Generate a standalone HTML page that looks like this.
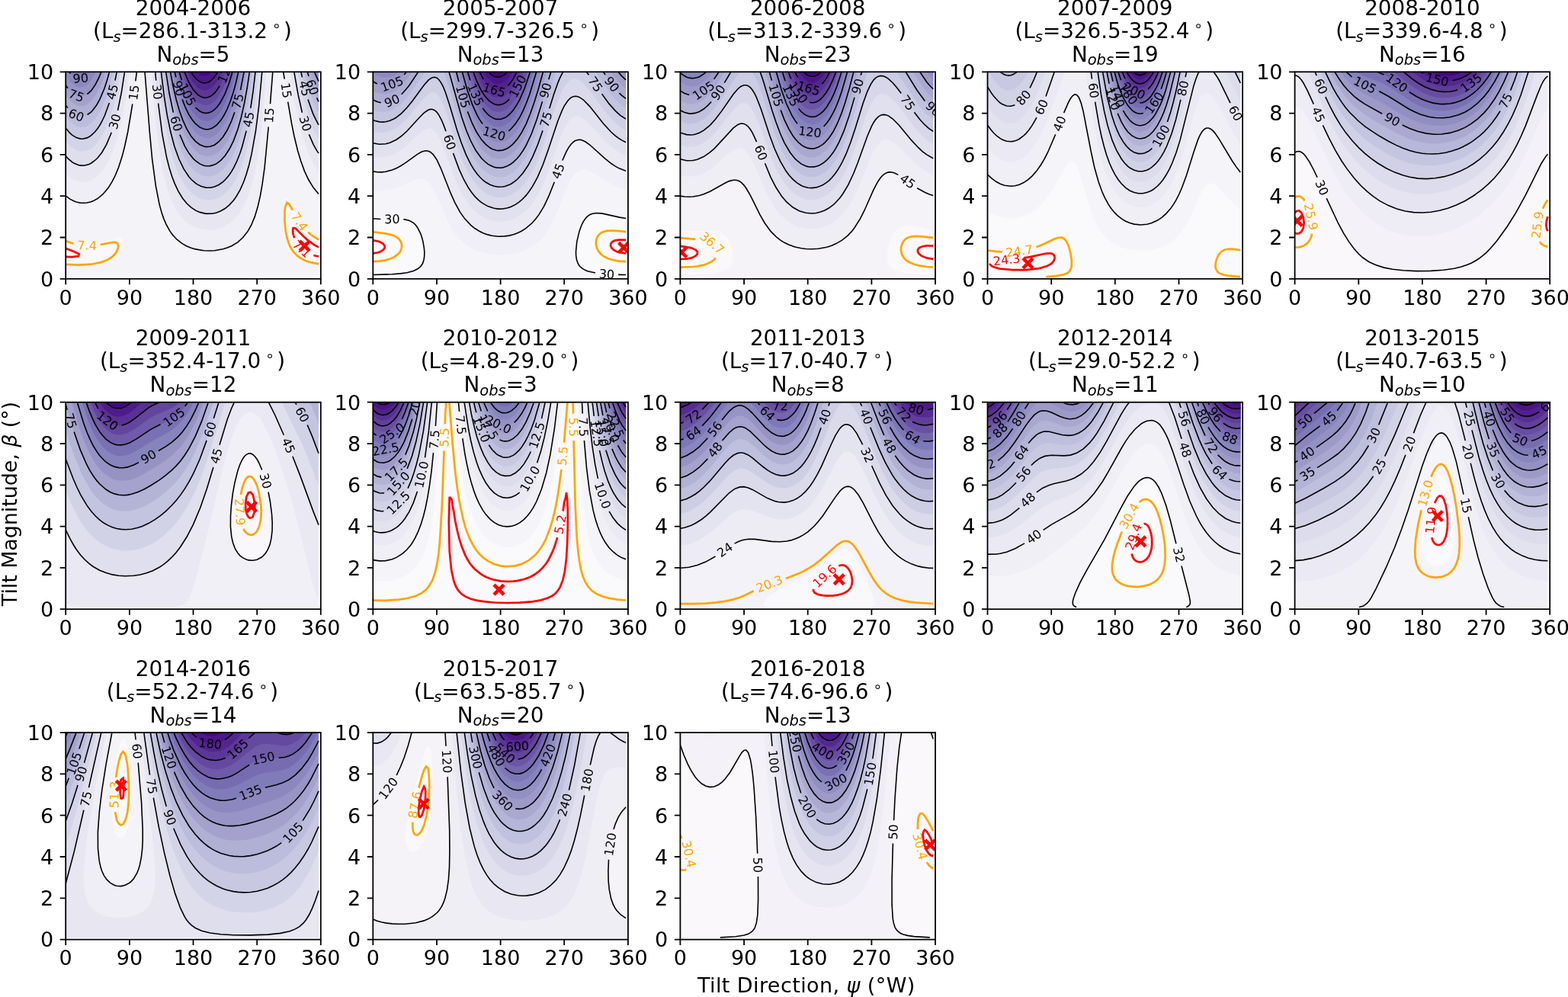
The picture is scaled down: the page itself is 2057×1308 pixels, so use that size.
<!DOCTYPE html>
<html><head><meta charset="utf-8"><title>Tilt fits</title><style>
*{margin:0;padding:0}
html,body{width:2057px;height:1308px;background:#fff;overflow:hidden}
svg{display:block}
text{font-family:"DejaVu Sans","Liberation Sans",sans-serif}
.tl{font-size:27px;fill:#000}
.tt{font-size:27.8px;fill:#000}
.cl{text-anchor:middle;dominant-baseline:central}
.sub{font-style:italic;font-size:0.7em}
.sup{font-size:0.66em}
</style></head>
<body><svg width="2057" height="1308" viewBox="0 0 2057 1308">
<rect width="2057" height="1308" fill="#fff"/>
<clipPath id="c1"><rect x="86.2" y="94.3" width="334.6" height="271.5"/></clipPath>
<g clip-path="url(#c1)">
<rect x="86.2" y="94.3" width="331.8" height="268.8" fill="#faf8fb"/>
<path fill="#f4f3f8" d="M86.2 363.1l331.8 0 0-14.6-13.9-2.9-10.3-4.2-7.4-5.5-2.5-2.7-3.7-5.4-4-9.5-2.8-12.1-1.2-11-0.5-13.6 0.4-10.8 1-8.2 0.3-1.7 2.8-2.3 2.8 3.3 11.7 22.5 7.3 10.8 8.9 9.5 5.5 4.3 5.6 3.4 0-218.1-331.8 0 0 219.5 5.6 2.3 8.3 2.3 8.4 1.2 8.4 0.3 8.3-0.6 8.4-1.5 19.5-6.1 2.8-0.4 2.8 0.5 1.9 2.4 0.7 5.4-2.1 8.2-3.1 5.4-5.2 5.5-4 2.7-5.7 2.7-7.6 2.4-13.9 2.4-16.8 0.9-16.7-0.9 0 11.5z"/>
<path fill="#efedf5" d="M260.6 327.8l12.4 1.2 11.2-0.7 11.1-2.4 11.2-4.7 8.3-5.8 6.4-6.6 5.6-8.2 5.3-10.8 3.9-10.9 4.2-16.3 3.2-16.3 2.7-19 4.1-38 7.6-95-167.8 0 6.5 81.5 4.4 43.4 4.3 29.9 2.7 13.5 3.4 13.6 3.6 10.9 4.9 10.8 5.1 8.2 4.4 5.4 5.9 5.4 7.1 4.7 8.4 3.6 8.4 2.3zM101.6 265.3l6.9 1.1 5.6-0.4 8.3-2.4 5.6-3.1 5.6-4.3 6.5-7.1 5.6-8.2 5.6-10.9 4.4-10.8 3.6-10.9 6.8-27.1 5.4-29.9 7.9-57-93.2 0 0 162.7 5.6 4.1 8.3 3.9zM415.5 251.8l2.5 2.6 0-160.1-46.3 0 10.9 67.9 3.9 19 4.8 19 5.1 16.3 5.5 13.5 5.7 10.9 7.6 10.6z"/>
<path fill="#e7e6f1" d="M264 300.6l9 1.2 11.2-1.1 8.3-2.8 8.4-4.8 7-6 6.6-8.2 4.9-8.1 5-10.9 4.4-12.5 3.9-14.6 6.2-32.6 5.3-43.5 5.1-62.4-150.6 0 3.8 48.9 5.1 46.1 5.4 32.6 6.1 24.4 3.7 11.2 4.6 10.6 4.5 8.1 4.9 6.8 5.5 6 5.6 4.5 5.6 3.4 8.4 3.2zM103.4 238.2l5.1 0.6 5.6-0.6 5.6-1.9 5.5-3.3 5.6-4.9 5.6-6.9 4.6-7.4 3.8-7.3 7.5-19.9 7.1-27.1 6-32.6 4.3-32.6-83.5 0 0 133.3 8.4 6.9 8.3 3.6zM416.1 221.9l1.9 2.5 0-130.1-37.8 0 6.5 40.7 4.4 21.7 4.1 16.3 4 13.6 5.1 13.6 5.3 11.4 5.6 9.1z"/>
<path fill="#dedeed" d="M263.4 278.9l6.8 1.5 8.4-0.1 8.4-2.2 8.3-4.6 5.6-4.6 5.6-6.3 5.6-8.2 5.5-11 4.2-10.6 4.2-13.7 3.9-16.2 3.2-16.3 5.8-40.7 4.9-51.6-140.1 0 4.1 43.4 5 38.1 5.6 29.8 5.8 21.7 7 18.3 4.7 8.9 3.7 5.7 5.5 6.8 5.6 5.1 5.6 3.8 5.6 2.5zM102.8 216.5l5.7 0.7 5.6-0.8 5.6-2.4 2.7-1.8 4.5-3.9 3.9-4.3 4.6-6.5 3.8-6.8 7.4-17.7 6.4-21.7 5.3-24.4 5.2-32.6-77.3 0 0 110.4 5.6 5.7 2.8 2.2 5.5 3zM417.4 200.2l0.6 0.9 0-106.8-32.2 0 5.8 32.6 7.2 29.8 8.1 23.5 4.1 9.1 4.6 8.2z"/>
<path fill="#d4d4e8" d="M261.8 259.9l5.6 1.9 8.4 0.6 8.4-1.9 5.5-2.7 5.6-4.1 5.6-5.6 5.6-7.6 5.7-10.5 4.6-10.8 3.7-10.9 3.7-13.5 3.7-16.3 5.8-35.3 5.5-48.9-131.4 0 3.5 32.6 4.6 32.6 5.2 27.1 5.7 21.7 7.1 19 7.3 13.6 3.9 5.5 5.6 6.1 8.4 6.1zM101.2 197.5l4.5 1.1 5.6-0.2 5.6-1.9 2.8-1.6 3.5-2.9 4.8-5 7.3-11.2 6.7-14.7 5.8-17.9 5.4-21.7 5-27.2-72 0 0 91 5.6 6.2 2.8 2.3 5.5 3.3zM417.9 181.2l0.1-86.9-27.5 0 6.2 29.9 5.9 21.7 7 19.4 6.7 13.2z"/>
<path fill="#c8c8e2" d="M262 243.6l5.4 2 8.4 0.6 5.6-1.2 5.6-2.5 5.5-3.9 5.6-5.7 5.6-7.7 5.6-10.3 3.9-9.3 4.4-12.8 6.5-25.2 5.8-32.6 5.1-40.7-123.6 0 4.4 35.3 4.6 27.1 5.2 23.8 5.6 18.8 5.8 14.5 4.2 8.1 3.9 6.4 8.4 9.6 8.4 5.7zM101.8 181.2l6.7 1 5.6-1.3 2.8-1.4 2.8-1.9 4.8-4.6 6.3-8.5 6.7-13.2 5.9-16.3 5.2-19 4.6-21.7-67 0 0 73.7 5.6 6.7 2.8 2.5 5.5 3.4zM417.1 162.2l0.9 1.6 0-69.5-23.1 0 4.3 19 4.9 17.6 5.5 15.8 6 12.8z"/>
<path fill="#bcbddc" d="M265 230l5.2 1.4 5.6 0 5.6-1.4 5.6-2.9 5.5-4.5 5.6-6.5 5-7.8 3.4-6.4 7.1-18 6.8-24.8 5.8-29.5 4.9-35.3-116.5 0 4.2 29.9 4.5 24.4 5.1 21.8 5.6 17.8 6.2 14.7 7.7 13 8.4 9 8.4 5zM99 164.9l3.9 1.6 2.8 0.5 5.6-0.6 2.8-1 5.6-3.7 6.7-7.7 6.4-10.8 5.7-13.6 5.2-16.3 4.7-19-62.2 0 0 58.1 5.6 6.9 5.6 4.7zM416.9 145.9l1.1 2 0-53.6-18.9 0 7.8 27.8 3.7 10.2 4.9 10.9z"/>
<path fill="#b0afd4" d="M265.4 216.5l4.8 1.2 5.6-0.1 5.6-1.6 5.6-3.3 4.8-4.4 3.5-4.1 4.6-6.7 3.8-7 7.1-17.5 6.3-21.7 5.6-27.1 4.7-29.9-109.7 0 4.2 27.2 4.4 21.7 4.9 19.1 5.6 16.7 5.8 13 8.1 12.9 5.6 5.9 2.8 2.3 5.6 3.1zM99.9 151.3l5.8 1.5 5.6-0.7 5.6-3 6-5.9 5.1-7.4 5.6-11.2 5.6-15.1 4.3-15.2-57.3 0 0 43.6 5.6 7.3 5.6 4.7zM417.5 132.3l0.5 1 0-39-14.7 0 6.3 20.2 6.5 15.1z"/>
<path fill="#a4a1cc" d="M263.8 202.9l3.6 1.4 5.6 0.7 5.6-1.1 2.8-1.1 4.1-2.6 4.2-3.7 5.6-6.9 3.6-5.7 7.6-16.3 6.2-19 5.8-24.4 5.2-29.9-103.1 0 3.8 21.7 4 19 5.1 19 4.7 13.6 4.8 10.9 6.3 10.8 7 8.4 5.6 4.2zM99.3 137.7l3.6 1.4 5.6 0.2 5.6-2.2 5.6-4.6 5.5-7.2 5.1-9.3 3.5-8.1 4.6-13.6-52.2 0 0 30.1 5.6 7.4 5.6 4.9zM417.6 118.7l0.4 0.9 0-25.3-10.3 0 4.7 13.2 3.8 8.5z"/>
<path fill="#9894c5" d="M267.2 192l3 0.6 5.6-0.3 5.6-2.1 2.8-1.9 7.2-7.1 6.7-10.4 5.6-12 6.2-18.3 5.5-21.8 4.7-24.4-96.6 0 3.6 19 4.5 19 5.2 17.2 4.9 12.7 6.2 12.2 5.6 7.9 5.6 5.4 5.6 3.4zM97.4 124.2l5.5 2.3 5.6 0 5.2-2.3 3.2-2.4 5-5.8 3.3-5.1 4.3-8.5 3.4-8.1-46.7 0 0 17.3 5.6 7.6 5.6 4.9zM417.2 105.2l0.8 1.5 0-12.4-5.6 0 3.5 8.1z"/>
<path fill="#8c88bf" d="M262.7 178.5l4.7 2 2.8 0.5 5.6-0.5 2.8-1 5.6-3.5 2.8-2.5 5.5-7 6.9-12.5 6.3-16.3 6.1-21.7 4.6-21.7-90.1 0 3.5 16.3 4.2 16.4 4.3 13.5 4 10.5 4.1 8.5 4.3 7.1 5.6 6.9 5.6 4.5zM99.6 113.3l3.3 1.1 2.8 0.2 4.9-1.3 3.5-2 5.6-5.7 6.9-11.3-40.4 0 0 5.2 5.6 7.7 5.6 4.9zM417.9 94.3l0.1 0z"/>
<path fill="#807cba" d="M263.2 167.6l4.2 1.7 2.8 0.5 5.6-0.7 5.6-2.8 2.8-2.2 6.3-7.4 6.3-10.8 5.6-13.6 5.1-16.3 5.2-21.7-83.5 0 7.6 29.2 7.4 19.7 3.7 7.3 5.6 8.5 2.8 3.2 5.6 4.7zM101.9 102.4l3.8 0.4 5.6-1.9 2.8-2 4.3-4.6-27.8 0 4 4.2 5.5 3.5z"/>
<path fill="#776cb1" d="M263 156.7l4.4 1.8 2.8 0.4 5.6-0.9 2.8-1.2 3.8-2.8 4.6-4.6 2.5-3.5 5.8-10.2 4.9-11.5 4.5-13.6 4.2-16.3-76.8 0 6.1 21.7 6.9 17.8 3.5 6.7 4.9 7.6 2.8 3.3 5.6 4.7z"/>
<path fill="#6e5aa8" d="M262.1 145.9l5.3 2.2 5.6 0 5.6-2.3 6.1-5.3 5-6.9 5.6-10.7 5.6-14.7 4.1-13.9-69.8 0 6 19 6.7 15.4 5.6 8.9 2.8 3.4 5.6 4.8z"/>
<path fill="#65489f" d="M266.7 137.7l3.5 0.5 5.6-1.4 5.6-3.9 2.8-3 4-5.7 4.3-7.8 4.7-11.2 3.7-10.9-62.5 0 6.7 18.3 5.6 10.7 5.6 7.6 2.8 2.7 5.6 3.5z"/>
<path fill="#5c3797" d="M263.8 126.9l3.6 1.2 5.6-0.5 5.6-3 2.8-2.5 4.7-6.1 3.6-6.1 6.7-15.6-54.5 0 3.2 8.2 5.6 11 5.6 7.7 5.6 4.7z"/>
<path fill="#53268f" d="M261.3 116l3.4 1.7 2.7 0.7 5.6-0.7 2.8-1.4 3.8-3 4.6-5.4 3.3-5.5 4-8.1-45.7 0 4.9 9.7 2.8 4.2 5.6 6.2z"/>
<path fill="#4c1788" d="M263.6 107.9l3.8 1 2.8-0.2 5.6-2.4 5.6-5.4 4.4-6.6-35.3 0 5.8 8.1 5.6 4.7z"/>
<path fill="#430780" d="M260.4 97l4.3 2.1 2.7 0.5 2.8-0.3 2.8-1.1 5.1-3.9-20.9 0 1.9 1.8z"/>
<path fill="none" stroke="#000" stroke-width="1.6" d="M86.2 257l5.6 4.1 5.6 2.9 2.7 1 5.6 1.2 5.6 0.1 2.8-0.3 5.6-1.3 2.7-1.1 5.6-3.1 7.3-6 6.7-7.9 5.2-8.4 4.1-8.2 4.4-10.8 4.4-13.6 3.5-13.6 4.1-19 6.1-36.5M177.8 106.4l1.6-12.1M190 94.3l6.3 78.7 3.3 35.3 4.7 35.3 4.8 24.5 3 10.8 2.8 8.2 3.5 8.1 4.6 8.2 4 5.4 5.1 5.4 7 5.4 6 3.4 5.6 2.2 5.6 1.7 11.1 1.8 8.4 0.3 5.6-0.3 11.1-2 5.6-1.7 5.6-2.3 8.4-5.1 6.7-6.1 6.3-8.1 4.6-8.2 4.5-10.8 4.1-13.6 3.1-13.6 2.8-16.3 3-21.7 5-52.7M354.5 136.2l3.3-41.9M371.7 94.3l1.5 9.4M377.7 133.7l4.9 28.5 3.3 16.3 4.6 19 4.1 13.5 4.9 13.6 5.1 10.9 6.6 10.8 6.8 8.1M86.2 204.7l3.4 3.6 5 4.3 2.8 1.7 5.5 2.2 2.8 0.6 5.6-0.1 5.6-1.6 2.8-1.4 4.2-3 4.1-3.7 5.6-7.1 6.2-10.9 6.5-15.5M154.5 144.9l4.8-23.4 4.2-27.2M203.7 94.3l1 11.3M207.6 135.6l5.2 40.2 5.6 29.8 3.4 13.6 3.8 12.4 3.6 9.3 4.8 10.3 5.6 9 5.5 6.8 5.6 5.1 5.6 3.8 5.6 2.5 8.3 2 8.4-0.1 5.6-1.3 5.5-2.2 5.6-3.3 5.6-4.6 5.6-6.2 3.8-5.5 4.7-8.1 4.8-10.9 3.4-9.7 3.5-12 3.2-13.6 5.4-29.9 4.2-32.5 4.3-46.2M385.8 94.3l5.3 29.9 5.3 23.5M405.4 176.4l5.6 12.9 4.2 7.6 2.8 4.2M86.2 168l5.6 6.7 2.8 2.5 5.5 3.4 5.6 1.5 2.8 0.1 5.6-1.3 2.8-1.4 2.8-1.9 4.8-4.6 3.5-4.3 2.8-4.2 2.8-5 3.9-8.2 5.9-16.3M151 105.7l2.2-11.4M211.4 94.3l4 32.6 3.9 24.4 4.5 21.7 5 19 5.8 16.3 6.6 13.6 6.7 10.1 3.1 3.5 5.3 4.7 2.8 1.9 5.6 2.7 5.5 1.3 5.6 0.1 5.6-1.2 5.6-2.5 5.5-3.9 2.8-2.6 5.1-6 3.3-4.8 3.4-6 3.9-8.2 3.8-9.7 2.8-8.5 5.6-21.2M328.8 141.8l3.4-23.1 2.8-24.4M394.9 94.3l1.5 7M404 130.6l6.4 18 3.8 8.1 3.8 7.1M86.2 137.9l2.6 3.7M114.6 150.5l5.1-3.7 2.7-3 4.4-6.1 4-7.1 6.2-14.6 3.5-10.8 3-10.9M217.7 94.3l4.2 27.2 5.4 26.1M235.9 176.6l6.4 15 5.6 9.5 5.6 7 3 2.9 5.4 3.9 5.5 2.3 2.8 0.5 5.6-0.1 5.6-1.6 2.8-1.4 5.5-4.2 5.6-6.2 6.1-9.4 5.1-10.4 5.6-15.2 4.3-15.2 4-17.7 3.7-20.3 3.3-21.7M403.3 94.3l1.7 5.8M415.5 128.4l2.5 4.9M86.2 111.6l2.7 4.1M114.4 123.7l5.3-4.8 5.5-8 4.3-8.5 3.4-8.1M223.5 94.3l3.6 19 4.1 17.5 4.4 15.1 4 11.2 5.5 12.4 5.6 9.2 5.6 6.6 5.6 4.4 5.5 2.4 2.8 0.5 5.6-0.3 5.6-2.1 5.6-4.2 5.5-6.3 5.6-8.9 5.6-12 4.1-11.5M315.5 118.1l4.6-23.8M412.4 94.3l5.6 12.4M90.6 94.3l1.9 2.2M118.1 94.7l0.3-0.4M229.2 94.3l1.6 7.1M239.1 130.4l3.9 10.1 4.9 10 4 6.2 4.4 5.5 5.6 4.7 5.5 2.4 2.8 0.5 2.8-0.1 2.8-0.6 2.8-1.1 5.6-3.9 5.5-6.3 4.2-6.5 4.2-8.3 4.3-10.7 3.6-10.8 3.3-12 3.4-15.2M235.2 94.3l3.2 11M256.5 141.2l5.4 4.6 2.8 1.4 2.7 0.9 2.8 0.3 2.8-0.3 2.8-0.8 2.8-1.5 3.4-2.6 2.7-2.7 4.1-5.5 5.9-10.8 5.4-13.6 4.9-16.3M241.9 94.3l6 14.2 5.6 9.2 5.6 6.2 2.8 2 2.8 1.4 2.7 0.8 2.8 0.1 2.8-0.6 2.8-1.1 2.8-1.9 2.8-2.5 2.8-3.3 4-6M250.5 94.3l3 4.7 2.8 3.4 2.8 2.7 2.8 2 2.8 1.2 2.7 0.6 2.8-0.2 2.8-0.8 2.8-1.6 2.8-2.3 2.8-3.1 4.4-6.6"/>
<text x="175.8" y="121.4" transform="rotate(-82.3 175.8 121.4)" fill="#000" font-size="16" class="cl">15</text>
<text x="353.3" y="151.3" transform="rotate(-85.8 353.3 151.3)" fill="#000" font-size="16" class="cl">15</text>
<text x="375.4" y="118.7" transform="rotate(-278.6 375.4 118.7)" fill="#000" font-size="16" class="cl">15</text>
<text x="150.8" y="159.5" transform="rotate(-74.2 150.8 159.5)" fill="#000" font-size="16" class="cl">30</text>
<text x="206.1" y="120.6" transform="rotate(-275.6 206.1 120.6)" fill="#000" font-size="16" class="cl">30</text>
<text x="400.5" y="162.2" transform="rotate(-287.2 400.5 162.2)" fill="#000" font-size="16" class="cl">30</text>
<text x="147.5" y="120.5" transform="rotate(-75.6 147.5 120.5)" fill="#000" font-size="16" class="cl">45</text>
<text x="326.3" y="156.7" transform="rotate(-79.3 326.3 156.7)" fill="#000" font-size="16" class="cl">45</text>
<text x="399.9" y="116.0" transform="rotate(-284.5 399.9 116.0)" fill="#000" font-size="16" class="cl">45</text>
<text x="100.1" y="151.4" transform="rotate(-338.8 100.1 151.4)" fill="#000" font-size="16" class="cl">60</text>
<text x="231.2" y="162.3" transform="rotate(-286.3 231.2 162.3)" fill="#000" font-size="16" class="cl">60</text>
<text x="409.6" y="114.5" transform="rotate(-290.3 409.6 114.5)" fill="#000" font-size="16" class="cl">60</text>
<text x="100.1" y="125.6" transform="rotate(-340.4 100.1 125.6)" fill="#000" font-size="16" class="cl">75</text>
<text x="312.1" y="132.8" transform="rotate(-75.3 312.1 132.8)" fill="#000" font-size="16" class="cl">75</text>
<text x="105.7" y="102.8" transform="rotate(-4.5 105.7 102.8)" fill="#000" font-size="16" class="cl">90</text>
<text x="234.6" y="116.0" transform="rotate(-285.9 234.6 116.0)" fill="#000" font-size="16" class="cl">90</text>
<text x="245.7" y="124.2" transform="rotate(-296.0 245.7 124.2)" fill="#000" font-size="16" class="cl">105</text>
<text x="296.4" y="94.3" transform="rotate(-67.3 296.4 94.3)" fill="#000" font-size="16" class="cl">120</text>
<path fill="none" stroke="#ffa500" stroke-width="2.7" d="M418 346.4l-11.1-2.3-7.5-2.7-5.2-2.7-4.1-3-5.1-5.2-3.2-4.8-1.7-3.3-1.2-2.8-2.5-8.1-1.6-8.1-1.4-13.6 0.1-13.6 0.9-5.4 1.8-4.8 2.8 1.4 5 8.3M404.1 304.6l5.5 4.6 8.4 5.3M86.2 315.9l5.6 2.3 4.8 1.4M131.7 320.9l15.8-2.9 2.8-0.1 2.8 0.7 1.1 1 0.9 2.8-0.2 2.7-1.8 4.7-2.8 4-2.1 2.1-3.5 2.8-4.9 2.7-7.3 2.7-12.8 2.6-16.8 1-16.7-0.9"/>
<text x="392.9" y="290.9" transform="rotate(-304.3 392.9 290.9)" fill="#ffa500" font-size="16" class="cl">7.4</text>
<text x="114.1" y="322.1" transform="rotate(-358.1 114.1 322.1)" fill="#ffa500" font-size="16" class="cl">7.4</text>
<path fill="none" stroke="#ff0000" stroke-width="2.7" d="M418 336.5l-6.7-1.5M386.1 312.1l-1.8-6-0.1-5.5 0.4-1.5 2.7 0.2 11.2 11.1 5.6 5 8.3 6 5.6 3M86.2 325.8l11.8 4.7 5.7 2.7-0.8 2.8-8.3 1.2-8.4-0.3"/>
<text x="395.7" y="326.7" transform="rotate(-318.0 395.7 326.7)" fill="#ff0000" font-size="16" class="cl">7.1</text>
<path stroke="#ff0000" stroke-width="4.5" d="M393.1 316.1L406.1 329.1M393.1 329.1L406.1 316.1"/>
</g>
<rect x="86.2" y="94.3" width="334.6" height="271.5" fill="none" stroke="#000" stroke-width="1.8"/>
<text x="86.2" y="399.6" class="tl" text-anchor="middle">0</text>
<text x="169.9" y="399.6" class="tl" text-anchor="middle">90</text>
<text x="253.5" y="399.6" class="tl" text-anchor="middle">180</text>
<text x="337.2" y="399.6" class="tl" text-anchor="middle">270</text>
<text x="420.8" y="399.6" class="tl" text-anchor="middle">360</text>
<text x="70.1" y="375.6" class="tl" text-anchor="end">0</text>
<text x="70.1" y="321.3" class="tl" text-anchor="end">2</text>
<text x="70.1" y="267.0" class="tl" text-anchor="end">4</text>
<text x="70.1" y="212.7" class="tl" text-anchor="end">6</text>
<text x="70.1" y="158.4" class="tl" text-anchor="end">8</text>
<text x="70.1" y="104.1" class="tl" text-anchor="end">10</text>
<path stroke="#000" stroke-width="1.8" d="M86.2 365.8v7.5M169.9 365.8v7.5M253.5 365.8v7.5M337.2 365.8v7.5M420.8 365.8v7.5M86.2 365.8h-7.5M86.2 311.5h-7.5M86.2 257.2h-7.5M86.2 202.9h-7.5M86.2 148.6h-7.5M86.2 94.3h-7.5"/>
<text x="253.5" y="19.8" class="tt" text-anchor="middle">2004-2006</text>
<text x="252.5" y="50.0" class="tt" text-anchor="middle">(L<tspan class="sub" dy="4.5">s</tspan><tspan dy="-4.5">=286.1-313.2</tspan><tspan class="sup" dx="6" dy="-10">∘</tspan><tspan dx="3.5" dy="10">)</tspan></text>
<text x="253.5" y="80.8" class="tt" text-anchor="middle">N<tspan class="sub" dy="4.5">obs</tspan><tspan dy="-4.5">=5</tspan></text>
<clipPath id="c2"><rect x="489.3" y="94.3" width="334.6" height="271.5"/></clipPath>
<g clip-path="url(#c2)">
<rect x="489.3" y="94.3" width="331.8" height="268.8" fill="#faf9fc"/>
<path fill="#f5f4f9" d="M489.3 363.1l331.8 0 0-2.6-19.5-0.5-13.9-1.1-11.2-1.7-8.4-2.6-5.5-3.4-3.8-4.4-1.8-4.1-1-4-0.5-8.2 1.8-16.3 2.5-10.2 2.1-6.1 3.4-7.3 2.4-3.5 3.2-3.4 2.8-2 5.6-1.9 8.4-0.1 33.4 6.8 0-192.2-331.8 0 0 192.5 13.9 0.8 25.1-0.1 8.4 1.7 5.6 3.2 5.6 6.3 4.7 10.1 3.4 13.6 0.8 10.8-0.9 8.2-2.1 5.4-1.9 2.7-3.1 2.7-5.1 2.7-9.8 2.8-11.1 1.5-16.8 1-16.7 0.3z"/>
<path fill="#f0eef6" d="M642.7 333.2l8.3 0.8 11.2 0 8.3-0.8 8.4-1.6 8.4-2.6 5.5-2.4 7.3-4.2 6.7-5.4 5.3-5.5 4.2-5.4 8-13.6 6.2-13.6 12.5-31.7 5.6-11.6 5.6-8 5.6-4.3 5.5-1.3 2.8 0.3 5.6 1.9 30.7 18.6 8.3 3.7 8.4 2.4 0-154.6-331.8 0 0 155.1 11.2 0.7 11.1-1.5 11.2-3.4 16.7-7.5 8.4-2.8 5.5-0.3 5.6 2.1 4.6 4.2 3.9 5.4 5.5 10.6 15.6 35.6 6.3 10.9 5.9 8 8.4 8.2 8.4 5.6 11.1 4.8 11.2 2.8z"/>
<path fill="#eae8f2" d="M643.5 308.8l7.5 1.2 8.4 0.1 8.4-1 8.3-2.3 7.7-3.4 6.3-4 5.5-4.5 5-5.1 9-12.2 7.9-15 6.9-16.3 13.1-34.9 5.5-12.5 5.6-9 2.8-3 2.8-2.1 2.8-1.1 2.8-0.4 2.8 0.3 5.5 2.4 8.4 6.3 16.7 15.4 8.4 6.7 11.1 6.7 8.4 3.1 0-129.9-331.8 0 0 130.6 5.6 0.8 5.6 0.2 5.5-0.7 8.4-2.2 11.1-5.3 22.4-15.6 5.5-3 5.6-1.3 2.8 0.4 2.8 1.3 2.8 2.3 2.8 3.3 5.5 9.9 18.2 44.9 6.8 13.6 5.7 9.1 8.4 10.1 8.3 7.1 8.4 4.9 11.2 3.9z"/>
<path fill="#e2e1ef" d="M646.4 289.8l7.4 1 5.6 0 8.4-1.5 5.5-1.8 8.4-4.4 5.6-4.2 5.5-5.3 4.7-5.5 8.8-13.6 7.8-16.3 7.3-19 13.3-37.7 5.5-12.9 5.6-9.3 2.8-3.2 2.8-2.1 2.8-1.2 2.8-0.4 2.8 0.4 5.5 2.7 8.4 7.4 19 21 8.9 8.5 10.9 7.8 8.6 4 0-109.9-331.8 0 0 110.7 8.4 1.3 5.5-0.2 8.4-1.9 5.6-2.3 5.6-3.1 8.3-6.1 19.5-17.9 5.6-4.1 5.6-2.2 2.8 0.1 2.8 1 2.8 2.1 2.8 3.4 5.5 10.3 19.8 52.8 6.3 13.6 6.4 10.8 6.6 8.9 8.3 8.2 8.4 5.6 5.6 2.6 5.5 1.7z"/>
<path fill="#dadaeb" d="M649.2 273.5l7.4 0.6 5.6-0.5 5.6-1.4 5.5-2.3 5.6-3.3 5.6-4.4 5.6-5.8 5.5-7.3 8.1-13.6 7.3-16.3 6-16.3 14.9-44.4 5.6-13.9 2.7-5.5 4.6-6.8 3.8-3.8 2.8-1.6 2.8-0.6 2.8 0.2 2.8 0.9 5.5 3.6 8.4 8.6 17.9 22.6 9.9 10.8 9.7 8.2 9.9 5.5 0-92.4-331.8 0 0 93.4 5.6 1.3 8.3 0.2 5.6-1.1 8.4-3.3 5.8-3.6 8.1-6.6 22.3-23.8 5.6-4.8 5.6-2.6 2.8 0.1 2.8 1.2 2.8 2.4 2.7 3.8 5.6 11.5 18.8 54.1 6.3 14.9 6.4 12.2 7.6 11 8.3 8.7 8.4 5.9 5.6 2.5 5.5 1.6z"/>
<path fill="#cfd0e6" d="M644.9 257.2l6.1 1.6 5.6 0.3 8.4-1.4 5.5-2.1 5.6-3.3 5.6-4.5 5.6-6 5.5-7.5 8.4-14.9 7.1-16.5 7.6-21.7 13.2-41.4 5.6-14.8 5.9-11.7 5.2-6.6 2.8-2 2.8-1.1 2.8-0.3 2.8 0.6 2.8 1.2 5.5 4.3 8.4 9.5 17.7 24.3 10.2 12.4 10 9.3 9.5 6 0-76.6-331.8 0 0 77.7 8.4 2 5.5 0 8.4-1.9 8.4-4.2 5.5-4.1 8.4-8 19.5-23.8 5.6-6 5.6-4 2.8-0.7 2.8 0.3 2.8 1.6 2.7 3 5.6 10.4 5.6 15.3 15.6 48.3 5.4 13.6 6.6 13.5 5.9 9.4 7.9 9.6 6 5.2 8.4 4.9z"/>
<path fill="#c4c5e0" d="M646 243.6l7.8 1.6 5.6-0.2 5.6-1.3 5.5-2.5 5.6-3.8 5.6-5.1 5.6-6.7 4.2-6.4 6.9-12.7 7.3-17.2 7.4-21.7 16-51.4 5.6-14.3 3.9-7.6-249.3 0 0 63.3 8.4 2.3 5.5 0.2 5.6-0.9 5.6-2.1 5.6-3.1 6.8-5.4 7.1-7.3 7.3-9 15-20.6 5.6-6.3 5.6-3.7 2.8-0.4 2.8 0.9 2.7 2.3 4 6.1 4.4 9.9 18.9 60.7 6 16.3 5.8 12.9 6.6 11.5 7.3 9.6 8.4 7.5 8.3 4.5zM817.4 154l3.7 2.2 0-61.9-51.8 0 29.5 41.6 8.4 9.5 8.3 7.3z"/>
<path fill="#babadb" d="M644.5 230l6.5 2 5.6 0.4 5.6-0.9 5.6-2.2 5.5-3.5 5.6-4.9 5.6-6.6 4-6 8.6-16.3 7.6-19 24.6-78.7-147.4 0 2.3 5.4 5.5 16.5 15 51.4 4.7 13.6 5.4 12.9 5.9 11.5 8 11.8 5.6 5.9 8.4 5.9zM494 145.9l6.5 1.2 8.3-0.7 5.6-2 8.4-5.3 5.5-4.9 8.4-9.6 21-30.3-68.4 0 0 49.7 2.8 1.2zM818 140.5l3.1 2 0-48.2-39.5 0 11.6 18 8.4 11.6 7.2 8.4 6.7 6.3z"/>
<path fill="#aeadd3" d="M648.2 219.2l5.6 1 5.6-0.3 8.4-3.1 5.5-3.9 5.6-5.5 8.4-11.6 7.5-14.6 7.5-19 6.3-19 14.2-48.9-133.8 0 16.8 59.7 5.6 16.3 5.6 13.6 6.1 11.8 8.4 11.8 5.6 5.5 8.3 5.2zM491.7 132.3l6 2.1 8.3 0.4 5.6-1.3 8.4-4.3 6.1-5 7.8-8.4 5.9-7.9 8.9-13.6-59.4 0 0 36.8zM817.7 126.9l3.4 2.5 0-35.1-29.5 0 12.8 18.6 5.6 6.7 5.5 5.5z"/>
<path fill="#a3a0cb" d="M651.2 208.3l5.4 0.3 5.6-1.1 8.3-4.6 8.4-8.3 7.2-10.7 6.9-13.6 7.4-19 7-21.7 9.9-35.3-123.2 0 14.2 51.6 6.5 18.3 5.6 12.8 7 12.3 6.9 8.9 8.4 6.9 2.7 1.4 5.6 1.8zM494.5 121.5l6 1.6 5.5 0.2 5.6-1.2 5.6-2.4 5.6-3.9 5.5-5.1 5.6-6.4 7.1-10-51.7 0 0 24.5 2.8 1.6zM820 116l1.1 0.9 0-22.6-20 0 8.9 11.8 8.3 8.6z"/>
<path fill="#9995c6" d="M653 197.5l3.6 0 5.6-1.3 5.6-2.9 2.7-2.1 7.1-7.3 6.9-10.3 7-14.1 6.4-16.3 7-21.7 7.6-27.2-113.9 0 7.1 27.2 5.7 19 6.2 16.9 5.5 12.2 7 11.6 7 8.2 5.6 4.4 2.7 1.6 5.6 1.8zM496.2 110.6l4.3 1.3 5.5 0.4 8.4-2 8.4-5.1 5.5-5.2 4.9-5.7-43.9 0 0 12.6 5.6 3.2zM818.4 102.4l2.7 2.4 0-10.5-10.2 0 7.4 8.1z"/>
<path fill="#8e8ac0" d="M651.4 186.6l5.2 0.2 2.8-0.5 5.6-2.3 2.8-1.8 6.8-6.4 7.1-9.9 6.3-11.9 6.7-16.3 6.3-19 7-24.4-105.5 0 5.8 21.7 5.9 19 6.2 16.2 5.2 11 5.9 9.5 5.6 6.6 5.6 4.7 2.7 1.6 5.6 2zM496.6 99.7l6.6 1.9 5.6-0.1 8.4-2.8 6.4-4.4-34.3 0 0 1.1 5.6 3.5z"/>
<path fill="#827fbb" d="M649.3 175.8l4.5 0.8 2.8-0.2 5.6-1.5 2.8-1.5 6.9-5.8 7-9 5.6-10 7.1-16.3 5.7-16.3 6.4-21.7-97.4 0 9.5 32.6 4.6 12.1 5.5 12.2 5.6 9.4 5.6 7 5.6 4.9 5.5 3z"/>
<path fill="#7a71b4" d="M647.1 164.9l6.7 1.6 5.6-0.8 2.8-1.1 7.1-5.1 6.8-8 5.6-9.2 5.9-12.7 6.1-16.3 5.9-19-89.7 0 7.7 25.2 8.3 20.4 8.4 13.9 5.6 6.2 5.5 4.1z"/>
<path fill="#7261ab" d="M645.1 154l5.9 2.4 5.6 0.1 5.6-1.9 2.8-1.7 5.5-5 5.7-7.4 7.4-13.6 6.5-15.9 5.5-16.7-82.1 0 6.9 21.2 7.2 16.8 6.7 11.2 4.2 5.1 4.2 3.8z"/>
<path fill="#6950a3" d="M648.1 145.9l5.7 1.2 5.6-1 5.6-3.1 5.5-5.4 5.6-7.7 5.6-10.4 5.6-13.2 4.2-12-74.4 0 6.7 19 7.7 15.8 6.1 8.6 5.1 5 2.7 1.9z"/>
<path fill="#62429c" d="M645.3 135l5.7 2.4 5.6 0 5.6-2.2 5.6-4.5 5.5-7 4.6-7.7 4-8.1 5.4-13.6-66.5 0 5.1 13.4 5.6 11.3 5.6 8.4 5.6 5.8z"/>
<path fill="#5a3294" d="M647.4 126.9l3.6 1.2 5.6 0 5.6-2.4 2.8-2.1 4.5-4.9 3.8-5.2 5.6-10.1 4-9.1-58.2 0 4 9.3 5.6 10.2 5.6 7.4 5.5 4.7z"/>
<path fill="#52238d" d="M650.2 118.7l3.6 0.5 2.8-0.4 5.6-2.5 2.8-2.3 5.5-6.4 7.7-13.3-49.2 0 4.2 8.1 3.9 6 5.6 6.2 5.5 3.5z"/>
<path fill="#4a1587" d="M645.9 107.9l5.1 2.1 2.8 0.2 5.6-1.5 5.6-4.1 2.8-3.1 4.9-7.2-38.7 0 5.9 8.3 5.5 5z"/>
<path fill="#420680" d="M647.4 99.7l3.6 1.3 5.6-0.3 5.6-3 3.5-3.4-25.1 0 4.8 4.4z"/>
<path fill="none" stroke="#000" stroke-width="1.6" d="M821.1 360.5l-10-0.1M781 358l-10.1-2.3-2.8-1.1-4.3-2.4-3.1-2.7-1.9-2.7-2.2-5.4-0.9-5.5-0.2-5.4 1.3-13.6 3.2-13.5 2.6-7.2 2.7-5.6 2.8-4.1 2.8-2.8 2.8-2 2.8-1.2 5.6-1 8.3 0.6 22.3 5 8.4 1.4M489.3 286.8l10 0.7M529.4 287.6l7.3 1.6 5.6 3.2 2.8 2.6 2.2 2.9 4.3 8.2 1.9 5.4 1.4 5.4 1.4 8.2 0.5 5.4-0.1 5.4-0.5 4-1.1 4.2-1.3 2.7-1.9 2.7-4 3.3-5.6 2.7-8.4 2.2-8.4 1.2-11.1 0.9-25.1 0.7M489.3 224.9l5.6 0.8 5.6 0.2 5.5-0.7 8.4-2.2 5.6-2.3 5.5-3 6.1-3.9 16.3-11.7 5.5-3 2.8-0.9 2.8-0.4 2.8 0.4 2.8 1.3 3.8 3.4 4.6 6.6 5.5 11.8 12 30.5 6 13.5 7.1 13.1 6.2 8.7 7.8 8.2 5.5 4.5 5.6 3.5 5.6 2.6 5.6 2 5.5 1.3 8.4 1 8.4-0.3 5.6-0.8 5.5-1.4 5.6-2 5.6-2.7 5.6-3.6 8-6.9 4.8-5.4 3.9-5.2 6.7-11.1 6.5-13.6 7.3-18.4M737.8 210.5l5.2-11.6 2.8-5 3.3-4.6 2.7-2.7 2.4-1.8 2.2-0.9 3.4-0.6 2.8 0.3 5.5 2.4 5.6 4 19.5 17.7 8.4 6.7 5.6 3.7 5.5 3 8.4 3.1M489.3 187.7l8.4 1.6 8.3-0.5 5.6-1.6 8.4-4 6.6-4.7 7.3-6.5 16.7-18.3 5.6-5.5 5.6-3.9 2.8-0.9 2.8 0.1 2.8 1.2 2.8 2.4 2.7 3.8 2.8 5.1 2.8 6.4 3.7 9.9M594.5 201l7.7 20.9 6.2 13.6 6.4 11.3 3.4 5 4.9 6.1 4.8 4.7 3.6 3 8.4 5 8.3 2.7 5.6 0.8 5.6-0.1 5.6-1 5.5-1.8 5.6-2.8 4.5-3.1 3.9-3.1 5.6-5.8 3.6-4.6 4.7-6.9 6.6-12.1 7.1-16.3 6.8-19 13-39 5.6-13.9 2.7-5.5 4.6-6.8 3.8-3.8 2.8-1.6 2.8-0.6 2.8 0.2 2.8 0.9 5.5 3.6 8.4 8.6 17.9 22.6 9.9 10.8 5.7 5.1 4 3.1 4.3 2.7 5.6 2.8M489.3 157.6l2.8 1 5.6 1.3 5.5 0.2 2.8-0.3 5.6-1.5 5.6-2.6 2.8-1.7 6.8-5.4 7.1-7.3 7.3-9 15-20.6 5.6-6.3 2.8-2.2 2.8-1.5 2.8-0.4 2.8 0.9 2.7 2.3 2.8 3.8 2.8 5.4 2.8 6.8 5.6 17 9.7 32.8 5.5 16.3 6.4 16.3 6.3 12.7 3.8 6.3 4.5 6.4 4 4.5 4.4 4.1 2.8 2.1 5.6 3.3 5.5 2 5.6 0.9 5.6-0.2 2.8-0.5 5.6-1.9 2.7-1.4 4.6-3 3.8-3.2 7-7.7 6.9-10.3 6-11.4 6.9-16.3 6.3-18.1M720.8 142.3l5.5-17.8 5.6-15.9 2.8-6.7 3.9-7.6M769.3 94.3l3.1 3.9M789.5 123.1l9.3 12.8 8.4 9.5 6.5 5.9 7.4 4.9M489.3 131.1l5.6 2.5 4.8 1.1M526.7 123.7l4.4-4.7 5.6-6.8 12-17.9M589 94.3l16.8 59.7 6.2 17.8 5.6 13.2 6.6 12.5 7.3 10 3.5 3.5 4.9 4.1 2.8 1.7 5.5 2.4 2.8 0.7 5.6 0.3 2.8-0.3 5.6-1.8 5.5-3.1 2.8-2.1 4.8-4.6 3.6-4.3 4.5-6.5 3.9-6.6 7.1-15.1 7-19.1 7.3-23.4M719.8 104.2l3-9.9M791.6 94.3l2.4 3.8M812.4 122.1l3.1 3 5.6 4.3M489.3 106.9l5.5 3.1M530.2 97.9l3-3.6M598.6 94.3l3.3 13M613.3 146.2l6.3 16 5.4 10.8 6.5 10.1 5.6 6.3 5.6 4.4 2.7 1.6 5.6 1.8 2.8 0.4 5.6-0.5 5.6-2.1 2.8-1.7 4.8-4 6.3-7.1 5.6-8.6 5.6-10.8 5.5-13.5 5-14.3 5.1-16.3 6.8-24.4M810.9 94.3l4.6 5.3 5.6 5.2M606.3 94.3l6.9 24.4 6.6 19 6.1 13.5 2.8 5 4.3 6.4M667.3 171.8l3.2-2.8 5.6-6.4 5.6-8.6 4.2-8.1 4.2-9.6 4.5-12.1 9.1-29.9M613.5 94.3l3.3 10.9M633.2 142l3.9 5.1 2.8 2.9 2.8 2.4 5.5 3.2 2.8 0.8 5.6 0.1 5.6-1.9 2.8-1.7 4.8-4.3 3.5-4.1 4.6-6.8 3.8-6.9 6.5-14.8 7.4-21.7M620.8 94.3l5.1 13.4 5.6 11.3 5.6 8.4 5.6 5.8 5.5 3.4 2.8 0.8 2.8 0.3 2.8-0.3 2.8-0.9 2.8-1.3 2.8-2 3.2-3.1M687.2 94.6l0.1-0.3M629 94.3l5.2 9.7M666.4 112.6l4.1-5 2.8-4.2 4.9-9.1M640.6 94.3l4.8 4.4 2.8 1.5 2.8 0.8 2.8 0.2 2.8-0.5 2.8-1.2 2.8-1.8 3.5-3.4"/>
<text x="796.0" y="359.7" transform="rotate(-355.8 796.0 359.7)" fill="#000" font-size="16" class="cl">30</text>
<text x="514.4" y="287.5" transform="rotate(-0.9 514.4 287.5)" fill="#000" font-size="16" class="cl">30</text>
<text x="732.4" y="224.6" transform="rotate(-69.7 732.4 224.6)" fill="#000" font-size="16" class="cl">45</text>
<text x="589.8" y="186.6" transform="rotate(-288.3 589.8 186.6)" fill="#000" font-size="16" class="cl">60</text>
<text x="716.5" y="156.7" transform="rotate(-73.0 716.5 156.7)" fill="#000" font-size="16" class="cl">75</text>
<text x="781.1" y="110.6" transform="rotate(-304.1 781.1 110.6)" fill="#000" font-size="16" class="cl">75</text>
<text x="514.4" y="132.4" transform="rotate(-23.4 514.4 132.4)" fill="#000" font-size="16" class="cl">90</text>
<text x="715.7" y="118.7" transform="rotate(-74.1 715.7 118.7)" fill="#000" font-size="16" class="cl">90</text>
<text x="802.6" y="110.6" transform="rotate(-307.0 802.6 110.6)" fill="#000" font-size="16" class="cl">90</text>
<text x="514.4" y="110.3" transform="rotate(-20.3 514.4 110.3)" fill="#000" font-size="16" class="cl">105</text>
<text x="607.2" y="126.9" transform="rotate(-286.3 607.2 126.9)" fill="#000" font-size="16" class="cl">105</text>
<text x="648.2" y="175.5" transform="rotate(-343.6 648.2 175.5)" fill="#000" font-size="16" class="cl">120</text>
<text x="623.8" y="124.2" transform="rotate(-293.7 623.8 124.2)" fill="#000" font-size="16" class="cl">135</text>
<text x="679.3" y="113.3" transform="rotate(-62.6 679.3 113.3)" fill="#000" font-size="16" class="cl">150</text>
<text x="648.2" y="118.1" transform="rotate(-343.3 648.2 118.1)" fill="#000" font-size="16" class="cl">165</text>
<path fill="none" stroke="#ffa500" stroke-width="2.7" d="M821.1 343.2l-8.4-0.6-8.3-1.4-7.8-2.5-5.1-2.8-3.4-2.7-3.2-3.9-2.1-4.2-1-5.5 0.3-4.1 1.2-4 1.6-2.7 2.7-2.7 2.8-1.6 5.6-1.6 5.6-0.4 8.4 0.4 11.1 1.1M489.3 304.3l16.7 2.1 5.6 1.2 5.6 1.8 3.8 2.1 3 2.7 1.8 2.7 0.9 2.7 0.4 2.8-0.3 2.7-0.7 2.7-1.4 2.7-2.2 2.7-5.3 4-5.6 2.5-5.6 1.7-8.3 1.3-8.4 0.5"/>
<path fill="none" stroke="#ff0000" stroke-width="2.7" d="M821.1 332.3l-8.4-1.1-2.6-0.7-2.9-1.4-2.2-1.3-2.7-2.7-1.2-2.7 0.3-2.8 2.2-2.7 3.6-1.5 5.5-0.9 8.4 0.3M489.3 315.2l7.7 1.7 5.4 2.7 2.2 2.8 0.1 2.7-1.8 2.7-4.5 2.7-3.5 1-5.6 0.8"/>
<path stroke="#ff0000" stroke-width="4.5" d="M811.6 318.3L824.6 331.3M811.6 331.3L824.6 318.3"/>
</g>
<rect x="489.3" y="94.3" width="334.6" height="271.5" fill="none" stroke="#000" stroke-width="1.8"/>
<text x="489.3" y="399.6" class="tl" text-anchor="middle">0</text>
<text x="573.0" y="399.6" class="tl" text-anchor="middle">90</text>
<text x="656.6" y="399.6" class="tl" text-anchor="middle">180</text>
<text x="740.2" y="399.6" class="tl" text-anchor="middle">270</text>
<text x="823.9" y="399.6" class="tl" text-anchor="middle">360</text>
<text x="473.2" y="375.6" class="tl" text-anchor="end">0</text>
<text x="473.2" y="321.3" class="tl" text-anchor="end">2</text>
<text x="473.2" y="267.0" class="tl" text-anchor="end">4</text>
<text x="473.2" y="212.7" class="tl" text-anchor="end">6</text>
<text x="473.2" y="158.4" class="tl" text-anchor="end">8</text>
<text x="473.2" y="104.1" class="tl" text-anchor="end">10</text>
<path stroke="#000" stroke-width="1.8" d="M489.3 365.8v7.5M573.0 365.8v7.5M656.6 365.8v7.5M740.2 365.8v7.5M823.9 365.8v7.5M489.3 365.8h-7.5M489.3 311.5h-7.5M489.3 257.2h-7.5M489.3 202.9h-7.5M489.3 148.6h-7.5M489.3 94.3h-7.5"/>
<text x="656.6" y="19.8" class="tt" text-anchor="middle">2005-2007</text>
<text x="655.6" y="50.0" class="tt" text-anchor="middle">(L<tspan class="sub" dy="4.5">s</tspan><tspan dy="-4.5">=299.7-326.5</tspan><tspan class="sup" dx="6" dy="-10">∘</tspan><tspan dx="3.5" dy="10">)</tspan></text>
<text x="656.6" y="80.8" class="tt" text-anchor="middle">N<tspan class="sub" dy="4.5">obs</tspan><tspan dy="-4.5">=13</tspan></text>
<clipPath id="c3"><rect x="892.4" y="94.3" width="334.6" height="271.5"/></clipPath>
<g clip-path="url(#c3)">
<rect x="892.4" y="94.3" width="331.8" height="268.8" fill="#faf8fb"/>
<path fill="#f5f3f8" d="M892.4 363.1l331.8 0 0-2.4-16.7-0.6-14-1.1-8.8-1.3-9.2-2.8-4.7-2.7-2.8-2.7-1.7-2.7-1.8-5.4-0.5-5.5 1.1-10.8 3.3-11.8 2.8-5.9 2.7-4 2.9-3 2.8-2 5.6-2 8.3-0.2 30.7 5.5 0-207.4-331.8 0 0 207.7 13.9 1 27.9-0.1 5.6 0.7 5.6 1.7 5.6 3.5 2.7 3 2.8 4.1 3.8 9.2 1.9 10.8-0.9 8.2-2.7 5.4-4.9 4.1-5.5 2.4-8.4 2.1-13.9 1.6-33.5 1z"/>
<path fill="#f0eef5" d="M1047.6 325.1l9.3 1.4 8.4 0.3 8.3-0.5 8.4-1.4 8.4-2.5 5.5-2.3 8.4-4.7 5.6-4.3 8.4-8.7 8.5-12.6 5.8-10.9 13.5-30.2 5.6-10.6 5.6-7.4 5.6-4 5.5-0.9 2.8 0.5 5.6 2.2 30.1 20.6 8.9 4.5 8.4 2.8 0-162.1-331.8 0 0 162.8 11.2 1.2 5.5-0.3 8.4-1.5 5.6-1.7 8.3-3.6 25.1-13.6 5.6-1.4 5.6 0.6 5.6 3.3 5.5 6.7 5.6 9.6 15.4 30.7 6.9 10.8 5.6 7 6.8 6.6 7.6 5.4 7.9 4.1 11.2 3.7z"/>
<path fill="#e8e7f2" d="M1048 297.9l6.1 1.7 8.4 1 8.4-0.4 8.3-1.7 8.4-3.4 5.6-3.2 5.5-4.2 5.6-5.3 8.4-10.6 8.3-14.6 7.4-16.3 12.2-31 5.5-12 5.6-8.7 2.8-2.8 2.8-1.9 2.8-1 2.8-0.3 2.8 0.5 5.5 2.6 8.4 6.9 16.7 16.9 8.4 7.6 11.1 7.8 8.4 3.8 0-135-331.8 0 0 135.9 5.6 1.2 8.3 0.3 5.6-0.7 8.4-2.6 5.6-2.7 8.3-5.4 22.3-19.3 5.6-4 5.6-2.4 2.8-0.3 2.8 0.6 2.7 1.4 2.8 2.4 5.6 7.7 5.6 11.1 16.2 37 5.8 10.8 5.2 8.2 6.6 8.1 8 7.5 5.6 3.9 8.4 4.1z"/>
<path fill="#e0e0ee" d="M1055.6 278.9l6.9 1 5.6-0.1 5.5-0.9 5.6-1.7 5.6-2.7 5.6-3.6 5.5-4.8 5.7-6.2 8.3-12.2 7.6-14.9 7.7-19 12.6-35.1 5.6-13 5.5-9.1 2.8-2.9 2.8-2 2.8-1.1 2.8-0.2 2.8 0.6 2.8 1.1 5.5 3.9 8.4 8.5 16 19.4 9.1 9.8 11 9.2 8.5 4.8 0-113.4-331.8 0 0 114.5 8.4 1.9 8.3-0.2 5.6-1.3 8.4-3.6 5.5-3.6 8.4-7 22.3-24.4 5.6-5 5.6-3.1 2.8-0.5 2.7 0.4 2.8 1.4 2.8 2.4 5.6 8.2 5.6 12 12.6 32.8 5.8 13.6 5.4 10.8 6.7 10.9 6.4 8.1 7.7 7.4 8.4 5.4 8.3 3.2z"/>
<path fill="#d7d7e9" d="M1052.2 259.9l7.5 2.1 5.6 0.3 5.6-0.6 5.5-1.6 5.6-2.6 5.6-3.7 5.6-5.1 5.5-6.5 8.4-13.1 8.4-17.9 7.1-19.2 12.4-37.3 5.6-14.1 2.8-5.6 3.5-5.4 4.8-4.7 2.8-1.4 2.8-0.4 5.6 1.4 2.8 1.6 5.5 4.6 8.4 9.6 16.7 22.5 8.4 10.2 11.1 10.7 8.4 5.4 0-94.8-331.8 0 0 96.1 8.4 2.3 8.3-0.1 8.4-2.4 5.6-2.9 8.3-6.4 7.8-7.9 20.1-25.6 5.6-6.3 5.6-4.5 2.8-1.2 2.7-0.4 2.8 0.6 2.8 1.7 2.8 2.8 5.6 9.2 5.6 13.2 16.6 45.8 5.7 13 5.6 10.6 5.9 9 8 9.3 5.6 4.7 8.3 4.7z"/>
<path fill="#cccce4" d="M1060.8 246.3l4.5 0.3 5.6-0.7 5.5-1.8 5.6-3 8.4-7 5.5-6.7 3.8-5.5 7.4-13.5 6.9-16.4 5.7-16.2 12.5-40.2 5.6-15.5 6.2-12.2 4.9-5.8 2.8-1.7 2.8-0.8 2.8 0 2.8 0.7 5.6 3.3 5.5 5.1 8.4 10.1 18.7 27.1 8.4 10.8 9.1 9.6 8.4 6.1 0-78.1-331.8 0 0 79.6 8.4 2.7 8.3 0.1 8.4-2.5 5.6-3.1 8.3-6.8 6.9-7.6 8.3-10.8 15.5-22.3 5.6-6.6 5.6-4.3 2.7-1 2.8 0 2.8 1 2.8 2.2 2.8 3.4 5.6 10.4 5.6 14.6 16.6 48.7 6.9 16.3 5.8 10.9 6.9 10 8.4 8.8 8.3 5.5 8.4 2.7z"/>
<path fill="#c0c1de" d="M1054 230l5.7 1.9 5.6 0.5 5.6-0.8 5.5-2 5.6-3.4 5.6-4.9 5.6-6.5 4.3-6.5 7.3-13.5 7.6-19 7.1-21.8 12.7-42.8 6.4-16.9-152.6 0 4 5.4 5.6 11.9 20.1 61.4 5 13.1 5.1 11.4 6 10.9 5.6 8 5.6 6.1 8.3 6.3zM902.1 162.2l7 0.1 8.4-2.6 5.6-3.2 8.3-7.3 11.2-13.7 22.3-34 6.6-7.2-79.1 0 0 64.5 8.4 3.2zM1223.6 156.7l0.6 0.5 0-62.9-48.4 0 6.6 9.1 22.8 34.3 7.9 9.7 8.3 7.8z"/>
<path fill="#b5b5d7" d="M1053.8 216.5l5.9 2.1 5.6 0.5 5.6-0.8 4.7-1.8 3.6-2.1 5.6-4.5 5.6-6.3 4.3-6.1 8.5-16.3 7.5-19 6-19 13.9-48.9-133.4 0 3.9 11.3 15.6 51.1 9.4 24.5 5.7 11.4 5.6 8.8 5.7 6.9 8.2 6.8zM901.9 148.6l7.2 0.3 5.6-1.3 5.6-2.7 8.3-6.6 5.6-6 8.1-10.8 16.6-27.2-66.5 0 0 50.5 8.4 3.6zM1221.1 140.5l3.1 2.4 0-48.6-36.1 0 18.8 29.9 6.2 8 5.5 6z"/>
<path fill="#aaa8d0" d="M1058 205.6l4.5 1.1 5.6-0.2 5.5-1.6 2.8-1.4 8.4-6.7 8.4-11.1 8-15.4 7.3-19 6-19 10.2-38-120.7 0 15.1 51.6 4.8 13.6 5.7 13.5 7.4 13.6 6 8.1 5.5 5.5 3.8 2.7 4.6 2.4zM899 135l7.3 1.5 5.6-0.5 5.6-2 5.6-3.5 5.5-4.9 8.2-9.6 5.8-8.4 8-13.3-58.2 0 0 37.3 5.6 3.1zM1221.2 126.9l3 2.6 0-35.2-26.4 0 12 19 8.8 11z"/>
<path fill="#9e9ac8" d="M1061.4 194.8l3.9 0.3 5.6-0.9 4.7-2.2 3.6-2.4 8.2-8.4 5.8-8.7 6.4-13 6.3-16.3 6-19 8-29.9-110.6 0 7.5 27.2 5.9 19 6.2 16.2 5 10.9 6.3 10.6 5.6 7 5.5 5 5.6 3.3 2.8 0.9zM902.8 124.2l3.5 0.5 5.6-0.4 5.6-2 5.6-3.5 5.5-5 5.2-5.9 9.3-13.6-50.7 0 0 24.8 8.4 4.5zM1223.4 116l0.8 0.8 0-22.5-17.5 0 7.2 10.9 7.5 8.9z"/>
<path fill="#928fc3" d="M1063.1 183.9l5-0.1 2.8-0.7 5.5-2.8 7.9-7.3 6.1-8.3 5.7-10.7 6.7-16.3 6.2-19 6.6-24.4-101.6 0 6 21.7 6.1 19 5.7 14.7 5.6 11.3 5.6 8.8 5.5 6.4 5.6 4.5 2.8 1.5 5.6 1.7zM905.4 113.3l6.5-0.2 2.8-0.7 5.6-2.8 8.3-7 6.8-8.3-43 0 0 12.8 5.6 3.8 5.6 2.1zM1222.1 102.4l2.1 2.2 0-10.3-8.7 0 5.9 7.4z"/>
<path fill="#8784bd" d="M1061.7 173l6.4 0.2 5.5-2 2.8-1.7 5.6-5 6-7.8 6.1-10.8 5.8-13.6 5.6-16.3 6.1-21.7-93.3 0 9.9 32.6 4.1 10.8 5.1 11 5.6 9.4 5.5 6.9 5.6 4.8 5.6 2.8zM905 102.4l4.1 0.4 5.6-1 5.6-2.7 6-4.8-33.9 0 0 1.3 2.8 2.3 5.6 3.3 2.8 0.9z"/>
<path fill="#7d77b7" d="M1059.4 162.2l5.9 1.1 2.8-0.3 5.5-2.1 5.6-4.1 5.6-6.4 5.6-8.8 5.7-12 6-16.3 5.7-19-85.5 0 8.7 27.2 3.6 9.1 4.7 9.9 3.7 6.3 5.5 7.4 2.8 2.9 5.6 4z"/>
<path fill="#7566ae" d="M1057.4 151.3l5.1 1.9 2.8 0.2 5.6-1 5.5-3.2 5.6-5.5 5.6-8 5.6-10.8 5.5-13.9 5.4-16.7-77.8 0 7.3 21.7 6.6 14.9 4 6.8 4.3 6.1 4.9 4.8 3.5 2.5z"/>
<path fill="#6c55a5" d="M1060.8 143.2l4.5 0.8 5.6-1.1 5.5-3.4 5.6-5.7 5.6-8.4 3.4-6.7 4.9-11.4 4.6-13-70.3 0 7.2 19.6 6.6 13 7.3 10 4.2 3.6 4.2 2.3z"/>
<path fill="#63449d" d="M1057.4 132.3l5.1 2.1 5.6 0.1 5.5-2.3 5.6-4.7 4.7-6 3.7-6.1 4.9-10.2 4.2-10.9-62.5 0 6 15 5.6 10.4 5.5 7.5 5.6 4.8z"/>
<path fill="#5b3495" d="M1059.1 124.2l3.4 1.3 5.6 0.1 5.5-2.4 2.8-2.1 4.7-5.1 3.7-5.3 4.4-8.3 3.6-8.1-54.5 0 4.7 10.4 5 8.6 3.3 4.5 5.6 5.1z"/>
<path fill="#53258e" d="M1060.6 116l4.7 1.1 2.8-0.2 5.5-2.4 4.5-3.9 3.9-4.8 6.6-11.5-45.9 0 4.4 8.1 4.2 6.2 4.8 4.7 3.6 2.4z"/>
<path fill="#4b1687" d="M1061.7 107.9l3.6 0.7 2.8-0.2 5.5-2.4 5.6-5.3 4.5-6.4-35.9 0 6.3 8.5 5.6 4.3z"/>
<path fill="#430780" d="M1062.2 99.7l3.1 0.6 5.6-1.1 2.7-1.6 3.7-3.3-23 0 5.4 4.4z"/>
<path fill="none" stroke="#000" stroke-width="1.6" d="M892.4 257.1l5.6 0.9 5.6 0.3 5.5-0.3 8.4-1.5 5.6-1.7 8.3-3.6 19.6-10.9 5.5-2.7 5.6-1.4 2.8 0 2.8 0.6 2.8 1.2 2.8 2.1 2.7 3 2.8 3.7 5.6 9.6 12.5 25.2 6.2 10.9 7.9 10.9 8.1 8.1 4.4 3.3 5.5 3.5 5.6 2.7 8.4 3 8.3 1.8 5.6 0.7 8.4 0.3 8.3-0.5 11.2-2.1 5.6-1.8 5.5-2.3 8.4-4.7 8.1-6.6 5.1-5.4 3.5-4.6 7.4-11.7 5.5-10.9 12.2-27.5 5.6-10.5 2.8-4.2 2.8-3.3 2.8-2.4 2.8-1.6 2.8-0.8 2.7-0.1 2.8 0.5 2.8 0.9 4.3 2.2M1203.1 246.7l10 5.6 5.5 2.4 5.6 1.7M892.4 208.8l8.4 1.9 8.3-0.2 5.6-1.3 8.4-3.6 7.9-5.4 6.2-5.4 24.9-26.9 5.6-4.2 2.8-1.2 2.8-0.5 2.7 0.4 2.8 1.4 2.8 2.4 2.8 3.6 2.8 4.6 5.4 11.7M1003.5 214.3l7.7 18.5 6.7 13 7.4 11.4 6.5 7.7 8.4 7.1 8.3 4.7 8.4 2.5 8.4 0.8 5.6-0.5 5.5-1.4 5.6-2.1 5.6-3.2 5.6-4.1 3.5-3.4 4.8-5.3 4.1-5.5 7.1-11.8 7.2-15.4 5.3-13.5 12.6-35.1 5.6-13 2.7-5 2.8-4.1 2.8-2.9 2.8-2 2.8-1.1 2.8-0.2 2.8 0.6 2.8 1.1 5.5 3.9 8.4 8.5 16 19.4 9.1 9.8 5.6 5.1 5.4 4.1 8.5 4.8M892.4 173.9l2.8 1.2 5.6 1.5 5.5 0.4 2.8-0.3 2.8-0.5 5.6-2 5.6-3.1 8.3-6.8 6.9-7.6 8.3-10.8 15.5-22.3 5.6-6.6 2.8-2.5 2.8-1.8 2.7-1 2.8 0 2.8 1 2.8 2.2 2.8 3.4 2.8 4.6 2.8 5.8 5.6 14.6 11.6 35.2 6 16.3 7.5 16.6 7.7 13.2 4.1 5.4 4.9 5.4 5.6 4.7 5.5 3.4 2.8 1.2 5.6 1.5 5.6 0.4 5.6-0.7 5.5-1.8 2.8-1.3 5.6-3.7 2.8-2.3 4-4 4.3-5.4 3.8-5.5 4.6-7.9 5.6-11.8 6.1-15.6 6.3-19 9.9-32 5.6-15.5 4.5-9.5 3.8-5.8 2.8-2.7 2.8-1.7 2.8-0.8 2.8 0 2.8 0.7 2.8 1.4 2.8 1.9 5.5 5.1 5.6 6.5 5.4 7.2M1199.4 147.3l7.3 9.4 6.4 7 5.5 4.9 5.6 3.8M892.4 144.8l5.6 2.7 5.6 1.4 2.7 0.2 5.6-0.7 5.6-2 5.6-3.4 5.5-4.7 4.6-4.8M950.3 108.7l8.6-14.4M997.2 94.3l3.9 11.3 12.1 40.3 4.5 13.6 5.8 15.5 5.5 12.3 7.6 12.9 6.4 8 2.9 2.8 5.4 4.1 5.6 2.7 2.8 0.8 2.8 0.4 5.6-0.1 5.5-1.5 2.8-1.3 3.7-2.3 4.7-3.9 4-4.3 4.4-5.8 3.1-5 4.4-8.2 6.4-14.7 7.1-20.6 6.8-23.4M1129.2 98.8l1.4-4.5M1188.1 94.3l15.1 24.4 10.1 13.8M892.4 119.1l5.6 3.4 6.2 1.9M936.7 103.9l6.4-9.6M1009.3 94.3l3.1 11.3M1024.1 144.4l4.9 12.7 5.6 11.8 5.6 9.3 2.8 3.8 4.2 4.6 4.1 3.6 2.8 1.9 5.6 2.3 5.6 0.7 2.8-0.2 5.5-1.8 5.6-3.5 2.8-2.4 5.6-6.3 5.6-8.4 5.2-10.3 5.6-13.6 4.6-13.6 5.6-19 5.7-21.7M1206.7 94.3l9.1 13.4 4.8 5.6 3.6 3.5M892.4 95.6l2.8 2.3 5.6 3.3 4.2 1.2 4.1 0.4 5.6-1 2.8-1.1 5.6-3.6 3.2-2.8M1018.3 94.3l7.1 24.4 6.4 17.8 7 14.8 4.2 6.8 3 4.1M1080.6 166l4.2-4.7 3.2-4.6 5.2-9 3.4-7.2 4.3-10.9 3.4-9.9 7.3-25.4M1026.3 94.3l3.8 12M1047.6 142.5l3.7 4.3 2.8 2.4 3.3 2.1 5.1 1.9 2.8 0.2 2.8-0.2 2.8-0.8 5.5-3.2 3.6-3.3 4.5-5.4 5.9-9.8 3.1-6.5 4.4-10.9 6.2-19M1034.2 94.3l3.5 9.2M1062 134.3l3.3 0.5 2.8-0.3 2.8-0.8 2.7-1.5 2.8-2 2.8-2.7 4.7-6 3.7-6.1 4.9-10.2 4.2-10.9M1042.7 94.3l4 7.4M1078.5 110.2l3.5-4.4 2.2-3.4 4.4-8.1M1054.3 94.3l2.6 2.5 2.8 1.9 2.8 1.2 2.8 0.4 2.8-0.2 2.8-0.9 2.7-1.6 3.7-3.3"/>
<text x="1190.8" y="238.0" transform="rotate(-323.9 1190.8 238.0)" fill="#000" font-size="16" class="cl">45</text>
<text x="998.2" y="200.2" transform="rotate(-290.9 998.2 200.2)" fill="#000" font-size="16" class="cl">60</text>
<text x="1190.8" y="134.9" transform="rotate(-304.3 1190.8 134.9)" fill="#000" font-size="16" class="cl">75</text>
<text x="942.3" y="121.4" transform="rotate(-55.7 942.3 121.4)" fill="#000" font-size="16" class="cl">90</text>
<text x="1125.1" y="113.3" transform="rotate(-74.4 1125.1 113.3)" fill="#000" font-size="16" class="cl">90</text>
<text x="1224.2" y="142.9" transform="rotate(-318.2 1224.2 142.9)" fill="#000" font-size="16" class="cl">90</text>
<text x="923.1" y="118.8" transform="rotate(-34.4 923.1 118.8)" fill="#000" font-size="16" class="cl">105</text>
<text x="1017.9" y="125.1" transform="rotate(-286.8 1017.9 125.1)" fill="#000" font-size="16" class="cl">105</text>
<text x="1062.5" y="173.2" transform="rotate(-353.0 1062.5 173.2)" fill="#000" font-size="16" class="cl">120</text>
<text x="1037.4" y="125.1" transform="rotate(-295.3 1037.4 125.1)" fill="#000" font-size="16" class="cl">135</text>
<text x="1046.9" y="121.4" transform="rotate(-306.3 1046.9 121.4)" fill="#000" font-size="16" class="cl">150</text>
<text x="1060.6" y="116.0" transform="rotate(-343.3 1060.6 116.0)" fill="#000" font-size="16" class="cl">165</text>
<path fill="none" stroke="#ffa500" stroke-width="2.7" d="M1224.2 350.5l-8.4-0.5-8.3-1.2-8.2-2-6.4-2.7-4.1-2.7-3.6-3.9-2.3-4.3-1-5.4 0.5-5.4 2.5-5.5 3.1-3.3 3.6-2.1 4.7-1.2 5.6-0.4 8.4 0.4 13.9 1.5M892.4 312.1l19.9 1.7M938.8 338.4l-2.7 3-3.9 2.7-6.3 2.7-2.8 0.8-8.4 1.8-5.6 0.6-16.7 0.6"/>
<text x="934.2" y="318.8" transform="rotate(-320.3 934.2 318.8)" fill="#ffa500" font-size="16" class="cl">36.7</text>
<path fill="none" stroke="#ff0000" stroke-width="2.7" d="M1224.2 339.8l-8-1.1-7-2.8-3.6-2.7-1.6-2.7-0.1-2.7 1.9-2.7 4.5-1.9 5.5-0.8 8.4 0.1M892.4 322.8l14 2.3 6.3 2.7 2.3 2.7-0.3 2.9-2.4 2.5-3.2 1.6-3.1 1.2-5.2 0.9-8.4 0.4"/>
<path stroke="#ff0000" stroke-width="4.5" d="M887.8 324.5L900.8 337.5M887.8 337.5L900.8 324.5"/>
</g>
<rect x="892.4" y="94.3" width="334.6" height="271.5" fill="none" stroke="#000" stroke-width="1.8"/>
<text x="892.4" y="399.6" class="tl" text-anchor="middle">0</text>
<text x="976.1" y="399.6" class="tl" text-anchor="middle">90</text>
<text x="1059.7" y="399.6" class="tl" text-anchor="middle">180</text>
<text x="1143.4" y="399.6" class="tl" text-anchor="middle">270</text>
<text x="1227.0" y="399.6" class="tl" text-anchor="middle">360</text>
<text x="876.3" y="375.6" class="tl" text-anchor="end">0</text>
<text x="876.3" y="321.3" class="tl" text-anchor="end">2</text>
<text x="876.3" y="267.0" class="tl" text-anchor="end">4</text>
<text x="876.3" y="212.7" class="tl" text-anchor="end">6</text>
<text x="876.3" y="158.4" class="tl" text-anchor="end">8</text>
<text x="876.3" y="104.1" class="tl" text-anchor="end">10</text>
<path stroke="#000" stroke-width="1.8" d="M892.4 365.8v7.5M976.1 365.8v7.5M1059.7 365.8v7.5M1143.4 365.8v7.5M1227.0 365.8v7.5M892.4 365.8h-7.5M892.4 311.5h-7.5M892.4 257.2h-7.5M892.4 202.9h-7.5M892.4 148.6h-7.5M892.4 94.3h-7.5"/>
<text x="1059.7" y="19.8" class="tt" text-anchor="middle">2006-2008</text>
<text x="1058.7" y="50.0" class="tt" text-anchor="middle">(L<tspan class="sub" dy="4.5">s</tspan><tspan dy="-4.5">=313.2-339.6</tspan><tspan class="sup" dx="6" dy="-10">∘</tspan><tspan dx="3.5" dy="10">)</tspan></text>
<text x="1059.7" y="80.8" class="tt" text-anchor="middle">N<tspan class="sub" dy="4.5">obs</tspan><tspan dy="-4.5">=23</tspan></text>
<clipPath id="c4"><rect x="1295.5" y="94.3" width="334.6" height="271.5"/></clipPath>
<g clip-path="url(#c4)">
<rect x="1295.5" y="94.3" width="331.8" height="268.8" fill="#faf9fc"/>
<path fill="#f5f4f9" d="M1483.9 327.8l6.8 0.8 8.3 0.2 8.4-0.6 8.4-1.5 8.3-2.7 5.6-2.5 5.6-3.2 5.6-4.2 7.7-8 6.2-8.8 7-12.9 15.3-34.3 4.7-6.5 3.7-2.8 2.8-0.5 2.8 0.5 5.5 3.5 19.7 21 11 9.8 0-180.8-331.8 0 0 182.7 5.6 3.4 8.3 3.7 5.6 1.5 8.4 1.2 8.3-0.3 5.6-1 8.4-2.8 5.6-2.8 5.5-3.7 5.6-4.6 8.4-9 9.5-13.5 18.4-31.5 2.8-3.4 2.7-2.1 2.8-0.4 2.8 1.8 2 3 3.6 7.9 15.3 51.8 5.5 13.6 5.9 10.8 4 5.6 4.6 5.3 9.3 7.5 11.2 5.5 11.1 3z"/>
<path fill="#f1eff6" d="M1482 292.5l5.9 1.6 8.4 0.9 8.3-0.8 5.6-1.4 8.4-3.7 5.5-3.8 5.6-4.9 5.6-6.3 7.5-11.5 7.7-16.3 6-16.3 9.5-30.5 5.5-16.1 2.8-6.2 2.8-4.7 2.8-3 2.8-1.5 2.8 0 2.8 1.2 5.6 5.4 5.5 8 17 28.4 10.9 14.9 0-131.6-331.8 0 0 134.7 7.2 6.5 6.7 4.4 5.6 2.5 8.4 1.8 8.3-0.4 5.6-1.6 7.9-4 6.1-4.6 5.5-5.7 5.6-7.1 5.6-8.6 5-9.3 9.7-21.7 16-40.5 5.5-11.2 2.8-3.7 2.8-1.9 2.8 0.5 2.8 3.6 1.7 4.3 3.9 13.4 12.8 65.3 5.6 21.8 5.4 16.3 6.8 14.8 4.2 6.9 4.2 5.7 8.4 8.3 5.6 3.9 5.5 2.8z"/>
<path fill="#ebe9f3" d="M1487.3 270.8l6.2 1.2 5.5 0 8.4-1.8 5.6-2.5 5.6-3.7 5.5-5 5.6-6.6 4.1-6.1 7.1-13.5 7.3-19 5.1-16.3 9.9-37.2 5.6-18.8 5.5-13 2.8-3.8 2.8-2.2 2.8-0.7 2.8 0.7 2.8 1.8 5.6 6.3 8.3 14.1 16.1 31.1 9 14.3 0-95.8-203.5 0 13.1 81.5 5.3 24.4 6.3 21.7 4.1 10.9 3.8 8.1 3.6 6.5 4.9 7.1 3.5 4.1 5.6 5.2 5.5 3.7 5.6 2.6zM1316.7 211l3.9 1.2 5.6 0.5 5.5-0.8 5.6-2 5.6-3.4 5.6-4.8 8.3-10.2 8.4-14.1 8.2-17.9 23.8-65.2-101.7 0 0 99.6 8.4 9.1 5.5 4.4 5.6 3z"/>
<path fill="#e3e2ef" d="M1485.7 251.8l7.8 1.9 5.5 0 5.6-1.1 5.6-2.4 5.6-3.8 5.6-5.2 5.5-7.1 5.6-9.1 6.5-14 6.6-19 5.4-19 15-60.6 2.8-8.7 4.2-9.4-141.8 0 5.2 38 5.1 29.9 5.3 24.4 5.6 19 6.6 16.3 7.8 13.6 4.4 5.5 5.5 5.3 8.4 5.2zM1316.5 183.9l4.1 1.4 5.6 0.5 5.5-1.1 2.8-1 8.4-5.6 8.4-9.5 8.3-13.8 6.8-14.3 7.4-19 9.5-27.2-87.8 0 0 70 5.6 7.4 3.7 4.1 4.6 4 5.6 3.5zM1627 159.5l0.3 0.5 0-65.7-35.1 0 4.4 6.4 5.6 10 15.8 32.5 7.3 13.5z"/>
<path fill="#dcdcec" d="M1492.8 238.2l3.5 0.3 5.5-0.7 5.6-2.1 5.6-3.5 5.6-5.2 4.1-5.1 4.2-6.3 5.3-10 6.6-16.3 6.7-21.7 5.4-21.7 11.5-51.6-126.3 0 5 35.3 4.4 24.4 5.7 24.5 6.1 19 7.4 16.3 7.2 10.8 4.8 5.3 3.5 2.9 4.9 3 5.6 2zM1315.9 159.5l4.7 1.7 2.8 0.4 5.6-0.4 2.7-0.9 5.6-3.1 2.8-2.2 5.6-6 5.9-8.5 7.1-13.6 5.8-13.6 7-19-76 0 0 43.7 5.6 8.2 4.3 5.1 4 3.9 5.6 3.9zM1626.8 132.3l0.5 1 0-39-18.9 0 16.9 35.3z"/>
<path fill="#d2d2e7" d="M1492.7 224.6l3.6 0.3 5.5-0.8 5.6-2.3 5.6-4 4.1-4 4.3-5.4 7.8-13.6 6.7-16.3 6.7-21.8 5.4-21.7 8.5-40.7-116.4 0 4.4 29.9 4.7 24.4 5.2 21.1 5.6 16.8 6.1 13.7 7.9 12.1 3.8 4.2 4.5 3.8 5.6 3 2.8 0.9zM1316.9 137.7l6.5 1.7 5.6-0.6 5.5-2.7 5.6-4.8 5.6-6.9 5-8.4 5.3-10.8 4.5-10.9-65 0 0 19.6 5.6 8.9 5.3 6.8 3 3.1 5.6 4.1zM1626.8 107.9l0.5 0.9 0-14.5-7.1 0 5.3 10.9z"/>
<path fill="#c8c8e2" d="M1487.9 211l5.6 1.6 5.5 0 5.6-1.8 2.8-1.5 4.9-3.7 3.5-3.5 3.6-4.6 4.7-7.6 7.8-16.9 7.1-21.7 6.2-24.4 6.7-32.6-108.4 0 4.3 27.2 4.5 21.7 4.2 16.3 5.4 16.3 6.1 13.5 6 9.7 5.5 6.3 3.7 3 4.7 2.7zM1315 116l2.8 1.5 5.6 1.2 5.6-1 2.7-1.3 4.2-3.1 4.2-4.4 5.6-8.1 3.5-6.5-52.1 0 6.8 10.7 4.6 5.6 3.7 3.5z"/>
<path fill="#bebedd" d="M1488.8 200.2l4.7 1.4 2.8 0.1 5.5-1 2.8-1.1 5.6-3.8 2.8-2.6 5.3-6.6 3.5-5.4 7.7-16.3 6.5-19 6.3-24.4 5.7-27.2-101.4 0 3.7 21.7 4.6 21.7 4.5 16.3 4.7 13.6 4.9 10.9 6.8 10.8 6.5 7 5.6 3.6zM1316.1 97l4.5 1.8 5.6-0.1 2.8-0.9 5.2-3.5-22 0 2.8 2.1z"/>
<path fill="#b3b3d6" d="M1487.5 189.3l3.2 1.4 5.6 0.8 5.5-1 2.8-1.3 3.8-2.6 4.6-4.2 6.7-9.4 7.2-14.5 6.5-18 5.9-21.8 5.3-24.4-95.2 0 7.1 35.3 3.7 13.6 4.6 13.5 3.6 8.6 5.6 10.3 5.5 7.4 5.6 4.9z"/>
<path fill="#a9a7cf" d="M1490.9 181.2l5.4 0.8 2.7-0.3 5.6-2.2 2.8-1.8 4.9-4.7 6.3-8.7 6.5-13 6-16.3 5.4-19 5-21.7-89.4 0 3.8 19 4 16.3 4.2 13.6 4.3 11 5.6 10.9 5.5 7.9 5.6 5.2 5.6 2.9z"/>
<path fill="#9e9ac8" d="M1495.2 173l3.8-0.2 2.8-0.9 5.6-3.4 5.6-5.8 5.6-8.3 5.5-11.5 5-13.3 4.8-16.3 4.6-19-83.8 0 3.4 16.3 4.4 16.3 3.5 10.8 5.2 12.3 5.5 9.8 5.6 6.9 5.6 4.2 5.6 2z"/>
<path fill="#9390c3" d="M1487.5 162.2l6 2.3 5.5-0.2 5.6-2.4 2.8-2.1 5.6-6 5.6-8.8 6.8-15.4 5.4-16.3 4.9-19-78.6 0 5.7 23 7.2 20.4 6.7 13.1 4.5 5.9 3.9 3.8z"/>
<path fill="#8986be" d="M1496.2 156.7l5.6-1.3 5.6-3.8 5.1-5.7 3.3-4.9 4.6-8.7 4.5-10.8 4.4-13.6 3.7-13.6-73.4 0 6.7 24.4 4.1 10.9 3.6 7.7 3.3 5.9 5 6.5 5.6 4.7 5.6 2.2z"/>
<path fill="#7f7bb9" d="M1492.1 148.6l4.2 0.6 5.5-1.4 5.6-4 5.6-6.6 4.5-7.6 3.9-8.2 5-13.5 4-13.6-68.4 0 6.4 21.4 5.9 13.9 4.8 8.1 3.2 4.2 2.8 2.8 5.6 3.5z"/>
<path fill="#776cb1" d="M1489.8 140.5l3.7 1.3 5.5-0.3 5.6-2.8 5.6-5.4 4.4-6.4 4.3-8.2 4.4-10.8 4.5-13.6-63.4 0 5.2 16.3 6 13.6 6.7 10.2 5.6 5.1z"/>
<path fill="#705ca9" d="M1495.9 135l3.1-0.4 2.8-1.1 5.2-3.9 3.2-3.6 4.7-7.3 3.7-7.1 6.5-17.3-58.2 0 5.8 16.3 6.8 12.9 5.6 6.7 2.8 2.3 5.6 2.4z"/>
<path fill="#684da1" d="M1489.9 126.9l3.6 1.3 5.5-0.3 5.6-3 2.8-2.5 4.9-6.4 3.5-6 6.6-15.7-53 0 4.6 11.7 3.6 7.3 4.7 7.1 5.6 5.4z"/>
<path fill="#613f9a" d="M1492.3 121.5l4 0.5 2.7-0.5 5.2-2.8 3.2-2.9 5.6-7.7 6.6-13.8-47.5 0 4.6 10.6 3.4 5.7 5 6.3 5.6 4z"/>
<path fill="#582f93" d="M1488.2 113.3l5.3 2.4 2.8 0.2 5.5-1.8 4.4-3.5 4-4.7 6.4-11.6-41.7 0 4.1 8.1 3.3 5 5.6 5.7z"/>
<path fill="#51218c" d="M1489.2 107.9l4.3 1.8 2.8 0.2 2.7-0.5 2.8-1.3 5.6-4.9 6-8.9-35.4 0 4.3 7 5.6 5.8z"/>
<path fill="#4a1486" d="M1489.8 102.4l3.7 1.6 2.8 0.2 2.7-0.6 5.6-3.4 5-5.9-27.9 0 3.4 4.4 2.8 2.6z"/>
<path fill="#420680" d="M1490 97l3.5 1.4 2.8 0.2 2.7-0.6 2.8-1.3 3-2.4-18.4 0 1.5 1.4z"/>
<path fill="none" stroke="#000" stroke-width="1.6" d="M1295.5 229l5.6 5.2 5.6 4.1 5.5 3 5.6 1.9 8.4 1.1 5.5-0.5 5.6-1.6 5.6-2.6 5.6-3.7 5.6-5 5.5-6.3 5.6-7.9 5-8.4 4.2-8.1 10.3-23.9M1395.6 148.1l5.9-13.5 2.7-5.1 2.8-3.7 2.8-1.9 2.8 0.5 2.8 3.6 2.8 7.1 2.8 10.6 10 51.8 4.7 21.7 5.3 19 4.9 13.6 3.7 8.1 4.5 8.2 3.6 5.4 4.4 5.4 3.5 3.5 5.6 4.5 5.5 3.3 5.6 2.4 5.6 1.5 8.4 0.9 8.3-0.8 5.6-1.4 8.4-3.7 5.5-3.8 5.6-4.9 5.6-6.3 4.2-6 3.3-5.5 4.1-8.1 3.6-8.2 6-16.3 9.5-30.5 5.5-16.1 2.8-6.2 2.8-4.7 2.8-3 2.8-1.5 2.8 0 2.8 1.2 2.8 2.2 2.8 3.2 5.5 8 17 28.4 5.3 7.9 5.6 7M1295.5 164.3l4.5 6 3.9 4.5 3.9 3.7 4.4 3.2 2.8 1.6 5.6 2 5.6 0.5 2.8-0.4 5-1.5 3.3-1.7 5.1-3.7 3.3-3.1 4.3-5.1 3.8-5.4 6.2-10.7M1372 126.4l11.3-32.1M1431.2 94.3l1.3 9.4M1436.6 133.7l5.4 31.2 2.9 13.6 3.4 13.5 3.3 11.3 3.8 10.5 3.6 8.1 3.8 7.3 4 6.3 4.4 5.5 5.5 5.4 5.6 3.8 5.6 2.4 5.6 1.1 5.5 0 5.6-1.1 5.6-2.4 2.8-1.7 5.6-4.5 3-3.1 4.4-5.4 3.7-5.7 4.4-7.9 3.7-8.1 5.2-13.6 5.1-16.3 17.9-71.5 2.8-8.7 2.7-6.8 1.5-2.6M1592.2 94.3l4.4 6.4 2.8 4.8 14.6 29.6M1295.5 113.9l4.7 7.6 3.7 5.1 5.2 5.7 3.1 2.7 2.8 1.8 5.6 2.2 5.6 0.3 5.2-1.5M1351.1 115.4l4.9-10.2 4.5-10.9M1440.1 94.3l4.4 29.9 4.1 21.7 4.5 19 5.9 19 5.8 13.6 6.4 11 4 5.3 4.3 4.3 2.8 2.2 5.6 3 5.6 1.5 5.5-0.1 5.6-1.5 2.8-1.4 3.9-2.6 4.5-4 3.6-4.2 3.8-5.4 3.7-6.3 3.6-7.3 6.4-16.2 5.7-19.1 6.3-25.9M1555.1 101.1l1.4-6.8M1620.2 94.3l7.1 14.5M1312.2 94.3l2.8 2.1 2.8 1.5 2.8 0.9 2.8 0.3 2.8-0.4 2.8-0.9 5.2-3.5M1446.6 94.3l5.8 32.6 6.1 24.4 3.6 10.9 3.5 9 3.4 7.3 4.8 8.1 4.2 5.4 4.3 4.3 5.6 3.6 5.6 1.7 5.5-0.1 2.8-0.8 5.6-2.7 4-3.3M1531.4 159.9l4.6-14 3.7-13.6 4.5-19 3.8-19M1452.1 94.3l3 15.6M1466.2 148.8l5 11.3 4.3 7.5 4 5.4 5.6 5.2 5.6 2.9 2.8 0.7 2.8 0.2 5.5-1.1 5.6-3.2 5.6-5.5 5.2-7.3 4.4-8.2 3.6-8.1 4-10.9 4.1-13.5 7.2-29.9M1457.1 94.3l2.9 12.5M1473.4 144.9l3.3 5.9 5.6 7.2 2.8 2.5 2.8 1.9 2.8 1.4 2.8 0.7 2.8 0.2 2.7-0.4 2.8-0.9 2.8-1.5 2.8-2.1 5.4-5.8 3-4.3 6.3-12 3.3-8.1 3.7-10.9 6.6-24.4M1462 94.3l3.8 13.6 4.8 13.6 3.7 8.1 5.2 8.8 5.6 6.3 2.8 2.1 2.8 1.4 2.8 0.8 2.8 0.2 3.5-0.7M1523.2 116.8l3.7-10.7 3.5-11.8M1466.9 94.3l3.7 11M1495.4 135l3.6-0.4 2.8-1.1 2.8-1.8 2.4-2.1 3.2-3.6 4.7-7.3 3.7-7.1 2.8-6.7 3.7-10.6M1472.1 94.3l3.9 9M1506.1 117l4.1-4.7 2.8-4.2 2.8-5.2 3.8-8.6M1478 94.3l4.3 7 2.8 3.3 2.8 2.5 2.8 1.7 2.8 0.9 2.8 0.2 2.7-0.5 2.8-1.3 2.8-2 2.8-2.9 2.8-3.6 3.2-5.3M1486.4 94.3l4.3 3.1 2.8 1 2.8 0.2 2.7-0.6 2.8-1.3 3-2.4"/>
<text x="1390.1" y="162.2" transform="rotate(-69.0 1390.1 162.2)" fill="#000" font-size="16" class="cl">40</text>
<text x="1366.4" y="140.5" transform="rotate(-66.8 1366.4 140.5)" fill="#000" font-size="16" class="cl">60</text>
<text x="1434.5" y="118.7" transform="rotate(-278.0 1434.5 118.7)" fill="#000" font-size="16" class="cl">60</text>
<text x="1620.8" y="148.6" transform="rotate(-298.1 1620.8 148.6)" fill="#000" font-size="16" class="cl">60</text>
<text x="1342.9" y="128.1" transform="rotate(-50.1 1342.9 128.1)" fill="#000" font-size="16" class="cl">80</text>
<text x="1552.0" y="116.0" transform="rotate(-78.3 1552.0 116.0)" fill="#000" font-size="16" class="cl">80</text>
<text x="1523.3" y="178.5" transform="rotate(-60.9 1523.3 178.5)" fill="#000" font-size="16" class="cl">100</text>
<text x="1459.9" y="129.6" transform="rotate(-285.7 1459.9 129.6)" fill="#000" font-size="16" class="cl">120</text>
<text x="1465.6" y="126.2" transform="rotate(-289.0 1465.6 126.2)" fill="#000" font-size="16" class="cl">140</text>
<text x="1514.4" y="135.0" transform="rotate(-55.6 1514.4 135.0)" fill="#000" font-size="16" class="cl">160</text>
<text x="1479.5" y="123.5" transform="rotate(-307.0 1479.5 123.5)" fill="#000" font-size="16" class="cl">180</text>
<text x="1487.9" y="119.3" transform="rotate(-332.4 1487.9 119.3)" fill="#000" font-size="16" class="cl">200</text>
<path fill="none" stroke="#ffa500" stroke-width="2.7" d="M1627.1 363.1l-16.5-1.5-5.6-1.1-2.8-0.9-3.7-1.9-1.9-1.9-1.7-3.6-0.4-2.7 0.4-5.4 1.6-5.4 2.9-5.5 2.8-3 4.2-2.4 4.2-1 5.6-0.1 11.1 1.4M1295.5 328.5l11.2 1.3 7.9 0.6M1359.4 324.3l8.6-3.5 16.7-7.9 5.6-1.4 2.8 0.2 2.8 1.5 2.8 3 3 6.2 2.5 8.7 1.6 10.3-0.1 8.1-0.7 2.7-1.3 2.7-2.6 2.8-2.4 1.3-3.7 1.4-10.3 1.7-12.3 1"/>
<text x="1337.3" y="329.5" transform="rotate(-7.6 1337.3 329.5)" fill="#ffa500" font-size="16" class="cl">24.7</text>
<path fill="none" stroke="#ff0000" stroke-width="2.7" d="M1312.2 352.6l-2.8-0.5-7.8-2.6-2.8-2.7 0.5-0.9M1343.1 338.4l8.2-1.3 19.5-4.3 5.6-0.5 2.8 0.2 2.7 1.4 1.4 2 0.3 2.8-0.8 2.7-1.8 2.7-1.8 1.7-5.6 3.3-10.6 3.1-17.3 1.9-16.7 0.1-16.8-1.6"/>
<text x="1320.6" y="340.9" transform="rotate(-6.6 1320.6 340.9)" fill="#ff0000" font-size="16" class="cl">24.3</text>
<path stroke="#ff0000" stroke-width="4.5" d="M1342.0 338.9L1355.0 351.9M1342.0 351.9L1355.0 338.9"/>
</g>
<rect x="1295.5" y="94.3" width="334.6" height="271.5" fill="none" stroke="#000" stroke-width="1.8"/>
<text x="1295.5" y="399.6" class="tl" text-anchor="middle">0</text>
<text x="1379.2" y="399.6" class="tl" text-anchor="middle">90</text>
<text x="1462.8" y="399.6" class="tl" text-anchor="middle">180</text>
<text x="1546.5" y="399.6" class="tl" text-anchor="middle">270</text>
<text x="1630.1" y="399.6" class="tl" text-anchor="middle">360</text>
<text x="1279.4" y="375.6" class="tl" text-anchor="end">0</text>
<text x="1279.4" y="321.3" class="tl" text-anchor="end">2</text>
<text x="1279.4" y="267.0" class="tl" text-anchor="end">4</text>
<text x="1279.4" y="212.7" class="tl" text-anchor="end">6</text>
<text x="1279.4" y="158.4" class="tl" text-anchor="end">8</text>
<text x="1279.4" y="104.1" class="tl" text-anchor="end">10</text>
<path stroke="#000" stroke-width="1.8" d="M1295.5 365.8v7.5M1379.2 365.8v7.5M1462.8 365.8v7.5M1546.5 365.8v7.5M1630.1 365.8v7.5M1295.5 365.8h-7.5M1295.5 311.5h-7.5M1295.5 257.2h-7.5M1295.5 202.9h-7.5M1295.5 148.6h-7.5M1295.5 94.3h-7.5"/>
<text x="1462.8" y="19.8" class="tt" text-anchor="middle">2007-2009</text>
<text x="1461.8" y="50.0" class="tt" text-anchor="middle">(L<tspan class="sub" dy="4.5">s</tspan><tspan dy="-4.5">=326.5-352.4</tspan><tspan class="sup" dx="6" dy="-10">∘</tspan><tspan dx="3.5" dy="10">)</tspan></text>
<text x="1462.8" y="80.8" class="tt" text-anchor="middle">N<tspan class="sub" dy="4.5">obs</tspan><tspan dy="-4.5">=19</tspan></text>
<clipPath id="c5"><rect x="1698.6" y="94.3" width="334.6" height="271.5"/></clipPath>
<g clip-path="url(#c5)">
<rect x="1698.6" y="94.3" width="331.8" height="268.8" fill="#faf8fb"/>
<path fill="#f4f2f8" d="M1842.5 354.9l23.4 0.8 25.1-1.2 19.5-2.8 14-4.1 11.1-5.4 11.2-8.1 11.1-11.2 14-17.8 10.2-15.3 9.3-15.5 9.3-17.1 21.3-42.7 5.6-8.9 2.8-3.3 0-108-331.8 0 0 105.7 2.8-1.3 2.8-0.2 2.8 1 2.8 2 5.5 6.8 8.4 15.2 23.7 52.7 9.8 19.9 11.1 19.3 5.6 7.9 5.6 6.7 5.5 5.6 5.6 4.5 5.6 3.6 8.4 3.9 8.3 2.8 8.4 1.9 19.5 2.5z"/>
<path fill="#eeecf5" d="M1847.2 308.8l15.9 1.1 16.7-1.3 16.8-3.6 13.9-5 16.7-8.5 14-9.5 13.9-12 11.2-11.8 13.3-17.3 11.8-19 12.2-24.4 18.4-42.1 5.6-9.4 2.8-3.1 0-48.6-331.8 0 0 46.8 2.8-0.6 2.8 0.8 2.8 2 2.8 3 5.5 8.5 5.6 10.8 26.7 56.3 9.6 17.3 8.3 13.2 8.4 11.5 8.4 9.8 8.3 8.3 11.2 9 11.1 6.9 11.2 5 11.1 3.6 11.2 2.2z"/>
<path fill="#e5e4f0" d="M1860 278.9l11.5-0.2 13.9-1.9 14-3.6 13.9-5.4 13.9-7.3 11.2-7.3 11.2-9 11.1-11 8.4-9.9 6.9-9.5 7-11.1 7.3-13.4 11.1-24.4 15.1-40 5.5-13.4 5.6-9.2 2.8-2.5 0-5.5-331.8 0 0 4.5 2.8 0.6 2.8 2 2.8 3.1 5.5 9.1 5.6 11.4 21.3 48 12.2 23.9 13.9 22.5 12.4 16.1 9.9 10.5 8.4 7.6 8.4 6.3 11.1 6.9 11.2 5.2 8.3 2.9 11.2 2.6 11.1 1.3z"/>
<path fill="#dcdcec" d="M1859.1 254.5l12.4 0.2 13.9-1.6 14-3.4 11.1-4 11.2-5.2 11.1-6.6 11.2-8.3 11.1-10.3 8.4-9.3 8.4-11.2 8.3-13.4 7.2-13.8 11.5-27.1 15.6-46.2-298 0 19.2 46.2 11.8 24.4 6.9 12.4 8.3 13.2 14 18.2 8.3 8.9 11.2 10.1 8.4 6.4 11.1 7 8.4 4.3 11.1 4.3 11.2 3 11.1 1.7z"/>
<path fill="#d0d1e6" d="M1851.3 232.8l11.8 1.5 14 0.1 13.9-1.9 11.1-2.9 11.2-4 11.2-5.5 11.1-7 11.2-9 8.3-8.3 8.4-9.9 8.4-12.1 6.8-11.6 6.7-13.6 6.9-16.3 5.9-16.3 6.8-21.7-279.8 0 12.4 30.2 11.8 24.1 6.3 10.9 7 10.7 14 17.5 8.3 8.6 8.4 7.4 8.4 6.4 11.1 7.4 16.8 8.6 8.3 3.2 11.2 3z"/>
<path fill="#c4c5e0" d="M1862.3 216.5l9.2 0.7 11.1-0.3 11.2-1.6 11.1-2.9 11.2-4.2 8.4-4.2 11.1-7.1 8.4-6.7 8.3-8.2 8.4-9.9 7-9.9 6.5-10.9 6.9-13.6 5.9-13.5 10.4-29.9-265.3 0 11.1 25.2 11.2 20.8 5.5 8.7 8.4 11.3 14 14.9 8.3 7.3 11.2 8.4 19.5 11.9 11.1 5.3 8.4 3.3 11.2 3.3 8.3 1.5z"/>
<path fill="#b7b7d9" d="M1859.9 200.2l8.8 1.3 11.1 0.5 11.2-0.9 11.1-2.2 11.2-3.7 8.4-3.8 8.3-4.8 8.4-6.1 8.4-7.4 7.5-8.2 6.4-8.2 7.2-10.8 6.7-12.2 5.6-11.8 10.5-27.6-252.2 0 10.3 21.3 11.1 18.3 11.2 14.1 11.2 11 16.7 12.7 22.3 13.5 19.5 9.3 16.7 5.2z"/>
<path fill="#aba9d0" d="M1863.9 186.6l10.4 1.5 8.3 0.3 11.2-0.8 8.3-1.6 8.4-2.4 8.4-3.4 8.3-4.5 8.4-5.8 8.4-7.1 5.6-5.8 6.9-8.4 7-10 5.6-9.5 5.5-10.9 9.9-23.9-239.9 0 9.8 17.7 8.3 12.2 11.2 12.7 11.1 9.6 16.8 11.2 30.6 17.3 16.8 7.4 13.9 4.1z"/>
<path fill="#9e9ac8" d="M1876.1 175.8l14.9 0.2 8.4-1.1 8.3-2 14-5.5 8.3-5 5.6-4 11.2-10.3 5.5-6.5 6.9-9.3 9.9-16.8 9.6-21.2-227.7 0 8.9 14 8.4 10.2 8.4 8.1 11.1 8.2 43.4 24.7 12.4 6.5 8.4 3.6 8.3 2.9 14 3z"/>
<path fill="#918ec2" d="M1882 164.9l11.8 0 13.9-2.5 5.6-1.8 8.4-3.7 11.1-7 11.2-9.8 11.1-13.5 10-16 7.9-16.3-215.1 0 7.6 9.7 5.6 5.8 8.4 6.9 8.3 5.4 25.3 12.9 27.7 16.2 11.2 5.7 13.9 5.1 13.9 2.7z"/>
<path fill="#8582bc" d="M1879 154l12 0.9 13.9-1.6 8.4-2.5 5.6-2.3 11.1-6.4 11.2-9.3 8.4-9.3 9-12.9 8.9-16.3-201.2 0 7.6 7.1 8.4 5.8 8.3 4.4 25.1 11.4 33.5 20.4 13.9 6.5 14 3.8z"/>
<path fill="#7a71b4" d="M1874.6 143.2l13.6 2.1 11.2-0.3 8.3-1.5 5.6-1.7 11.2-5.2 11.1-7.9 8.4-8.2 9.9-12.6 8.2-13.6-183.7 0 9.4 4.9 19.5 7.2 8.4 3.9 8.4 4.8 27.9 18.5 11.1 5.6 11.2 3.9z"/>
<path fill="#715faa" d="M1879.6 135l11.4 1.5 11.1-0.5 11.2-2.7 8.4-3.6 11.1-7.3 8.4-7.7 8.4-9.9 6.9-10.5-149.8 0 6.2 2.4 8.4 4.5 25.1 18 11.1 7.1 11.2 5.4 8.4 2.7z"/>
<path fill="#674ca1" d="M1882.1 126.9l8.9 1.3 11.1-0.3 8.4-1.7 8.4-3.1 8.3-4.7 8.4-6.4 8.4-8.7 6.9-9-122.6 0 18.1 14.4 11.1 7.8 11.2 5.9 11.1 4z"/>
<path fill="#5e3b98" d="M1882.3 118.7l8.7 1.6 8.4 0.2 8.3-1.2 8.4-2.5 8.4-4.1 5.5-3.8 8.4-7.3 6.5-7.3-103.6 0 10.7 8.8 8.3 5.9 11.2 6 8.3 3.1z"/>
<path fill="#552890" d="M1881 110.6l7.2 1.7 8.4 0.9 8.3-0.6 5.6-1.1 8.4-3 5.6-3 8.3-6 5.5-5.2-85.7 0 13.3 9.5 5.6 3 8.3 3.4z"/>
<path fill="#4c1888" d="M1888.5 105.2l10.9 1 11.1-1.5 5.6-1.8 5.6-2.6 9-6-66.9 0 7.7 4.7 5.6 2.6 11.1 3.5z"/>
<path fill="#430780" d="M1883.9 97l9.9 2.2 8.3 0.2 8.4-1.3 10.1-3.8-43.7 0 5.7 2.3z"/>
<path fill="none" stroke="#000" stroke-width="1.6" d="M1698.6 200l2.8-1.3 2.8-0.2 2.8 1 2.8 2 2.7 3 5.6 8.3 5.6 10.7 4.3 9.1M1740.2 260.1l15.1 32.4 7.4 13.7 6.7 10.7 7.3 9.9 5.6 6.2 5.5 5 8.4 5.7 8.4 3.9 11.1 3.5 11.2 2.2 13.9 1.5 16.7 0.8 19.6-0.2 16.7-1.1 13.9-2.1 8.4-1.9 8.4-2.7 5.5-2.4 8.4-4.7 5.6-4.1 5.6-4.8 5.5-5.6 8.4-9.8 13.9-19.2 11.2-17.9 12.1-21.9 21.3-42.7 5.6-8.9 2.8-3.3M1698.6 98.8l2.8 0.6 2.8 2 2.8 3.1 2.8 4.2 5.5 10.4 8 17.5M1735.4 164.3l8 16.9 8.2 15.7 8.3 14.1 7.4 10.9 9.4 12.1 8.3 9.3 8.4 7.9 8.4 6.7 8.3 5.7 11.2 6 11.1 4.4 11.2 3 11.1 1.6 11.2 0.4 11.2-0.8 11.1-1.9 11.2-3.1 11.1-4.2 11.2-5.3 11.1-6.7 11.2-8.1 8.3-7.3 8.4-8.4 7.3-8.6 6.1-8.1 5.5-8.2 4.9-8.1 5.8-10.9 5.2-10.8 5.9-13.6 15.1-40 5.5-13.4 2.8-5.3 2.8-3.9 2.8-2.5M1725.2 94.3l1.9 5M1738.8 127.2l6.4 13.3 6.4 12 7.5 12.4 6.4 9.2 8.4 10.5 8.4 9 8.3 7.7 8.4 6.8 8.3 5.9 11.2 6.7 11.2 5.4 11.1 4 8.4 2.2 11.1 1.8 11.2 0.5 11.1-0.8 11.2-1.9 11.1-3.2 11.2-4.4 8.4-4.2 8.3-5.1 8.4-6.1 8.4-7.4 8.3-8.8 7.1-8.8 6.9-10.1 6.8-11.6 5.5-10.9 5.9-13.6 5.2-13.5 9.7-29.9M1738.5 94.3l10.3 21.3 5.6 9.7 5.5 8.6 5.6 7.5 5.6 6.6 11.2 11 8.3 6.8 8.4 5.9 11.1 7.1 11.2 6.4 11.1 5.7 8.4 3.6 8.4 3 8.3 2.2 8.4 1.5 5.6 0.6 8.3 0.2 8.4-0.5 8.4-1.3 8.3-2.1 8.4-2.9 5.6-2.4 8.3-4.5 5.6-3.6 8.4-6.5 5.6-5.1 5.5-5.9 5.6-6.7 5.6-7.8 4.6-7.1M1981.6 118.6l5.3-13.4 3.8-10.9M1751 94.3l6.2 10 5.5 7.7 5.6 6.5 8.4 8.1 5.6 4.4 8.3 5.6 22.6 12.7M1839.6 164l9.6 4.5 11.1 4 11.2 2.6 11.1 1.1 8.4-0.2 11.1-1.6 11.2-3.3 8.4-3.7 8.3-5 8.4-6.3 8.4-8 6.5-7.6 7.4-10.5 5.6-9.3 6.5-12.8 5.9-13.6M1766.3 94.3l7.1 6.7M1809.2 119.7l12.1 6.5 27.4 17 6 3.1 8.4 3.6 11.2 3.3 8.3 1.3 11.2 0.3 8.3-1 11.2-3 8.4-3.6 8.3-5.1 8.4-6.6 8.4-8.6 6.4-8.2 7.5-11.5 6.8-12.9M1806.7 94.3l8.7 3.6M1848.8 120.8l8.7 5.5 8.4 4.2 8.4 3.1 5.5 1.5 8.4 1.3 5.6 0.2 8.3-0.6 5.6-1.1 8.4-2.6 5.6-2.6 5.5-3.3 5.6-4 5.6-4.9 6.5-6.9 6.3-8.2 5.3-8.1M1841.3 94.3l10.7 8.8 8.3 5.9 8.4 4.7 8.4 3.5 8.3 2.3 8.4 1 8.3-0.3 5.6-0.9 4.5-1.2M1944.4 94.8l0.5-0.5M1863.8 94.3l3.2 2M1905.5 105.7l7.8-1.8 5.6-2.2 5.6-3 6.2-4.4"/>
<text x="1734.1" y="246.3" transform="rotate(-293.8 1734.1 246.3)" fill="#000" font-size="16" class="cl">30</text>
<text x="1729.3" y="150.5" transform="rotate(-293.6 1729.3 150.5)" fill="#000" font-size="16" class="cl">45</text>
<text x="1732.8" y="113.3" transform="rotate(-292.7 1732.8 113.3)" fill="#000" font-size="16" class="cl">60</text>
<text x="1975.3" y="132.3" transform="rotate(-63.4 1975.3 132.3)" fill="#000" font-size="16" class="cl">75</text>
<text x="1826.4" y="156.7" transform="rotate(-330.5 1826.4 156.7)" fill="#000" font-size="16" class="cl">90</text>
<text x="1790.6" y="111.6" transform="rotate(-333.4 1790.6 111.6)" fill="#000" font-size="16" class="cl">105</text>
<text x="1832.4" y="108.9" transform="rotate(-324.6 1832.4 108.9)" fill="#000" font-size="16" class="cl">120</text>
<text x="1930.0" y="108.9" transform="rotate(-36.2 1930.0 108.9)" fill="#000" font-size="16" class="cl">135</text>
<text x="1885.4" y="104.5" transform="rotate(-346.1 1885.4 104.5)" fill="#000" font-size="16" class="cl">150</text>
<path fill="none" stroke="#ffa500" stroke-width="2.7" d="M2030.4 324.1l-5.6-2.1-2.8-2.1-2.3-2.7M2023.9 273.6l3.7-7.4 2.8-4M1698.6 259.3l2.8-1.7 2.8-0.3 2.8 1.1 2.8 2.5 1.7 2.4M1721.1 306.9l-1.3 4.6-1.2 2.7-1.7 2.7-2.5 2.7-4.1 2.8-3.3 1.2-2.8 0.7-5.6 0.2"/>
<text x="2017.1" y="295.2" transform="rotate(-82.7 2017.1 295.2)" fill="#ffa500" font-size="16" class="cl">25.9</text>
<text x="1719.7" y="284.4" transform="rotate(-282.6 1719.7 284.4)" fill="#ffa500" font-size="16" class="cl">25.9</text>
<path fill="none" stroke="#ff0000" stroke-width="2.7" d="M2030.4 303.3l-1.2-2.7-0.9-5.4 0.6-5.4 1.5-5.8M1698.6 279l2.8-2.3 2.8-0.2 2.8 2.3 2.8 6.1 0.9 7.6-0.9 6.9-2.8 4.8-2.8 1.9-2.8 0.5-2.8-0.8"/>
<path stroke="#ff0000" stroke-width="4.5" d="M1695.3 283.3L1708.3 296.3M1695.3 296.3L1708.3 283.3"/>
</g>
<rect x="1698.6" y="94.3" width="334.6" height="271.5" fill="none" stroke="#000" stroke-width="1.8"/>
<text x="1698.6" y="399.6" class="tl" text-anchor="middle">0</text>
<text x="1782.3" y="399.6" class="tl" text-anchor="middle">90</text>
<text x="1865.9" y="399.6" class="tl" text-anchor="middle">180</text>
<text x="1949.6" y="399.6" class="tl" text-anchor="middle">270</text>
<text x="2033.2" y="399.6" class="tl" text-anchor="middle">360</text>
<text x="1682.5" y="375.6" class="tl" text-anchor="end">0</text>
<text x="1682.5" y="321.3" class="tl" text-anchor="end">2</text>
<text x="1682.5" y="267.0" class="tl" text-anchor="end">4</text>
<text x="1682.5" y="212.7" class="tl" text-anchor="end">6</text>
<text x="1682.5" y="158.4" class="tl" text-anchor="end">8</text>
<text x="1682.5" y="104.1" class="tl" text-anchor="end">10</text>
<path stroke="#000" stroke-width="1.8" d="M1698.6 365.8v7.5M1782.3 365.8v7.5M1865.9 365.8v7.5M1949.6 365.8v7.5M2033.2 365.8v7.5M1698.6 365.8h-7.5M1698.6 311.5h-7.5M1698.6 257.2h-7.5M1698.6 202.9h-7.5M1698.6 148.6h-7.5M1698.6 94.3h-7.5"/>
<text x="1865.9" y="19.8" class="tt" text-anchor="middle">2008-2010</text>
<text x="1864.9" y="50.0" class="tt" text-anchor="middle">(L<tspan class="sub" dy="4.5">s</tspan><tspan dy="-4.5">=339.6-4.8</tspan><tspan class="sup" dx="6" dy="-10">∘</tspan><tspan dx="3.5" dy="10">)</tspan></text>
<text x="1865.9" y="80.8" class="tt" text-anchor="middle">N<tspan class="sub" dy="4.5">obs</tspan><tspan dy="-4.5">=16</tspan></text>
<clipPath id="c6"><rect x="86.2" y="527.7" width="334.6" height="271.5"/></clipPath>
<g clip-path="url(#c6)">
<rect x="86.2" y="527.7" width="331.8" height="268.8" fill="#f9f7fb"/>
<path fill="#f2f0f7" d="M86.2 796.5l331.8 0 0-268.8-331.8 0 0 266.1zM323.2 734.1l-5.6-2.9-5.5-5.3-2.8-4.4-2.8-6.3-2.2-8.3-1.3-8.2-0.6-10.8 0.1-10.9 1.1-16.3 2.3-16.3 3.2-16.2 3-11.1 2.8-7.9 2.7-5.9 2.8-4.3 2.8-2.7 1.5-0.7 1.3-0.6 2.8-0.1 2.8 1.3 2.8 2.5 5 7.7 3.6 8.2 5.3 15.9 4 16.7 2.9 16.2 1.7 16.3 0.3 13.6-0.9 10.9-1.7 8.1-3 8.2-3.3 5.4-5.6 5.4-5.3 2.7-5.8 1.2-5.6-0.3z"/>
<path fill="#eae8f2" d="M90.4 793.8l4.2 1.5 6.9 1.2 127.4 0 5.1-0.8 5.6-1.7 2.7-1.5 2.8-2.5 2.8-4.2 2.8-6.2 8.4-27.8 13.9-54.9 19.5-83.1 5.6-21.4 5.6-18.1 5.6-14.1 5.5-10 5.6-6.4 4.7-2.5 3.7-0.6 2.8 0.6 5.6 3.5 2.7 2.9 5.1 7.1 8.9 17.9 8.3 21.3 10.8 31.4 9.1 29.9 9.5 35.3 18 73.5 4 13.4 4.4 9.9 0-259.7-331.8 0 0 263.2 2.8 2.2z"/>
<path fill="#dfdfed" d="M144.2 753l14.5 2.5 13.9 0 14-2.1 11.1-3.6 11.2-5.5 10.4-7.5 9.1-8.9 8.4-10.5 6.8-10.5 7.1-13 6.6-14.2 6.5-16.3 10.8-32.5 20.7-72 5.6-16.2 6.5-15-221.2 0 0 167.4 5.6 11.5 6.4 11.1 5.7 8.2 7.1 8.1 6 5.5 8.2 5.7 8.4 4.3 8.4 3zM417.7 687.9l0.3-160.2-65.7 0 11.9 24.4 18.4 43.5 10.7 27.1 23.2 62.5z"/>
<path fill="#d2d2e7" d="M149.8 720.5l11.7 1.9 11.1-0.3 11.2-2.2 11.1-4.2 11.2-6.3 8.4-6.3 11.1-10.7 8.4-10.1 8.3-12.1 5.6-9.4 7-13.6 7-16.1 11.1-31.1 22.5-72.3-209.3 0 0 116.4 7 16.6 6.9 14.1 6.1 10.4 7.9 10.9 8.3 9 8.4 6.6 8.4 4.9 8.3 3.2zM417.7 636.3l0.3-108.6-48.4 0 26.5 54.3 8 18.9 12.6 32.7z"/>
<path fill="#c3c4e0" d="M152.5 693.3l9 1.4 11.1-0.5 8.4-1.9 11.2-4.3 11.1-6.3 11.2-8.4 11.1-10.5 8.4-9.7 8.3-11.7 5.6-9.2 5.6-10.5 6.9-15.3 11.2-29.8 15.4-48.9-200.8 0 0 74.7 6.6 17.6 6.8 16.3 6.1 12.8 6.8 11.6 7.2 10.1 5.5 6.3 8.4 7.2 8.4 5.1 8.3 3.3zM417.3 592.9l0.7 1.9 0-67.1-31 0 9.4 16.3 6.8 13.6 6.4 15 6.7 17.5z"/>
<path fill="#b4b4d7" d="M150.4 668.9l8.3 1.7 8.4 0.1 8.3-1.4 11.2-3.9 11.1-5.7 11.2-7.4 11.1-9 8.4-8.1 8.4-9.8 5.5-7.7 6.9-11.3 6.9-13.5 11.3-27.8 12.4-37.4-193.6 0 0 37.6 11.3 33 8.9 21.7 10.1 19 5.6 8.2 4.4 5.4 7.1 6.9 5.6 4.1 5.6 3.1 5.5 2.2zM417.2 554.8l0.8 2.3 0-29.4-11.7 0 6.1 14.1 3.9 10.3z"/>
<path fill="#a5a2cd" d="M148.2 647.2l7.7 2.1 8.4 0.3 8.3-1.3 8.4-2.7 11.2-5.4 11.1-6.6 11.2-7.8 11.1-9.2 8.4-8.6 5.6-6.9 5.5-8.1 5.6-9.5 5.6-11.1 5.6-12.9 11.4-31.8-187.1 0 0 3.2 13.3 43 6.9 19 7.7 17.3 8.3 14.3 8.4 10.5 8.4 7.3 8.3 4.6z"/>
<path fill="#9692c4" d="M147.3 628.2l5.8 1.9 8.4 0.7 8.4-1.1 8.3-2.8 11.2-5.6 13.9-8.3 14-9.1 8.3-6.4 11.2-11.2 5.5-7.3 5.6-8.6 9.4-18.3 9.8-24.4-172.9 0 7 24.4 5.3 16.3 5.1 13.6 6.3 13.6 6.2 10.8 6.7 9 5.6 5.7 8.4 5.8z"/>
<path fill="#8784bd" d="M148.8 611.9l7.1 1.7 5.6 0.1 5.6-0.8 8.3-2.9 11.2-5.8 25.1-14.9 13.9-9.2 5.6-4.8 5.6-5.7 8.3-11 8.4-14.6 7.3-16.3-159.5 0 5.5 19 4.6 13.6 5.5 13.4 5.5 11.3 5.6 9 5.6 7 5.6 5.3 8.3 5.1z"/>
<path fill="#7a71b4" d="M146.7 595.6l6.4 2.2 5.6 0.4 5.6-0.6 5.6-1.7 8.3-3.9 22.3-13.8 22.3-12.3 8.4-6.2 8.4-8.6 8.3-11.9 6.3-11.5-146.8 0 8.2 24.4 4.6 10.9 5 9.9 8.4 12.1 5.6 5.7 5.6 3.9z"/>
<path fill="#6f5ba8" d="M147.9 582l5.2 1.6 8.4 0 5.6-1.5 8.3-4 23-15.1 21.6-10.6 8.4-5 8.4-7.3 5.5-6.5 4.1-5.9-133.3 0 7.1 19 8.3 16.3 8.2 10.9 5.3 4.7 5.5 3.3z"/>
<path fill="#64459e" d="M147 568.4l3.3 1.4 5.6 0.9 5.6-0.6 5.6-1.8 8.3-4.5 22.3-15.9 8.4-4.3 19.5-8.2 5.6-3.6 4.7-4.1-117.2 0 6.5 15.2 5.6 9.9 5.6 7.3 2.8 2.9 5.6 4.3z"/>
<path fill="#593093" d="M150.5 557.6l5.4 0.7 2.8-0.2 8.4-2.6 8.3-5.2 19.5-15.4 8.4-4.7 6.7-2.5-85.5 0 6.3 12.1 5.6 7.8 5.6 5.5 2.8 1.9 5.5 2.5z"/>
<path fill="#4e1c8a" d="M155.4 546.7l6.1-0.9 8.4-4.1 5.5-4.2 11.2-9.8-55.8 0 5.6 8.2 5.6 5.6 5.5 3.5 5.6 1.6z"/>
<path fill="#440981" d="M145.5 533.1l4.8 2.1 2.8 0.6 5.6-0.4 5.6-2 8.5-5.7-33.9 0 5.9 5z"/>
<path fill="none" stroke="#000" stroke-width="1.6" d="M352 645.5l2.4 12.5 2.1 16.3 0.7 10.9-0.1 10.8-1.3 10.9-1.9 8-2.8 6.6-2.8 4.4-2.8 3.1-2.8 2.3-5.5 2.9-5.6 1-5.6-0.3-2.8-0.8-5.6-2.9-2.8-2.3-2.7-3.1-3.4-5.3-3.1-8.2-1.9-8.4-1.3-13.3 0.1-13.6 0.9-13.6 2-16.2 2.5-13.6 4.1-16.3 2.8-8.1 2.8-5.9 2.8-4.3 2.8-2.7 1.5-0.7 1.3-0.6 2.8-0.1 2.8 1.3 2.3 2.1 3.3 4.2 2.7 5 3.8 9M86.2 695.1l5.6 11.5 4.7 8.4 3.6 5.7 5.6 7.5 5.6 6.1 5.6 5.1 5.5 4.1 8.4 4.7 8.4 3.4 8.3 2.3 8.4 1.3 8.4 0.5 11.1-0.4 8.4-1.3 8.4-2.2 8.3-3.1 8.4-4.4 5.6-3.7 5.5-4.4 5.6-5.3 5.6-6.2 5.3-7 8.6-13.4 8.4-16.2 9.2-21.9 8.5-24.5 8.7-28.8M288 583.7l10.1-33.3 5.6-14.7 3.7-8M352.3 527.7l8.2 16.3 11.8 26.8M383.9 598.7l10.4 26.7 16.9 46.2 6.8 17.1M86.2 602.4l9.9 25.8 4.7 10.8 4.9 10.1 8.5 14.3 5.5 7.4 5.5 6.2 5.6 5.2 5.6 4.1 5.6 3.1 5.5 2.4 5.6 1.7 5.6 0.9 5.6 0.4 8.3-0.6 8.4-1.9 5.6-1.9 8.3-3.8 8.4-4.9 8.4-6.1 5.6-4.7 8.3-8.1 5.6-6.3 5.6-7.1 5.5-8 5.6-9.2 5.6-10.5 8.4-18.7 9.2-25.1M280.3 549.1l6.7-21.4M387 527.7l1.9 3.1M403.2 557.5l6.4 15.1 8.4 22.2M86.2 530.9l2 6.8M97.1 566.6l8.2 23.5 8.3 19.1 4.3 8.1 4.5 7.2 4.8 6.4 3.6 4.1 8.4 7.3 5.6 3.4 5.5 2.2 5.6 1.4 5.6 0.4 5.6-0.3 5.5-1.1 8.4-2.7 8.4-3.9 8.3-4.7 11.2-7.2 8.4-6.1 8.3-7.1 5.6-5.5 5.6-6.4 5.5-7.5 5.6-8.8 8.4-16 8.4-20 8.6-24.7M101.3 527.7l8.2 27.1 4.6 12.4 4.1 9.4 4.2 8.4 4.9 7.9 3.5 4.8 5.6 6.1 3 2.6 5.4 3.6 5.5 2.4 5.6 1.2 5.6 0.1 5.6-0.8 8.3-2.9 6.5-3.2M207.9 591.5l9.4-5.6 8.3-5.8 8.4-7.5 5.6-6.3 5.5-7.7 5.6-9.3 5.6-11.1 4.5-10.5M113.1 527.7l3.8 10.9 4.5 10.8 3.8 8 5.6 9.2 3.5 4.5 4.9 5.2 5.6 4.1 5.5 2.5 2.8 0.7 5.6 0.3 5.6-0.9 5.6-2 8.3-4.6 19.5-13 12.8-6.6M242.7 533.1l3.7-5.4M124.5 527.7l4.2 8.4M159.5 558l4.8-1.3 5.6-2.7 6.6-4.6 18.4-14.5 8.4-4.7 6.7-2.5M138.9 527.7l3.1 3 5.5 3.5 2.8 1 5.6 0.6 2.8-0.4 5.6-2 5-3 3.5-2.7"/>
<text x="348.4" y="630.9" transform="rotate(-285.7 348.4 630.9)" fill="#000" font-size="16" class="cl">30</text>
<text x="284.0" y="598.3" transform="rotate(-74.4 284.0 598.3)" fill="#000" font-size="16" class="cl">45</text>
<text x="378.2" y="584.7" transform="rotate(-292.6 378.2 584.7)" fill="#000" font-size="16" class="cl">45</text>
<text x="275.8" y="563.5" transform="rotate(-72.3 275.8 563.5)" fill="#000" font-size="16" class="cl">60</text>
<text x="396.4" y="544.0" transform="rotate(-298.3 396.4 544.0)" fill="#000" font-size="16" class="cl">60</text>
<text x="92.6" y="552.1" transform="rotate(-286.9 92.6 552.1)" fill="#000" font-size="16" class="cl">75</text>
<text x="194.9" y="599.2" transform="rotate(-30.9 194.9 599.2)" fill="#000" font-size="16" class="cl">90</text>
<text x="228.4" y="547.4" transform="rotate(-35.8 228.4 547.4)" fill="#000" font-size="16" class="cl">105</text>
<text x="140.9" y="552.1" transform="rotate(-322.7 140.9 552.1)" fill="#000" font-size="16" class="cl">120</text>
<path fill="none" stroke="#ffa500" stroke-width="2.7" d="M316 648.9l1.6-8.2 2.8-8.5 2.8-4.8 2.8-2.3 2.8-0.1 2.8 2 2.7 3.9 2.9 6.5 2.7 9.8 2.4 16.2 0.4 10.9-0.8 8.2-2 8.5-2.7 5.7-2.8 3.1-2.8 1.6-2.8 0.4-2.8-0.7-2.8-1.9-2.8-3.3-1.1-2.2"/>
<text x="314.6" y="671.6" transform="rotate(-273.4 314.6 671.6)" fill="#ffa500" font-size="16" class="cl">27.9</text>
<path fill="none" stroke="#ff0000" stroke-width="2.7" d="M328.8 680l-2.8-1.3-2.3-4.4-1.2-5.4-0.4-5.5 0.3-5.4 0.8-5.8 2.8-5.9 2.8-0.6 2.8 3.5 1 3.4 1.6 8.1 0.2 5.5-0.6 5.4-1.8 5.4-0.4 1-2.8 2"/>
<path stroke="#ff0000" stroke-width="4.5" d="M323.5 658.3L336.5 671.3M323.5 671.3L336.5 658.3"/>
</g>
<rect x="86.2" y="527.7" width="334.6" height="271.5" fill="none" stroke="#000" stroke-width="1.8"/>
<text x="86.2" y="833.0" class="tl" text-anchor="middle">0</text>
<text x="169.9" y="833.0" class="tl" text-anchor="middle">90</text>
<text x="253.5" y="833.0" class="tl" text-anchor="middle">180</text>
<text x="337.2" y="833.0" class="tl" text-anchor="middle">270</text>
<text x="420.8" y="833.0" class="tl" text-anchor="middle">360</text>
<text x="70.1" y="809.0" class="tl" text-anchor="end">0</text>
<text x="70.1" y="754.7" class="tl" text-anchor="end">2</text>
<text x="70.1" y="700.4" class="tl" text-anchor="end">4</text>
<text x="70.1" y="646.1" class="tl" text-anchor="end">6</text>
<text x="70.1" y="591.8" class="tl" text-anchor="end">8</text>
<text x="70.1" y="537.5" class="tl" text-anchor="end">10</text>
<path stroke="#000" stroke-width="1.8" d="M86.2 799.2v7.5M169.9 799.2v7.5M253.5 799.2v7.5M337.2 799.2v7.5M420.8 799.2v7.5M86.2 799.2h-7.5M86.2 744.9h-7.5M86.2 690.6h-7.5M86.2 636.3h-7.5M86.2 582.0h-7.5M86.2 527.7h-7.5"/>
<text x="253.5" y="453.2" class="tt" text-anchor="middle">2009-2011</text>
<text x="252.5" y="483.4" class="tt" text-anchor="middle">(L<tspan class="sub" dy="4.5">s</tspan><tspan dy="-4.5">=352.4-17.0</tspan><tspan class="sup" dx="6" dy="-10">∘</tspan><tspan dx="3.5" dy="10">)</tspan></text>
<text x="253.5" y="514.2" class="tt" text-anchor="middle">N<tspan class="sub" dy="4.5">obs</tspan><tspan dy="-4.5">=12</tspan></text>
<clipPath id="c7"><rect x="489.3" y="527.7" width="334.6" height="271.5"/></clipPath>
<g clip-path="url(#c7)">
<rect x="489.3" y="527.7" width="331.8" height="268.8" fill="#faf9fc"/>
<path fill="#f5f4f9" d="M489.3 761.2l0 0.8 5.6 0.6 13.9-0.4 11.2-2.2 11.1-4.5 8.4-5.7 7.3-7.6 5.4-8.2 5-10.8 4.4-13.6 3.7-16.3 3.1-19 2.3-19 4-48.9 3.9-78.7-89.3 0 0 230.8zM819.5 761.2l1.6 0.3 0-233.8-63.2 0 2.5 70.6 3 46.1 3.9 35.3 5.1 27.2 3.1 10.8 4.2 10.9 5.2 9.5 5.2 6.8 5.9 5.7 5.6 3.8 8.4 4.1 8.3 2.5zM662.1 717.7l5.7 0.2 8.3-1.4 8.4-3.6 5.6-3.8 5.5-5.1 6.4-8 4.9-8.1 5.5-11.9 3.6-9.8 4-13.6 4.4-19 3-16.3 5.6-40.7 4.8-48.9-141.9 0 3.9 46.2 5 40.7 5.4 29.8 6.7 24.5 4.1 10.8 3.9 8.2 3.8 6.6 5.6 7.6 5.6 5.6 5.5 4.2 5.6 2.9 8.4 2.6z"/>
<path fill="#f1eff6" d="M489.3 734l0 0.6 2.8 0.6 5.6 0.7 11.1-0.8 8.4-2.4 8.3-4.5 6.2-5 7.2-8.2 5.1-8.1 5.2-10.9 4.7-13.5 3.6-13.6 6.1-32.6 5.3-46.2 4.5-62.4-84.1 0 0 203.6zM815.1 731.3l6 2.5 0-206.1-57.6 0 2.8 48.9 3.3 38 3.8 29.8 5.2 27.2 6.3 21 3.6 8.9 4.3 8.1 3.6 5.4 5.2 6.3 5.6 5.1 5.5 3.7zM661.6 690.6l6.2 0.2 8.3-2.1 5.6-2.8 5.6-4.3 5.5-5.9 5-6.8 4.6-8.2 3.8-8.1 7.6-21.7 6.6-27.2 6.5-38 4.7-38-130.2 0 4.1 38 4.9 32.6 5.1 24.4 6.3 21.7 6.9 16.6 4.4 7.9 4 5.7 5.6 6.2 5.5 4.6 5.6 3 5.6 1.8z"/>
<path fill="#ebe9f3" d="M493.6 715l6.9 0.8 8.3-1 8.4-3.2 5.6-3.5 5.5-4.9 6-7.2 5.2-8.2 5.6-11.8 4.4-12.6 3.8-13.5 3.7-16.3 2.9-16.3 5.6-43.4 4.1-46.2-80.3 0 0 186.2 2.8 0.8zM820 712.3l1.1 0.5 0-185.1-53.5 0 2.8 38 4.4 40.7 4.9 29.9 5.1 21.7 6.4 19 7.6 15.1 8.4 10.9 5.5 4.9 5.6 3.6zM656.5 668.9l5.7 1.4 5.6 0 5.5-1.4 5.6-2.7 5.6-4.2 5.6-6 5.5-8 3.5-6.3 8-19 7.2-24.4 6.8-32.6 5.8-38-121.4 0 4.2 32.6 4.2 24.4 4.9 21.7 5.7 19 5.5 13.6 7.1 12.9 8.3 10 8.4 5.8z"/>
<path fill="#e3e2ef" d="M498.1 698.7l7.9-0.3 5.6-1.6 5.6-2.8 5.6-4.2 5.5-5.7 5.6-7.8 4.2-7.4 4.2-9.3 3.6-9.7 4-13.6 6-27.1 5.4-35.3 5-46.2-77 0 0 168.9 8.4 2.1zM817.8 693.3l3.3 2 0-167.6-50 0 3.2 35.3 3.8 29.9 4.1 24.4 5 21.7 6 18.8 6.3 13.8 7.7 11.8 8.3 8.3zM659.4 652.6l5.6 0.7 5.5-0.9 2.8-0.9 5.6-3.1 8.4-8 5.5-7.8 4.1-7.2 4.3-9.4 3.7-9.6 6.6-21.7 5.6-24.4 5.7-32.6-113.7 0 4 27.1 4.5 22.9 5.2 20.6 5.4 16.3 6.1 13.5 6.9 10.9 7 7.6 2.8 2.1 5.6 3z"/>
<path fill="#dcdcec" d="M491.9 682.5l5.8 1.4 8.3-0.4 5.6-1.7 5.6-3.2 5.6-4.7 5.5-6.4 4.5-6.8 4.3-8.1 4.5-10.9 3.5-9.9 7.1-28.1 5.8-32.6 5.4-43.4-74.1 0 0 153.7zM820.9 679.7l0.2-152-46.9 0 3.2 29.9 3.8 27.1 4.6 24.5 4.7 19 5.5 16.3 6.2 13.5 7.8 11.9 8.3 8.1zM656 636.3l3.4 1.2 5.6 0.7 5.5-1 5.6-2.6 4.8-3.7 3.6-3.6 8.3-12 6.9-14.3 7.1-20.1 6.1-23.3 6-29.9-106.5 0 3.6 21.7 4.4 20.5 4.7 17.5 4.7 13.6 4.5 10.3 5.6 9.9 5.5 7.2 2.8 2.8 5.6 4z"/>
<path fill="#d2d2e7" d="M492 668.9l5.7 1.6 5.5 0.1 5.6-1.2 5.6-2.7 5.6-4.2 5.5-6.1 5.6-8.2 3.5-6.5 7.7-19.1 7.4-27 5.7-29.9 5.3-38-71.4 0 0 139.9zM817.9 663.4l3.2 2.5 0-138.2-44 0 3.4 27.1 3.3 21.8 3.9 19.6 4.5 18.4 4.4 13.6 5.7 13.5 6.2 10.9 7 8.7zM656.1 622.7l3.3 1.2 5.6 0.6 5.5-1.1 2.8-1.2 5.6-3.8 2.8-2.7 8.4-11.1 7.3-14.5 6.6-17.7 5.7-20.3 5.5-24.4-99.7 0 3.6 19 3.8 16.3 3.9 13.6 4.7 13.3 5.6 12 5.6 9 5.5 6.4 5.6 4.3z"/>
<path fill="#c8c8e2" d="M497.2 658l3.3 0.4 5.5-0.5 5.6-2.1 5.6-3.7 5.1-4.9 3.2-4.1 4.4-6.8 4-7.5 7.7-19.6 6-21.8 5.5-27.1 5-32.6-68.8 0 0 127.3 5.6 2.5zM820.4 652.6l0.7 0.5 0-125.4-41.2 0 3.4 24.4 3.7 21.8 4.2 19 4.5 16.3 4.9 13.5 5 10.9 6.9 10.8 5.8 6.4zM661.9 611.9l5.9-0.4 2.7-0.8 5.6-3.2 4.3-3.8 4.1-4.6 5.6-8.5 5.5-11.2 5.6-14.3 5.6-18.1 4.8-19.3-93.1 0 3.5 16.3 4.3 16.3 5.2 15.6 5 11.5 6.2 10.5 5.5 6.7 5.6 4.4 5.6 2.4z"/>
<path fill="#bebedd" d="M491.4 644.4l3.5 1.6 5.6 1 5.5-0.6 5.6-2.1 5.6-3.9 4-4.1 4.3-5.5 4.9-8.1 7.2-16.3 6.8-21.7 5.6-24.4 5.6-32.6-66.3 0 0 115.6zM818.6 639l2.5 2.2 0-113.5-38.6 0 3.4 21.7 3.5 19 3.8 16.4 3.9 13.5 4.5 12.7 5.6 12.1 5.5 9.1 5.6 6.5zM655.6 598.3l6.6 2 5.6-0.5 2.7-1 5.4-3.2 3-2.6 5.6-6.6 5.6-8.9 6.7-14.5 5.8-16.3 5.3-19-86.4 0 7.2 27.3 7.3 18.9 3.9 7.5 5.5 8.3 2.9 3.2 5.5 4.4z"/>
<path fill="#b3b3d6" d="M491.6 633.6l3.3 1.5 5.6 1.2 5.5-0.6 5.6-2.2 5.6-4.1 2.8-2.8 5-6.6 3.3-5.3 7.6-16.4 6.4-19.2 5.6-22.7 5.3-28.7-63.9 0 0 104.5zM819.1 628.2l2 1.9 0-102.4-36 0 6.5 35.3 7.2 26.8 4 11.2 4.4 9.7 5.5 9.7 5.6 7zM655.7 587.4l6.5 1.9 5.6-0.6 5.5-2.6 2.8-2.1 5.6-5.7 5.6-8.1 5.5-10.7 5.6-13.7 5.8-18.1-79.7 0 6.4 21.7 6.2 15.3 3.4 6.4 4.9 7.4 2.8 3.3 5.6 4.6z"/>
<path fill="#a9a7cf" d="M496.7 625.4l3.8 0.7 5.5-0.5 5.6-2.3 2.8-1.9 4.4-4.1 4-4.7 5.5-8.9 5.6-11.9 6.3-17.9 5.7-21.8 4.9-24.4-61.5 0 0 94.1 5.6 3.1zM818.9 617.3l2.2 2.2 0-91.8-33.4 0 6.6 32.6 7.1 24.4 4.2 10.9 4.4 8.9 4.6 7.4 3.7 4.8zM654.7 576.6l4.7 1.9 2.8 0.4 5.6-0.7 5.5-2.8 5.6-4.9 5.6-7.2 5.6-9.7 5.5-12.6 4.8-13.3-72.8 0 6.7 19.7 5.6 12 5.5 8.7 2.8 3.3 5.6 4.7z"/>
<path fill="#9e9ac8" d="M493.7 614.6l6.8 1.9 5.5-0.5 2.8-1 5.6-3.4 2.8-2.5 4.6-5.4 3.7-5.5 6.8-13.5 6-16.3 5.4-19 4.7-21.7-59.1 0 0 84.2 2.8 1.9zM820.8 609.2l0.3-81.5-30.9 0 5.8 26.8 6.7 22.1 7.3 17.1 4.3 7.3 4 5.5zM658.6 568.4l3.6 0.7 5.6-0.9 5.5-2.9 5.6-5.2 4-5.3 4.4-6.9 5.5-11.4 3.5-8.8-65.4 0 6.2 16 5.6 10.4 5.5 7.4 2.8 2.7 5.6 3.6z"/>
<path fill="#9390c3" d="M496.5 606.4l4 0.9 2.7 0 5.6-1.5 2.8-1.5 5.6-4.6 7.3-9.6 6.6-12.7 5.6-14.5 4.8-16.2 4.5-19-56.7 0 0 74.7 5.6 3.5zM819.7 598.3l1.4 1.5 0-72.1-28.4 0 5.8 24.4 5.9 18.2 6.3 14.4 7.6 12zM655 557.6l4.4 1.7 5.6 0.1 2.8-0.7 5.5-3.2 3.7-3.4 4.7-5.6 5.6-9 4.7-9.8-57.5 0 3.5 8.1 4.7 8.8 5.5 7.5 5.6 4.8z"/>
<path fill="#8986be" d="M499.5 598.3l3.7 0.2 2.8-0.5 5.6-2.6 5.6-4.6 5.6-7.1 5.5-9.8 5.6-13.1 5.6-17.1 4.1-16-54.3 0 0 65.6 3.1 2.3 5.3 2.4zM820.7 590.1l0.4 0.5 0-62.9-25.8 0 4.8 19 5.4 16.3 7.2 15.8 5.7 8.6zM656.6 549.4l2.8 0.9 5.6 0 5.5-2.2 2.8-2 7.1-7.5 6.8-10.9-48.7 0 4.2 7.8 5.5 7.6 2.8 2.8 5.6 3.5z"/>
<path fill="#7f7bb9" d="M493.3 587.4l4.4 2 2.8 0.6 5.5-0.5 5.6-2.6 2.8-2.1 5.6-6 5.5-8.5 5.6-11.7 5.6-15.3 4.5-15.6-51.9 0 0 56.8 2.8 2.2zM819.1 579.3l2 2.5 0-54.1-23.2 0 3.7 13.6 5.6 16.1 5.5 12.1 5.6 8.9zM658.3 541.3l3.9 0.5 2.8-0.3 5.5-2.4 5.6-4.6 5.4-6.8-38.3 0 5 6.8 2.8 2.7 5.6 3.6z"/>
<path fill="#776cb1" d="M493.6 579.3l4.1 1.9 2.8 0.6 5.5-0.5 5.6-2.6 5.6-4.9 5.6-7.4 5.5-10.2 5.6-13.7 4.7-14.8-49.3 0 0 48.4 2.8 2.3zM819.5 571.1l1.6 2.1 0-45.5-20.5 0 3.8 12.6 4.5 11.8 3.8 8.4 5.6 9.2zM659.1 533.1l3.1 0.3 5.6-1.4 6.2-4.3-24.2 0 4 3.3 2.8 1.4z"/>
<path fill="#705ca9" d="M501.8 573.9l4.2-0.5 5.6-2.6 5.6-5 2.8-3.4 4.7-7.6 3.6-7 7.7-20.1-46.7 0 0 40.2 5.6 4.1 5.6 1.8zM819.6 563l1.5 1.9 0-37.2-17.7 0 6.6 18.1 4.4 9 3.9 6.5z"/>
<path fill="#684da1" d="M498.7 565.7l4.5 0.5 5.6-1.5 5.6-3.8 2.8-2.8 4.4-6 3.9-6.6 7.7-17.8-43.9 0 0 32.3 2.8 2.4 5.6 3.1zM819.6 554.8l1.5 2.1 0-29.2-14.8 0 6.4 15.7 5.6 9.8z"/>
<path fill="#613f9a" d="M496.8 557.6l3.7 1.1 5.5-0.4 5.6-2.7 2.8-2.2 5.6-6.4 2.8-4.2 7.3-15.1-40.8 0 0 24.6 5.6 4.4zM819.4 546.7l1.7 2.4 0-21.4-11.6 0 3.2 7.5 5.6 10.1z"/>
<path fill="#582f93" d="M495.1 549.4l5.4 2 2.7 0.1 5.6-1.5 2.8-1.6 5.6-5.2 2.8-3.5 6.8-12-37.5 0 0 17.1 5.6 4.5zM820.9 541.3l0.2-13.6-8.2 0 6.1 10.9z"/>
<path fill="#51218c" d="M499.4 544l3.8 0.5 2.8-0.5 5.6-2.7 5.6-5.2 5.8-8.4-33.7 0 0 9.8 2.8 2.7 5.6 3.3zM820.4 533.1l0.7 1.1 0-6.5-4.2 0 1.6 2.7z"/>
<path fill="#4a1486" d="M496.2 535.8l4.3 1.6 5.5-0.3 5.6-2.6 2.8-2.3 3.9-4.5-29 0 0 2.7 5.6 4.8z"/>
<path fill="#420680" d="M499.8 530.4l3.4 0.4 2.8-0.4 5.7-2.7-17.6 0 3.6 2.1z"/>
<path fill="none" stroke="#000" stroke-width="1.6" d="M489.3 734.6l8.4 1.3 8.3-0.3 8.4-1.9 5.6-2.3 8.3-5.3 5.6-5.1 5.6-6.8 4.5-7.3 4-8.2 4.2-10.8 3.3-10.9 2.7-10.8 2.7-13.6 2.7-16.3 2.5-19 2.4-23.1M571.4 558.9l2-31.2M601.4 527.7l1.2 12.3M606.8 575.1l3.1 20.5 2.6 13.6 3 13.5 2.9 10.9 3.4 10.8 3.1 8.2 3.8 8.4 4.4 7.9 4 5.7 5.6 6.2 5.5 4.6 5.6 3 5.6 1.8 5.6 0.7 5.5-0.5 5.6-1.7 5.6-2.8 5.6-4.3 4.4-4.6 3.9-4.9 3.9-5.9 4.3-8.2 6.6-16.3 6.4-21.7 5.2-24.4 5.3-32.6 4.3-35.3M763.5 527.7l0.7 14.9M766.4 577.9l3.2 36.7 3.8 29.8 4.6 24.5 2.7 10.8 3.4 10.9 3.2 8.1 3.1 6.7 4.1 6.9 4.3 5.9 5.6 5.8 5.6 4.4 5.5 3.2 5.6 2.2M489.3 696.6l2.8 1 5.6 1.1 2.8 0.2 5.5-0.5 5.6-1.6 2.8-1.3 5.6-3.4 2.8-2.3 4.6-4.6 3.7-4.7 5.6-8.9 5.6-12 5.2-14.8M557.5 600.3l4.9-34.6 3.9-38M609.1 527.7l5.5 35.3 3.3 16.3 3.3 13.6 4.1 13.5 3.4 9.5 4.3 9.5 4.1 7.6 5.6 7.9 5.5 5.7 5.6 3.8 5.6 2.2 5.6 0.7 5.5-0.9 5.6-2.3 5.6-3.9M704.6 607.3l5-15.6 4.5-17.8 4.5-21.8 4.2-24.4M771.1 527.7l3 32.6 2.8 24.4 3.8 24.5 3.7 18.7M799.1 670.9l5.3 8.7 5.6 7 5.5 5.1 5.6 3.6M489.3 667.6l5.6 2.3 5.6 0.8 2.8-0.1M535.1 640.6l4.4-10.2 3.6-10.4 3.2-10.8 3.4-13.6 5.7-29.9 5.3-38M615.5 527.7l3 16.3 3.7 16.3 3.7 13.6 4.7 13.5 3.7 8.9 5.6 10.4 5.5 7.7 5.6 5.3 5.6 3.3 5.6 1.4 5.6-0.2 2.7-0.8 5.6-2.9 5.6-4.8 5.6-6.8 5.5-9.2 3.6-7.2M710.5 549.2l4.7-21.5M777.1 527.7l2.2 18.1M786.5 590.9l3.6 15.5 3.1 11.6 4.4 12.9 4 9.4 3.5 6.9 4.9 7.6 5.5 6.5 5.6 4.6M489.3 643.3l2.8 1.5 5.6 1.9 2.8 0.3 3.6-0.2M534.2 614.9l6.3-16.6 5.3-19 5.3-24.5 4.5-27.1M621.5 527.7l3.3 13.6M641.3 583.7l4.1 6 5.6 5.6 2.8 2 5.6 2.5 2.8 0.5 5.6-0.5 5.5-2.4 2.8-2 5.4-5.3 3-3.7 4.5-7.1 3.8-7.3 4-9 4.4-12.1 6.7-23.2M782.5 527.7l2.8 18.3M794.8 590.6l6.1 18.6 6.3 13.9 5.5 9.1 3.3 4.1 5.1 4.9M489.3 621.8l5.6 3.1 5.5 1.2M531.8 596.6l4.9-12.1 5.6-17.9 4.2-17.2 4.3-21.7M627.6 527.7l3.7 11.7M655.5 577l3.9 1.5 2.8 0.4 2.8-0.1 2.8-0.6 5.5-2.8 5.6-4.9 5.6-7.2 5.6-9.7 5.5-12.6 4.8-13.3M787.7 527.7l3.2 17.3M802.9 588.9l4.3 10.1 3.9 7.4 4.4 6.9 5.6 6.2M489.3 602.4l5.6 3.5 2.8 0.9 5.5 0.5 5.6-1.5 2.8-1.5 5.6-4.6 5.6-6.8 3.3-5.5 4.2-8.1 5.4-13.6 5-15.9M634.5 527.7l5.2 11.7M674.7 554.4l4.2-4.3 5.6-7.8 3.6-6.5 3.9-8.1M792.7 527.7l3 13.4M810.4 584.1l5.1 8.8 5.6 6.9M522.8 574.8l5.5-9.9 4.3-10.1 4.1-11.5 4.5-15.6M643.2 527.7l5 6.8 2.8 2.7 2.8 2.1 2.8 1.5 2.8 0.8 2.8 0.2 2.8-0.3 2.8-0.9 3.5-2 4.8-4.1 5.4-6.8M797.9 527.7l2.1 8.1M817.7 577.5l3.4 4.3M489.3 567.9l4.3 3.3M527.3 550l3.8-8.7 4.9-13.6M803.4 527.7l3.8 11.2 5.5 12.9 3.2 5.8 5.2 7.3M489.3 552.3l5.6 4.4 2.8 1.3 2.8 0.7 2.7 0.1 2.8-0.5 2.8-1 2.8-1.7 5.6-5.1 3-3.8 5.3-8.9 4.6-10.1M809.5 527.7l6 13 5.6 8.4M489.3 537.5l2.8 2.7 2.8 2 2.8 1.3 2.8 0.8 2.7 0.2 2.8-0.5 2.8-1 2.8-1.7 2.8-2.2 5.6-6.6 3-4.8M816.9 527.7l4.2 6.5M494.1 527.7l3.6 2.1 2.8 0.8 2.7 0.2 2.8-0.4 2.8-1 2.9-1.7"/>
<text x="570.0" y="576.6" transform="rotate(-85.3 570.0 576.6)" fill="#000" font-size="16" class="cl">7.5</text>
<text x="604.5" y="557.6" transform="rotate(-276.7 604.5 557.6)" fill="#000" font-size="16" class="cl">7.5</text>
<text x="765.2" y="560.3" transform="rotate(-273.5 765.2 560.3)" fill="#000" font-size="16" class="cl">7.5</text>
<text x="553.2" y="622.7" transform="rotate(-77.5 553.2 622.7)" fill="#000" font-size="16" class="cl">10.0</text>
<text x="695.4" y="628.2" transform="rotate(-60.2 695.4 628.2)" fill="#000" font-size="16" class="cl">10.0</text>
<text x="790.4" y="649.9" transform="rotate(-288.6 790.4 649.9)" fill="#000" font-size="16" class="cl">10.0</text>
<text x="522.8" y="659.7" transform="rotate(-44.8 522.8 659.7)" fill="#000" font-size="16" class="cl">12.5</text>
<text x="704.4" y="571.1" transform="rotate(-72.1 704.4 571.1)" fill="#000" font-size="16" class="cl">12.5</text>
<text x="782.5" y="568.4" transform="rotate(-279.1 782.5 568.4)" fill="#000" font-size="16" class="cl">12.5</text>
<text x="522.8" y="634.5" transform="rotate(-48.4 522.8 634.5)" fill="#000" font-size="16" class="cl">15.0</text>
<text x="631.5" y="563.1" transform="rotate(-290.9 631.5 563.1)" fill="#000" font-size="16" class="cl">15.0</text>
<text x="789.4" y="568.4" transform="rotate(-281.9 789.4 568.4)" fill="#000" font-size="16" class="cl">15.0</text>
<text x="520.0" y="616.1" transform="rotate(-45.4 520.0 616.1)" fill="#000" font-size="16" class="cl">17.5</text>
<text x="640.4" y="560.3" transform="rotate(-301.2 640.4 560.3)" fill="#000" font-size="16" class="cl">17.5</text>
<text x="796.0" y="567.2" transform="rotate(-285.2 796.0 567.2)" fill="#000" font-size="16" class="cl">17.5</text>
<text x="546.0" y="527.7" transform="rotate(-76.7 546.0 527.7)" fill="#000" font-size="16" class="cl">20.0</text>
<text x="653.8" y="556.9" transform="rotate(-334.5 653.8 556.9)" fill="#000" font-size="16" class="cl">20.0</text>
<text x="801.8" y="563.0" transform="rotate(-288.6 801.8 563.0)" fill="#000" font-size="16" class="cl">20.0</text>
<text x="506.0" y="589.5" transform="rotate(-11.1 506.0 589.5)" fill="#000" font-size="16" class="cl">22.5</text>
<text x="807.2" y="557.4" transform="rotate(-292.5 807.2 557.4)" fill="#000" font-size="16" class="cl">22.5</text>
<text x="514.4" y="568.6" transform="rotate(-35.1 514.4 568.6)" fill="#000" font-size="16" class="cl">25.0</text>
<path fill="none" stroke="#ffa500" stroke-width="2.7" d="M489.3 787.7l16.7 0.1 16.8-1.1 11.1-1.7 11.2-3 8.3-4.1 5.6-4.4 3.6-4.2 4.7-8.1 2.9-8.2 2.7-10.8 2.2-13.6 1.7-16.3 2.9-46.1 2.8-74.7M583.7 556.2l0.4-12.8 1.3-15.7M589.4 527.7l4.5 57 3.1 32.6 2.3 19 2.9 19 5 24.4 3 10.9 2.7 8.1 3.4 8.2 4.2 8.1 3.4 5.5 4.8 6 5.6 5.4 5.6 4 8.3 4.1 8.4 2.4 5.6 0.7 5.6 0.1 8.3-0.9 8.4-2.4 8.3-4.2 8.4-6.6 5.3-5.9 5.5-8.2 4.2-8.1 5.3-13.6 3.3-10.8 3.3-13.6 2.6-13.6 2.7-16.3 3-23.1M740 580.7l4.4-53M751.7 527.7l0.3 14.9M752.6 578l2 82.7 1.7 38 1.5 19 1.5 13.6 2.3 13.6 2.9 10.9 3.4 8.1 3.4 5.4 4.9 5.5 5.9 4.1 8.3 3.6 8.4 2.3 11.2 1.8 11.1 0.9"/>
<text x="583.1" y="573.9" transform="rotate(-88.0 583.1 573.9)" fill="#ffa500" font-size="16" class="cl">5.5</text>
<text x="738.3" y="598.3" transform="rotate(-84.1 738.3 598.3)" fill="#ffa500" font-size="16" class="cl">5.5</text>
<text x="752.3" y="560.3" transform="rotate(-271.0 752.3 560.3)" fill="#ffa500" font-size="16" class="cl">5.5</text>
<path fill="none" stroke="#ff0000" stroke-width="2.7" d="M738.6 670.5l1.6-11.5 1.9-6.4 0.9-6.5 1.2 9.2 0.6 13.6 0 21.7-0.6 21.7-1.2 20.4-2.2 17.6-2.5 10.9-3.6 9.3-2.8 4.3-2.3 2.7-3.1 2.7-3 2-5.6 2.6-8.3 2.6-11.2 1.9-16.7 1.4-16.7 0.3-16.8-0.5-13.9-1.3-8.4-1.3-8.3-2.2-6.6-2.8-4.2-2.7-3.2-2.8-2.8-3.3-2.8-4.8-2.7-7-3.2-14.7-2.4-24.6-0.9-37.8 0.9-33.5 0.4 0.9 2.4 2.2 1.1 8.6 1.7 7.7 1.7 11.4 2.8 13.5 2.7 10.9 3.5 10.8 4.4 10.9 2.9 5.4 3.4 5.5 3.7 4.5 3.4 3.6 7.7 6 5.6 3.1 5.6 2.3 5.5 1.7 8.4 1.6 8.4 0.6 8.3-0.3 5.6-0.7 8.4-1.9 8.3-3.1 5.6-3.1 5.6-4 5.1-4.9 4.4-5.4 3.5-5.5 5.3-10.8 3.1-8.2 3-9.9"/>
<text x="735.2" y="687.9" transform="rotate(-78.5 735.2 687.9)" fill="#ff0000" font-size="16" class="cl">5.2</text>
<path stroke="#ff0000" stroke-width="4.5" d="M648.0 767.2L661.0 780.2M648.0 780.2L661.0 767.2"/>
</g>
<rect x="489.3" y="527.7" width="334.6" height="271.5" fill="none" stroke="#000" stroke-width="1.8"/>
<text x="489.3" y="833.0" class="tl" text-anchor="middle">0</text>
<text x="573.0" y="833.0" class="tl" text-anchor="middle">90</text>
<text x="656.6" y="833.0" class="tl" text-anchor="middle">180</text>
<text x="740.2" y="833.0" class="tl" text-anchor="middle">270</text>
<text x="823.9" y="833.0" class="tl" text-anchor="middle">360</text>
<text x="473.2" y="809.0" class="tl" text-anchor="end">0</text>
<text x="473.2" y="754.7" class="tl" text-anchor="end">2</text>
<text x="473.2" y="700.4" class="tl" text-anchor="end">4</text>
<text x="473.2" y="646.1" class="tl" text-anchor="end">6</text>
<text x="473.2" y="591.8" class="tl" text-anchor="end">8</text>
<text x="473.2" y="537.5" class="tl" text-anchor="end">10</text>
<path stroke="#000" stroke-width="1.8" d="M489.3 799.2v7.5M573.0 799.2v7.5M656.6 799.2v7.5M740.2 799.2v7.5M823.9 799.2v7.5M489.3 799.2h-7.5M489.3 744.9h-7.5M489.3 690.6h-7.5M489.3 636.3h-7.5M489.3 582.0h-7.5M489.3 527.7h-7.5"/>
<text x="656.6" y="453.2" class="tt" text-anchor="middle">2010-2012</text>
<text x="655.6" y="483.4" class="tt" text-anchor="middle">(L<tspan class="sub" dy="4.5">s</tspan><tspan dy="-4.5">=4.8-29.0</tspan><tspan class="sup" dx="6" dy="-10">∘</tspan><tspan dx="3.5" dy="10">)</tspan></text>
<text x="656.6" y="514.2" class="tt" text-anchor="middle">N<tspan class="sub" dy="4.5">obs</tspan><tspan dy="-4.5">=3</tspan></text>
<clipPath id="c8"><rect x="892.4" y="527.7" width="334.6" height="271.5"/></clipPath>
<g clip-path="url(#c8)">
<rect x="892.4" y="527.7" width="331.8" height="268.8" fill="#f9f8fb"/>
<path fill="#f3f2f8" d="M892.4 796.5l114.4 0-2.9-1.1-2.1-1.6 0-2.7 3.6-5.5 6-5.4 13.1-8.2 24-11.5 14-7.8 13.9-9.9 22.3-18.7 5.6-3 2.8-0.6 2.8 0 2.8 0.9 2.8 1.7 2.8 2.7 5.5 7.9 5.8 11.2 14 32.6 3.9 10.8 0.4 2.8-0.6 2.7-1.2 0.9-4.2 1.8 82.3 0 0-268.8-331.8 0 0 266.1z"/>
<path fill="#edebf4" d="M892.4 744.9l0 0.4 5.6-0.3 8.3-1.3 8.4-2.2 8.4-3.1 13.9-7.4 27.9-18.6 5.6-2.6 5.5-1.7 5.6-0.9 5.6 0 25.1 3.2 11.2 0.4 8.3-0.8 5.6-1.1 11.1-4.2 11.2-6.9 8.4-7.5 11.1-13.3 16.7-24.9 5.6-7.3 5.6-5 2.8-1.3 2.8-0.4 2.8 0.6 2.8 1.6 2.7 2.4 5.6 7.3 5.6 9.7 13 25.5 7.5 13.5 9.1 13.6 9.4 11 11.2 9.4 5.6 3.4 8.3 4 14 4 13.9 1.3 0-217.7-331.8 0 0 214.5z"/>
<path fill="#e4e3f0" d="M892.4 715l0 1.1 11.2-2.1 8.3-3.1 8.4-4.3 13.9-10 25.1-21.9 5.6-3.6 5.6-2.2 5.5-0.9 8.4 1.1 25.1 9.5 8.4 2.1 5.6 0.6 8.3-0.2 5.6-1.2 5.6-1.9 5.5-2.9 5.6-3.8 5.6-4.9 5.6-6.1 5.6-7.4 10-16.6 15-28.8 5.6-8.6 5.6-5.4 2.8-1.2 2.8-0.2 2.8 0.9 2.8 1.9 2.7 2.8 5.6 8.1 5.6 10.5 15.5 33.6 8.3 16.3 9.7 15.7 8.3 10.7 5.6 5.8 5.6 4.8 11.1 7.1 5.6 2.4 8.4 2.4 5.5 0.9 8.4 0.3 0-188.6-331.8 0 0 184.6z"/>
<path fill="#dadaeb" d="M892.4 693.3l5.6-1 8.3-2.8 5.6-2.7 8.4-5.3 11.7-9.9 24.5-24.8 8.4-5.9 5.6-2 5.5-0.3 5.6 1.3 5.6 2.5 19.5 11.2 8.4 3.5 5.6 1.4 8.3 0.6 5.6-0.8 5.6-1.7 5.6-2.8 5.5-4 5.6-5.2 8.6-11 5.4-8.6 5.4-10.4 16.9-37.7 5.5-10.5 5.6-7 2.8-1.9 2.8-0.7 2.8 0.3 2.8 1.4 2.8 2.3 5.5 7.5 8.4 16.1 15.3 35.6 9.8 20.6 10 17.4 9.5 12.8 5.6 5.9 5.6 4.9 5.5 4 5.6 3.1 11.2 3.9 5.5 0.9 8.4 0.1 0-165.9-331.8 0 0 162.9z"/>
<path fill="#cdcde4" d="M1214.8 674.3l9.4 0.1 0-146.7-112.7 0 4 2.4 2.8 2.9 2.7 3.8 5.6 9.7 5.6 12 15.2 37.1 8.3 19 7.2 14.1 8.3 13.8 8.4 10.9 5.6 5.9 5.6 4.7 5.5 3.8 5.6 3 5.6 2 5.6 1.3zM892.4 671.6l0 2.4 8.4-2.2 8.3-3.8 8.4-5.4 5.6-4.6 8.3-8 25.1-27.4 8.4-6.1 5.6-1.9 5.5 0.2 5.6 1.9 5.6 3.2 19.5 13.9 8.4 4.2 5.6 1.7 8.3 0.8 5.6-0.9 5.6-2 5.6-3.3 5.5-4.6 5.6-6.2 8.4-12.5 10.1-20.9 15-38.2 5.5-12.3 5.6-8.5 2.8-2.5 2-0.9-213.9 0 0 141.2z"/>
<path fill="#bfc0de" d="M892.4 655.3l0 1.6 5.6-1.4 5.6-2.3 8.3-4.7 5.6-4.2 6-5.3 7.9-8.1 19.6-23.1 5.5-5.9 5.6-4.6 5.6-2.7 5.6-0.6 2.7 0.5 5.6 2.4 5.6 3.9 19.5 15.9 5.6 3.4 5.6 2.4 8.3 1.7 5.6-0.4 5.6-1.7 5.6-3 5.5-4.6 5.6-6.2 5.6-8.1 5.5-10.1 9.3-21.7 14.1-40.7-196.2 0 0 124.9zM1205.6 655.3l4.7 1.4 5.5 0.9 8.4-0.2 0-129.7-95.9 0 25.3 62.4 7.6 16.3 7.2 13.3 8.4 12.4 8.4 9.7 8.3 7.1 5.6 3.5 5.6 2.6z"/>
<path fill="#b2b2d5" d="M1212.1 641.7l6.5 0.6 5.6-0.4 0-114.2-88 0 13.5 35.3 7.6 18 8.4 17.2 8.1 13.7 8.6 11.2 8.4 8.2 8.3 5.8 5.6 2.6 5.6 1.7zM892.4 639l0 2.4 8.4-2.7 8.3-4.5 8.4-6.2 13.3-13.4 20.2-24.7 5.5-6.1 5.6-4.6 5.6-2.8 5.6-0.4 2.7 0.7 5.6 2.8 5.6 4.4 19.5 17.6 5.6 3.7 5.6 2.6 5.6 1.5 5.5 0.2 5.6-1.2 5.6-2.7 5.6-4.3 5.5-6.1 5.6-8.2 4.3-7.7 9.2-21.7 9.7-29.9-187.7 0 0 108.6z"/>
<path fill="#a5a2cd" d="M892.4 625.4l0 1.7 5.6-1.8 5.6-2.5 5.5-3.4 8.4-6.4 11.7-12 21.8-27.2 5.5-6.1 5.6-4.8 5.6-2.6 5.6-0.3 2.7 0.8 5.6 3.2 5.6 4.7 16.7 16.7 5.6 4.4 5.6 3.4 5.6 2.2 5.5 0.8 5.6-0.7 5.6-2.2 5.6-3.9 5.5-5.9 8.4-12.9 8.3-18.5 8.1-24.4-180.9 0 0 95zM1204.3 625.4l8.8 2.4 5.5 0.3 5.6-0.5 0-99.9-81.8 0 15 38 6.3 13.6 7.5 13.8 7.2 10.6 6.8 8.1 8.3 7.5 8.4 5.1z"/>
<path fill="#9793c5" d="M1213.2 614.6l5.4 0.2 5.6-0.6 0-86.5-76.3 0 8.5 21.7 7.4 16.3 7.4 13.9 8.4 12.4 8.4 9.5 8.3 6.7 8.4 4.3 8.4 2.1zM892.4 611.9l0 1.7 8.4-3 8.3-4.9 8.4-6.6 5.6-5.4 8-9 19.9-25.4 5.5-6.3 5.6-4.8 5.6-2.6 5.6-0.1 2.7 0.9 5.6 3.4 5.6 5.2 16.7 17.6 5.6 4.8 5.6 3.5 5.6 2.2 5.5 0.8 5.6-0.9 2.8-1 4.5-2.7 3.9-3.2 4.3-5 4-5.8 4.4-7.7 4-8.8 7.6-21.1-174.9 0 0 81.5z"/>
<path fill="#8a86bf" d="M1207.4 601l8.4 1.3 8.4-0.7 0-73.9-71.3 0 6.8 16.3 6 12.8 5.5 10.3 5.6 8.8 5.6 7.3 8.4 8.6 5.5 4.1 8.4 4.3zM892.4 598.3l0 2.6 8.4-3.1 8.3-5 8.4-6.7 5.6-5.4 8.3-9.5 22.3-28.6 5.6-5.7 5.6-3.7 5.6-1.4 2.8 0.4 5.5 2.5 5.6 4.7 16.7 18.7 8.4 7.7 8.4 5 5.6 1.5 2.7 0.1 5.6-1.1 5.6-2.9 3.3-2.7 5.1-5.5 3.6-5.4 4.7-8.6 7.5-18.5-169.2 0 0 67.9z"/>
<path fill="#7d78b7" d="M1211.8 590.1l6.8 0.3 5.6-0.8 0-61.9-66.4 0 6 13.6 7.1 13.5 5.9 9.5 5.6 7.4 5.6 6 8.3 6.7 5.6 3 8.4 2.5zM892.4 587.4l0 1.5 5.6-2 5.6-2.8 5.5-3.5 8.4-6.7 5.6-5.5 8.3-9.4 19.6-25.5 5-5.8-63.6 0 0 57zM1018.3 560.3l5.2 1.2 5.5-0.3 5.6-2.2 2.8-1.9 5.6-5.5 3.5-4.9 4.8-8.3 4.8-10.7-71.5 0 19.3 22.3 8.4 7.1 5.6 3z"/>
<path fill="#7465ad" d="M892.4 576.6l0 0.8 2.8-1 8.4-3.9 8.3-5.6 5.6-4.6 5.6-5.4 8.3-9.4 15.2-19.8-54.2 0 0 46.2zM1202.5 576.6l5 1.6 5.6 0.8 5.5 0 5.6-0.9 0-50.4-61.5 0 9.8 19 9.9 14.2 8.4 8.5 5.5 4 5.6 2.9zM1016.5 549.4l4.2 1.6 5.5 0.4 5.6-1.5 2.8-1.5 5.1-4.4 3.3-3.8 7.4-12.5-56.6 0 7.3 9 5.6 5.8 8.4 6.3z"/>
<path fill="#6950a3" d="M892.4 565.7l0 0.6 2.8-1 8.4-4 11.1-7.7 11.2-10.6 12.5-15.3-46 0 0 35.3zM1201.7 565.7l5.8 1.8 5.6 0.7 5.5-0.2 5.6-0.9 0-39.4-56.5 0 6.3 11.2 8.4 11.7 8.4 8.4 8.3 5.5zM1020.1 541.3l6.1 0.4 5.6-1.7 5.6-4.1 6.6-8.2-42.2 0 7.7 7.7 5.6 3.9 2.8 1.3z"/>
<path fill="#603e9a" d="M1209.8 557.6l6 0.1 8.4-1.3 0-28.7-51.1 0 9.3 13.2 8.4 8.3 8.3 5.3 8.4 2.7zM892.4 554.8l0 0.8 8.4-3.5 11.1-6.9 8.4-7 9.9-10.5-37.8 0 0 24.4zM1015.4 530.4l5.3 2 5.5 0.1 5.6-2 3.8-2.8-24.3 0 3.8 2.6z"/>
<path fill="#562b91" d="M1204.4 546.7l8.7 1 5.5-0.4 5.6-1.2 0-18.4-44.9 0 5.9 7 5.6 5.1 5.5 3.7 5.6 2.5zM892.4 544l0 1.2 11.2-5 8.3-5.3 8.8-7.2-28.3 0 0 13.6z"/>
<path fill="#4d1a89" d="M1199.8 535.8l4.9 1.5 5.6 0.7 5.5-0.2 8.4-1.8 0-8.3-37 0 6.3 5 5.6 2.9zM892.4 533.1l0 2 8.4-3.5 7-3.9-15.4 0 0 2.7z"/>
<path fill="#440981" d="M1202.5 527.7l7.8 1 8.5-1-14.1 0z"/>
<path fill="none" stroke="#000" stroke-width="1.6" d="M892.4 745.3l11.2-1.1 11.1-2.7 11.2-4.4 12.6-7.1M963.6 713.1l4.1-2.1 5.6-2.2 8.3-1.6 8.4 0.2 22.3 3 11.2 0.4 8.3-0.8 5.6-1.1 5.6-1.8 5.5-2.4 5.6-3.1 5.6-3.8 8.4-7.5 5.5-6.2 5.6-7.1 16.7-24.9 5.6-7.3 2.8-2.9 2.8-2.1 2.8-1.3 2.8-0.4 2.8 0.6 2.8 1.6 2.7 2.4 5.6 7.3 5.6 9.7 13 25.5 7.5 13.5 9.1 13.6 4.3 5.4 5.1 5.6 5.6 5.1 5.6 4.3 5.6 3.4 8.3 4 8.4 2.8 5.6 1.2 8.3 1.1 5.6 0.2M892.4 693.3l5.6-1 8.3-2.8 5.6-2.7 8.4-5.3 5.6-4.4 6.1-5.5 24.5-24.8 5.6-4.2 2.8-1.7 5.6-2 5.5-0.3 5.6 1.3 5.6 2.5 19.5 11.2 8.4 3.5 5.6 1.4 8.3 0.6 5.6-0.8 5.6-1.7 5.6-2.8 5.5-4 5.6-5.2 5.6-6.7 4.8-7 4.8-8.2 5.5-10.8 12.8-28.9 5.5-11.7 5.6-8.9 2.8-3 2.8-1.9 2.8-0.7 2.8 0.3 2.8 1.4 2.8 2.3 5.5 7.5 7.9 15.1M1143.6 611l10.2 22.6 8.5 16.3 8.9 13.8 8.8 10.6 5.2 5 5.6 4.4 5.5 3.5 5.6 2.8 5.6 1.9 5.6 1.3 5.5 0.5 5.6-0.1M892.4 656.9l8.4-2.4 5.5-2.7 5.6-3.3 5.6-4.2 6-5.3 7.9-8.1 19.6-23.1 5.5-5.9 5.6-4.6 5.6-2.7 2.8-0.6 2.8 0 2.7 0.5 5.6 2.4 5.6 3.9 13.9 11.7 5.6 4.2 5.6 3.4 5.6 2.4 5.6 1.4 5.5 0.2 5.6-1 5.6-2.3 5.6-3.8 5.3-5.1 4.4-5.5 4.2-6.2 4.2-7.3 4.2-8.7 4.3-10.3 4.7-12.7M1086.9 532.6l1.7-4.9M1128.3 527.7l2.2 5M1141.8 560.8l10.7 26.6 8.7 19 9.1 16.3 3.7 5.6 5.6 7.3 5.6 6.2 5.6 5 5.5 4 5.6 3 5.6 2.1 5.6 1.3 5.5 0.5 5.6-0.3M892.4 627.1l8.4-2.9 8.3-4.8 8.4-6.4 11-11.1M947.5 578.1l9-10.4 5.6-4.8 2.8-1.6 2.8-1 2.8-0.5 2.8 0.2 2.7 0.8 2.8 1.3 5.6 4.1 18.8 18.5 3.5 3 5.6 4 5.6 2.8 5.6 1.5 5.5 0.1 5.6-1.5 5.6-3 5.6-4.9 5.5-6.9 3.8-5.9 4.6-8.8 4.4-10.3 4.9-13.5 4.3-13.6M1142.4 527.7l10.4 27.1 7 16.3M1174.2 597.8l5.4 7.5 5.6 6.5 5.6 5.3 8.3 5.9 5.6 2.6 5.6 1.7 5.5 0.8 8.4-0.5M892.4 600.9l8.4-3.1 8.3-5 8.4-6.7 10.9-11.3M947 550.9l9.5-11.3 5.6-4.8 2.8-1.6 2.8-1 2.8-0.4 2.8 0.4 2.7 1 5.6 3.7 5.6 5.4 16.7 18.6 8.4 6.9 5.6 3 2.8 0.9 5.5 0.7 2.8-0.3 5.6-2 2.8-1.7 3.3-2.7 5.1-5.5 3.6-5.4 4.7-8.6 3.4-7.6 4.1-10.9M1152.9 527.7l2.1 5.1M1167.5 560.3l6.5 11.4 5.6 8 5.6 6.7 8.3 7.6 5.6 3.6 8.4 3.4 8.3 1.3 8.4-0.7M892.4 577.4l4.3-1.6M921.3 558.6l10.1-11.1 15.2-19.8M993.8 527.7l2.8 3.5M1019.4 550.6l4.1 0.8 2.7 0 5.6-1.5 2.8-1.5 5.1-4.4 3.3-3.8 2.9-4.4 4.5-8.1M1162.7 527.7l5.7 11.8 5.6 9.7 5.6 8.1 5.8 7M1211.2 578.8l7.4 0.2 5.6-0.9M892.4 555.6l4.1-1.6M921.4 537.1l8.8-9.4M1173.1 527.7l2.8 4.4M1197 553.4l7.7 3.2 5.6 1 5.5 0.1 8.4-1.3M892.4 535.1l8.4-3.5 7-3.9M1187.2 527.7l1.6 1.4M1216.9 537.6l7.3-1.6"/>
<text x="951.0" y="721.5" transform="rotate(-34.8 951.0 721.5)" fill="#000" font-size="16" class="cl">24</text>
<text x="1137.8" y="597.1" transform="rotate(-293.2 1137.8 597.1)" fill="#000" font-size="16" class="cl">32</text>
<text x="1082.0" y="546.9" transform="rotate(-71.3 1082.0 546.9)" fill="#000" font-size="16" class="cl">40</text>
<text x="1136.3" y="546.7" transform="rotate(-291.6 1136.3 546.7)" fill="#000" font-size="16" class="cl">40</text>
<text x="938.2" y="590.1" transform="rotate(-51.7 938.2 590.1)" fill="#000" font-size="16" class="cl">48</text>
<text x="1166.5" y="584.7" transform="rotate(-298.3 1166.5 584.7)" fill="#000" font-size="16" class="cl">48</text>
<text x="937.9" y="563.0" transform="rotate(-52.4 937.9 563.0)" fill="#000" font-size="16" class="cl">56</text>
<text x="1160.9" y="546.7" transform="rotate(-294.4 1160.9 546.7)" fill="#000" font-size="16" class="cl">56</text>
<text x="909.9" y="568.4" transform="rotate(-35.3 909.9 568.4)" fill="#000" font-size="16" class="cl">64</text>
<text x="1006.7" y="542.5" transform="rotate(-318.0 1006.7 542.5)" fill="#000" font-size="16" class="cl">64</text>
<text x="1197.1" y="573.9" transform="rotate(-329.9 1197.1 573.9)" fill="#000" font-size="16" class="cl">64</text>
<text x="909.8" y="546.7" transform="rotate(-34.5 909.8 546.7)" fill="#000" font-size="16" class="cl">72</text>
<text x="1023.5" y="532.7" transform="rotate(-359.5 1023.5 532.7)" fill="#000" font-size="16" class="cl">72</text>
<text x="1185.2" y="544.0" transform="rotate(-314.0 1185.2 544.0)" fill="#000" font-size="16" class="cl">72</text>
<text x="1201.9" y="536.6" transform="rotate(-343.0 1201.9 536.6)" fill="#000" font-size="16" class="cl">80</text>
<path fill="none" stroke="#ffa500" stroke-width="2.7" d="M892.4 792.1l16.7 0.1 16.8-0.6 13.9-1.2 11.2-1.5 11.1-2.5 8.4-2.7 5.5-2.3 12.8-6.1M1031 758.9l17.5-6.8 5.6-2.6 8.4-4.8 5.6-3.6 8.3-6.5 22.3-20.1 5.6-3.5 2.8-1 2.8-0.2 2.8 0.5 2.8 1.3 2.8 2.3 2.7 3 5.6 8.2 14 26 6 10.1 3.8 5.4 4.1 5 3.2 3.2 5.2 4.2 5.5 3.3 5.6 2.5 11.2 3.3 8.3 1.6 8.4 1 22.3 1.3"/>
<text x="1009.5" y="766.2" transform="rotate(-21.0 1009.5 766.2)" fill="#ffa500" font-size="16" class="cl">20.3</text>
<path fill="none" stroke="#ff0000" stroke-width="2.7" d="M1073.6 780.2l-5.2-2.7-1.4-2.7 0.3-1.9M1100.2 742.3l4.1-1 2.8 0.3 1.2 0.6 1.6 0.8 2.8 2.8 2.7 4.5 1.8 5.5 0.8 5.4-0.4 5.4-0.9 2.7-1.5 2.7-2.5 2.8-4.1 2.7-4.3 1.7-5.6 1.4-5.5 0.8-8.4 0.2-5.6-0.4-5.6-1"/>
<text x="1081.9" y="755.8" transform="rotate(-42.5 1081.9 755.8)" fill="#ff0000" font-size="16" class="cl">19.6</text>
<path stroke="#ff0000" stroke-width="4.5" d="M1094.2 753.6L1107.2 766.6M1094.2 766.6L1107.2 753.6"/>
</g>
<rect x="892.4" y="527.7" width="334.6" height="271.5" fill="none" stroke="#000" stroke-width="1.8"/>
<text x="892.4" y="833.0" class="tl" text-anchor="middle">0</text>
<text x="976.1" y="833.0" class="tl" text-anchor="middle">90</text>
<text x="1059.7" y="833.0" class="tl" text-anchor="middle">180</text>
<text x="1143.4" y="833.0" class="tl" text-anchor="middle">270</text>
<text x="1227.0" y="833.0" class="tl" text-anchor="middle">360</text>
<text x="876.3" y="809.0" class="tl" text-anchor="end">0</text>
<text x="876.3" y="754.7" class="tl" text-anchor="end">2</text>
<text x="876.3" y="700.4" class="tl" text-anchor="end">4</text>
<text x="876.3" y="646.1" class="tl" text-anchor="end">6</text>
<text x="876.3" y="591.8" class="tl" text-anchor="end">8</text>
<text x="876.3" y="537.5" class="tl" text-anchor="end">10</text>
<path stroke="#000" stroke-width="1.8" d="M892.4 799.2v7.5M976.1 799.2v7.5M1059.7 799.2v7.5M1143.4 799.2v7.5M1227.0 799.2v7.5M892.4 799.2h-7.5M892.4 744.9h-7.5M892.4 690.6h-7.5M892.4 636.3h-7.5M892.4 582.0h-7.5M892.4 527.7h-7.5"/>
<text x="1059.7" y="453.2" class="tt" text-anchor="middle">2011-2013</text>
<text x="1058.7" y="483.4" class="tt" text-anchor="middle">(L<tspan class="sub" dy="4.5">s</tspan><tspan dy="-4.5">=17.0-40.7</tspan><tspan class="sup" dx="6" dy="-10">∘</tspan><tspan dx="3.5" dy="10">)</tspan></text>
<text x="1059.7" y="514.2" class="tt" text-anchor="middle">N<tspan class="sub" dy="4.5">obs</tspan><tspan dy="-4.5">=8</tspan></text>
<clipPath id="c9"><rect x="1295.5" y="527.7" width="334.6" height="271.5"/></clipPath>
<g clip-path="url(#c9)">
<rect x="1295.5" y="527.7" width="331.8" height="268.8" fill="#faf9fc"/>
<path fill="#f5f4f9" d="M1295.5 796.5l116.6 0-2.3-1-1.9-1.7-0.7-2.7 0.2-2.8 1.5-5.4 3.1-8.1 9.4-19 27.5-47.9 25.1-47.9 8.3-14.3 5.6-7.8 5.6-6 5.5-3.9 5.6-1.4 2.8 0.2 2.8 1.1 2.8 1.9 5.6 6.8 5.5 11.1 5.7 15.7 8.2 29.9 22.9 92.3 0.5 5.5-0.8 2.7-4.4 2.7 71.1 0 0-268.8-331.8 0 0 266.1z"/>
<path fill="#f1eff6" d="M1297.8 755.8l11.6 0.3 14-1.4 13.9-3.6 11.2-4.5 11.1-6 11.2-7.4 39-29.7 8.4-7.3 8.4-8.3 8.3-9.7 5.6-7.3 11.9-18.3 24.3-42.9 8.4-12.1 5.6-6.3 5.6-4.8 5.5-3.1 5.6-1.2 5.6 1.2 5.6 4 4.2 5.5 4.1 7.1 8.4 20.5 15.8 48.4 8 21.7 8.7 19 8.3 13.6 6.4 8.1 5.3 5.5 6.1 5 5.5 3.7 5.6 3 8.4 3.4 13.9 3.3 0-227.5-331.8 0 0 227.8z"/>
<path fill="#ebe9f3" d="M1295.5 725.9l0 1.2 2.8 0.1 5.6 0 8.3-0.9 8.4-2.1 11.1-4.4 14-8.1 30.7-21.6 30.6-17.5 11.2-7.9 8.4-7.6 5.5-6 11.2-14.7 10.1-16.4 20.6-36.7 5.5-8.6 5.6-7.3 6.8-7.1 7.1-5.4 5.6-2.6 5.6-0.8 5.6 1.4 5.6 4.2 4.3 5.9 4 7.3 8.4 20.8 15 45.2 7.9 21.7 8.5 19 9.3 16.3 9.5 12.2 5.6 5.5 5.5 4.5 5.6 3.7 8.4 4 5.5 1.8 8.4 1.7 0-199-331.8 0 0 195.5z"/>
<path fill="#e3e2ef" d="M1295.5 704.2l0 0.7 5.6-0.1 8.3-1.3 6.8-2 7.2-3.2 13.9-8.7 22.3-18.2 11.2-7.8 11.1-5.5 16.8-6.3 8.3-3.7 8.4-4.9 5.6-4.2 11.1-11 10.1-13.4 9.4-15.5 19.6-35.6 11.1-16.7 5.6-6.4 5.6-5.2 5.5-4 7.6-3.5-211.1 0 0 173.8zM1623.7 704.2l3.6 0.5 0-177-111.3 0 5.4 3.3 2.7 2.9 3.3 4.7 5.1 9.9 8.4 22 12.6 38.7 7.7 21.7 7.9 19 8.4 16.3 9.1 13.5 10.1 10.9 5.5 4.4 5.6 3.5 5.6 2.7 8.3 2.6z"/>
<path fill="#dcdcec" d="M1295.5 685.2l0 1.2 8.4-0.9 5.5-1.4 8.4-3.6 6-3.5 7.9-5.8 25.1-23 11.2-8 5.6-2.7 5.6-2 19.5-4.5 8.3-2.8 8.4-4.3 8.4-6.3 10.3-11.2 9.2-13 8.2-14.1 19.7-36.4 10.2-15.2-185.9 0 0 154.8zM1620.2 685.2l7.1 1.1 0-158.6-93.8 0 7.4 19.2 14.8 46 6.7 19 7.7 19 7 14.1 8.4 13.6 5.6 7.2 5.5 5.9 5.6 4.7 5.6 3.8 5.6 2.8 5.5 1.9z"/>
<path fill="#d2d2e7" d="M1295.5 668.9l0 1.4 5.6-0.6 5.6-1.5 8.3-3.7 5.6-3.5 11.1-9.1 25.1-25.7 5.6-4.4 5.6-3.3 5.6-2.1 5.6-1.2 16.7-1.5 8.3-1.6 8.4-3.2 8.4-5.4 5.6-4.9 5.2-5.7 8.7-11.9 9-15.3 20.1-38-174.1 0 0 138.5zM1618.1 668.9l9.2 1.5 0-142.7-86.1 0 21.2 65.2 7.4 19 7.7 16.3 9.9 16.2 9.2 11.1 8.4 7 5.6 3.4 5.6 2.4z"/>
<path fill="#c8c8e2" d="M1295.5 655.3l0 0.8 2.8-0.3 8.4-2.4 7-3.5 6.9-4.8 11.1-10.5 22.4-25.3 5.5-5 5.6-3.6 5.6-2.3 5.6-0.9 19.5 0.4 8.3-0.8 8.4-2.8 8.4-5.2 8.3-7.9 9.7-12.8 9.6-16.3 12.5-24.4-165.6 0 0 124.9zM1619.7 655.3l7.6 0.9 0-128.5-80.4 0 10.1 32.6 8.4 24.4 7.8 19 8.2 16.3 9.7 14.7 8.3 9.2 8.4 6.4 5.6 3 5.5 1.8z"/>
<path fill="#bebedd" d="M1295.5 641.7l0 1.5 8.4-2 8.3-4.2 5.6-4 5.6-5 7.5-8 23.2-28.2 5.5-5.1 5.6-3.4 5.6-1.8 5.6-0.4 19.5 2.7 8.3-0.2 8.4-2.4 8.4-5 8.3-8 8.1-10.6 8.1-13.6 8.5-16.3-158.5 0 0 111.3zM1616.1 641.7l5.6 1.4 5.6 0.3 0-115.7-75.6 0 7.6 24.4 7.5 21.8 7.5 18.4 7.1 14.1 6.9 11.4 8.3 10.5 8.4 7.5 8.4 4.9z"/>
<path fill="#b3b3d6" d="M1295.5 630.9l0 0.6 2.8-0.6 8.4-3.1 5.5-3.4 8.4-7 11.1-12.6 19.6-25.9 5.5-5.9 5.6-4.2 5.6-2.3 5.6-0.5 5.6 0.8 13.9 3.7 8.4 0.9 8.3-1.1 8.4-3.9 8.4-7 5.5-6.5 7.9-11.6 7.6-13.6-152.1 0 0 100.5zM1618.4 630.9l8.9 0.9 0-104.1-71.4 0 7.9 24.4 7 19 7.2 16.3 7.3 13.6 5.8 8.7 8.3 9.8 8.4 6.7 8.4 4z"/>
<path fill="#a9a7cf" d="M1295.5 620l0 0.6 2.8-0.6 8.4-3.5 5.5-3.7 5.6-4.8 11.2-12.6 22.3-31.1 5.5-6.1 5.6-4.2 5.6-1.9 5.6 0 5.6 1.3 13.9 5.1 5.6 1.3 8.3 0 5.6-1.5 8.4-4.8 5.6-5 8.3-10.4 6.5-10.4-145.9 0 0 89.6zM1617.6 620l4.1 0.9 5.6 0.1 0-93.3-67.5 0 6.3 19 6.2 16.3 6 13.6 7.2 13.6 7.2 10.8 6.7 7.8 8.4 6.8 8.4 4z"/>
<path fill="#9e9ac8" d="M1295.5 609.2l0 1.3 8.4-3 6.1-3.8 7.8-6.8 11.2-13.4 22.3-32.8 5.5-6.3 5.6-4 5.6-1.7 5.6 0.5 5.6 1.9 16.7 7.2 8.3 1.4 5.6-0.7 8.4-3.6 5.6-4.3 5.5-5.8 5.7-7.6-139.5 0 0 78.7zM1614.5 609.2l7.2 1.7 5.6 0 0-83.2-63.8 0 6.7 19 5.5 13.6 7 14.6 5.6 9.6 5.6 7.9 5.5 6.4 5.6 4.9 8.4 5z"/>
<path fill="#9390c3" d="M1295.5 601l5.6-1.8 5.6-3 5.5-4.3 5.6-5.4 11.2-14.2 22.3-34.3 5.5-6.4 5.5-3.9-66.8 0 0 70.6zM1618.1 601l3.6 0.6 5.6 0 0-73.9-60.2 0 6 16.3 5.9 13.6 6.5 12.6 5.6 8.9 5.5 7.3 5.6 5.8 5.6 4.3 8.4 4zM1397.1 538.6l7.1 1.3 5.6-0.4 2.8-0.8 8.4-4.6 6.7-6.4-52.6 0 20.8 10.5z"/>
<path fill="#8986be" d="M1621.5 592.9l5.8-0.2 0-65-56.8 0 6.5 16.3 5.7 12 5.6 9.9 5.6 8.2 5.5 6.6 5.6 5.1 5.6 3.7 8.3 3zM1295.5 590.1l0 2.1 8.4-3.5 8.3-6.3 5.6-5.7 11.2-14.9 21.1-34.1-54.6 0 0 59.7zM1401.4 530.4l5.6 0.5 2.8-0.3 7.5-2.9-23.5 0 4.9 2z"/>
<path fill="#7f7bb9" d="M1295.5 582l0 1.8 8.4-3.8 5.5-4 7.6-7.6 6.4-8.1 5.4-8.2 14.3-24.4-47.6 0 0 51.6zM1612.1 582l6.8 2.3 8.4 0.1 0-56.7-53.4 0 8.8 19.7 8.4 14.4 8.3 10.6 5.6 5.2 5.6 3.7z"/>
<path fill="#776cb1" d="M1619.9 576.6l7.4-0.2 0-48.7-49.9 0 9.3 19 4.4 7.2 5.5 7.5 5.6 6 5.6 4.4 5.6 3 5.5 1.7zM1295.5 573.9l0 1.9 8.4-4 5.5-4.2 5.6-5.6 5.6-6.9 5.6-8.1 11.3-19.3-42 0 0 43.4z"/>
<path fill="#705ca9" d="M1616.3 568.4l5.4 0.9 5.6-0.4 0-41.2-46.4 0 7.4 14.1 8.3 12.1 8.4 8.5 5.6 3.7 5.6 2.3zM1295.5 565.7l0 2.5 5.6-2.5 5.6-3.7 5.5-5.2 10.2-12.8 9.9-16.3-36.8 0 0 35.3z"/>
<path fill="#684da1" d="M1295.5 560.3l0 0.6 2.8-1.1 5.6-3.2 8-7.2 8.7-10.8 6.9-10.9-32 0 0 29.9zM1613.3 560.3l5.6 1.6 8.4-0.2 0-34-42.8 0 6.6 11.4 5.5 7.7 5.6 6.1 8.4 6.1z"/>
<path fill="#613f9a" d="M1617.8 554.8l3.9 0.5 5.6-0.5 0-27.1-39 0 7.3 10.9 6.6 7.5 5.6 4.5 8.4 3.9zM1295.5 552.1l0 1.9 2.8-1.2 8.4-5.6 8.3-8.8 7.6-10.7-27.1 0 0 21.7z"/>
<path fill="#582f93" d="M1295.5 546.7l0 0.6 5.6-2.8 5.6-4.2 5.5-5.7 5.5-6.9-22.2 0 0 16.3zM1612.6 546.7l6.3 1.9 2.8 0.2 5.6-0.7 0-20.4-34.8 0 4.1 5.7 5.6 6.2 8.4 6.2z"/>
<path fill="#51218c" d="M1614.8 541.3l6.9 1.2 5.6-0.7 0-14.1-30.2 0 7.9 8.1 8.4 5zM1295.5 538.6l0 2.3 5.6-2.9 5.6-4.4 5.6-5.9-16.8 0 0 8.1z"/>
<path fill="#4a1486" d="M1616.9 535.8l4.8 0.6 5.6-0.8 0-7.9-24.6 0 7.9 5.8 5.6 2.2zM1295.5 533.1l0 1.6 2.8-1.3 7.8-5.7-10.6 0 0 2.7z"/>
<path fill="#420680" d="M1619.1 530.4l5.4-0.1 2.8-0.6 0-2-16.7 0 2.8 1.3 5.5 1.4zM1295.5 527.7l0 1 2.1-1z"/>
<path fill="none" stroke="#000" stroke-width="1.6" d="M1412.1 796.5l-2.3-1-1.9-1.7-0.7-2.7 0.2-2.8 1.5-5.4 2-5.4 6.2-13.6 8.8-16.3 23-39.7 22.3-42.7 8.3-15 8.4-12.3 5.6-6 2.8-2.2 2.7-1.7 2.8-1 2.8-0.4 2.8 0.2 2.8 1.1 2.8 1.9 2.8 2.9 4.1 6.3 4.2 8.7 5.6 15.6 5.6 19.4 7.6 30.5M1550 742.5l9.7 37.7 1.6 8.1 0.1 2.8-0.8 2.7-3 2.2-1.4 0.5M1295.5 727.1l11.2-0.1 5.5-0.7 8.4-2.1 11.1-4.4 12.3-6.9M1368.6 695.3l11.3-7.4 21.6-12 8.3-5.1 8.4-6.1 8.4-7.6 8.8-9.9 10.7-15 8.3-14 16.8-30.2 5.5-9.1 5.6-8 6.8-7.9 7.2-6.3 2.8-1.9 5.5-2.5 5.6-0.8 2.8 0.3 2.8 1.1 2.8 1.7 2.8 2.5 4.3 5.9 4 7.3 2.8 6.1 5.6 14.7 15 45.2 7.9 21.7 8.5 19 4.8 9.1 4.5 7.2 3.9 5.5 5.6 6.7 5.6 5.5 5.5 4.5 5.6 3.7 8.4 4 5.5 1.8 8.4 1.7M1295.5 686.4l8.4-0.9 5.5-1.4 5.6-2.2 5.6-2.9 5.6-3.6 11.2-9.1M1359.8 645.8l8.2-5.6 8.4-3.8 5.5-1.6 16.8-3.8 5.5-1.7 5.6-2.3 8.4-5 8.4-7 8.3-9.5 8.4-12.1 8.2-14.1 19.7-36.4 5.5-8.8 4.7-6.4M1533.5 527.7l7.4 19.2 9.2 28.8M1559.7 604.5l6.9 18.2 7.7 17 8.4 14.8 8.4 11.3 8.3 8.4 8.4 6 8.4 3.8 5.5 1.5 5.6 0.8M1295.5 656.1l8.4-1.7 5.5-2.2 5.6-3.1 8.4-6.4 9.6-9.4M1352.9 610.5l3.9-3.8 5.6-4.4 2.8-1.6 5.6-2.3 8.4-1.1 16.7 0.6 8.3-0.8 8.4-2.8 8.4-5.2 8.3-7.9 5.6-6.9 4.1-5.9 9.6-16.3 12.5-24.4M1546.9 527.7l2.2 7.3M1558.2 563.8l8.2 23.6 7.9 18.9 8.4 16 7.5 11.3 3.7 4.5 5.5 5.8 8.4 6.4 8.4 4 5.5 1.4 5.6 0.5M1295.5 631.5l8.4-2.4 8.3-4.7 8.4-7 5.6-5.8 4.8-5.9M1349.2 581.5l4.9-5.7 5.5-5.2 3.5-2.2 4.9-1.9 2.8-0.5 5.6 0.3 16.7 4.2 8.4 0.9 5.5-0.5 2.8-0.6 5.6-2.3 5.6-3.6 2.8-2.3 4.4-4.5 3.9-4.7 7.9-11.6 7.6-13.6M1555.9 527.7l8.8 27.1 8.3 21.8 4.1 9.1 5 9.9 8.1 12.9M1612.3 628.7l6.6 2.3 2.8 0.5 5.6 0.3M1309.2 604.3l7.2-6 7-7.6 8.3-11.2 14-21.1 5.6-7.7 5.5-6.3 5.6-4 2.8-1.2 2.8-0.5 5.6 0.5 5.6 1.9 11.1 5.2 5.6 2 5.6 1.2 2.7 0.2 5.6-0.7 2.8-0.8 5.6-2.8 5.6-4.3 5.5-5.8 5.7-7.6M1563.5 527.7l8.8 24.4 8.7 19.5M1597.6 596.8l7.4 6.9 2.8 2 5.6 3 5.5 1.8 2.8 0.4 5.6 0M1295.5 592.2l2.8-0.9 5.6-2.6 8.3-6.3 8.4-9 8-11.1M1344.5 536.4l5.6-8.7M1393.8 527.7l4.9 2 2.8 0.7 5.5 0.5 5.6-1 4.7-2.2M1570.5 527.7l1.9 5M1585 560.3l3.3 5.6 5.6 8.2 5.5 6.6 5.6 5.1 5.6 3.7 5.6 2.3 5.5 1.1 5.6-0.2M1295.5 575.8l4.5-1.8M1322 553.2l7-10.7 8.5-14.8M1577.4 527.7l5.3 11.5 5.6 10.2 5.6 8.5 7.1 8.2M1295.5 560.9l4.7-2.1M1321.3 537.5l6.2-9.8M1584.5 527.7l1.9 3.5M1604.7 555.1l5.9 3.9 5.6 2.3 5.5 0.9 5.6-0.5M1295.5 547.3l5.6-2.8 5.6-4.2 5.5-5.7 5.5-6.9M1592.5 527.7l4.1 5.7 5.6 6.2 2.8 2.4 5.6 3.8 5.6 2.2 2.7 0.6 2.8 0.2 5.6-0.7M1295.5 534.7l5.6-3 5-4M1602.7 527.7l5.1 4.1 2.8 1.7 5.6 2.2 5.5 0.7 5.6-0.8"/>
<text x="1546.5" y="727.9" transform="rotate(-283.7 1546.5 727.9)" fill="#000" font-size="16" class="cl">32</text>
<text x="1356.4" y="704.2" transform="rotate(-36.0 1356.4 704.2)" fill="#000" font-size="16" class="cl">40</text>
<text x="1348.5" y="655.9" transform="rotate(-43.2 1348.5 655.9)" fill="#000" font-size="16" class="cl">48</text>
<text x="1554.8" y="590.1" transform="rotate(-288.3 1554.8 590.1)" fill="#000" font-size="16" class="cl">48</text>
<text x="1342.9" y="621.9" transform="rotate(-49.3 1342.9 621.9)" fill="#000" font-size="16" class="cl">56</text>
<text x="1553.6" y="549.4" transform="rotate(-287.3 1553.6 549.4)" fill="#000" font-size="16" class="cl">56</text>
<text x="1340.1" y="593.7" transform="rotate(-53.6 1340.1 593.7)" fill="#000" font-size="16" class="cl">64</text>
<text x="1600.0" y="620.0" transform="rotate(-316.9 1600.0 620.0)" fill="#000" font-size="16" class="cl">64</text>
<text x="1295.5" y="610.5" transform="rotate(-20.7 1295.5 610.5)" fill="#000" font-size="16" class="cl">72</text>
<text x="1588.4" y="584.7" transform="rotate(-303.0 1588.4 584.7)" fill="#000" font-size="16" class="cl">72</text>
<text x="1336.7" y="549.4" transform="rotate(-58.9 1336.7 549.4)" fill="#000" font-size="16" class="cl">80</text>
<text x="1578.2" y="546.7" transform="rotate(-294.4 1578.2 546.7)" fill="#000" font-size="16" class="cl">80</text>
<text x="1312.2" y="564.9" transform="rotate(-44.3 1312.2 564.9)" fill="#000" font-size="16" class="cl">88</text>
<text x="1613.4" y="574.8" transform="rotate(-338.7 1613.4 574.8)" fill="#000" font-size="16" class="cl">88</text>
<text x="1311.9" y="549.4" transform="rotate(-46.1 1311.9 549.4)" fill="#000" font-size="16" class="cl">96</text>
<text x="1594.5" y="544.0" transform="rotate(-307.1 1594.5 544.0)" fill="#000" font-size="16" class="cl">96</text>
<path fill="none" stroke="#ffa500" stroke-width="2.7" d="M1494.6 658.8l4.4-3 2.8-0.8 2.8 0.1 2.8 1 2.8 2 2.8 3.3 2.8 4.6 2.8 6.3 2.8 8.2 2.7 10.7 2.5 13 1.4 10.8 0.5 8.2 0.1 8.1-0.7 8.2-1.7 8.1-2.2 5.4-3.7 5.5-2.6 2.7-3.7 2.7-6.6 3.2-8.4 2.1-5.5 0.6-5.6 0-8.4-1-5.5-1.6-2.8-1.2-3.5-2.1-3.2-2.7-2.1-2.7-2.5-5.5-1-5.4 0.2-8.1 1.4-8.2 2.3-9 3.3-10 5.7-14.7"/>
<text x="1481.4" y="677.0" transform="rotate(-60.5 1481.4 677.0)" fill="#ffa500" font-size="16" class="cl">30.4</text>
<path fill="none" stroke="#ff0000" stroke-width="2.7" d="M1500.4 687l1.4 0 2.8 1.5 1.7 2.1 1.6 2.7 2.3 7.2 0.9 6.4 0.1 8.1-0.7 5.5-1.6 5.4-1.5 3.4-2.8 3.8-2.8 2.3-2.8 1.4-2.7 0.6-2.8-0.2-2.8-1-2.7-2.2-1.8-2.7-1.7-4.8"/>
<text x="1487.1" y="704.2" transform="rotate(-69.9 1487.1 704.2)" fill="#ff0000" font-size="16" class="cl">29.4</text>
<path stroke="#ff0000" stroke-width="4.5" d="M1489.9 703.9L1502.9 716.9M1489.9 716.9L1502.9 703.9"/>
</g>
<rect x="1295.5" y="527.7" width="334.6" height="271.5" fill="none" stroke="#000" stroke-width="1.8"/>
<text x="1295.5" y="833.0" class="tl" text-anchor="middle">0</text>
<text x="1379.2" y="833.0" class="tl" text-anchor="middle">90</text>
<text x="1462.8" y="833.0" class="tl" text-anchor="middle">180</text>
<text x="1546.5" y="833.0" class="tl" text-anchor="middle">270</text>
<text x="1630.1" y="833.0" class="tl" text-anchor="middle">360</text>
<text x="1279.4" y="809.0" class="tl" text-anchor="end">0</text>
<text x="1279.4" y="754.7" class="tl" text-anchor="end">2</text>
<text x="1279.4" y="700.4" class="tl" text-anchor="end">4</text>
<text x="1279.4" y="646.1" class="tl" text-anchor="end">6</text>
<text x="1279.4" y="591.8" class="tl" text-anchor="end">8</text>
<text x="1279.4" y="537.5" class="tl" text-anchor="end">10</text>
<path stroke="#000" stroke-width="1.8" d="M1295.5 799.2v7.5M1379.2 799.2v7.5M1462.8 799.2v7.5M1546.5 799.2v7.5M1630.1 799.2v7.5M1295.5 799.2h-7.5M1295.5 744.9h-7.5M1295.5 690.6h-7.5M1295.5 636.3h-7.5M1295.5 582.0h-7.5M1295.5 527.7h-7.5"/>
<text x="1462.8" y="453.2" class="tt" text-anchor="middle">2012-2014</text>
<text x="1461.8" y="483.4" class="tt" text-anchor="middle">(L<tspan class="sub" dy="4.5">s</tspan><tspan dy="-4.5">=29.0-52.2</tspan><tspan class="sup" dx="6" dy="-10">∘</tspan><tspan dx="3.5" dy="10">)</tspan></text>
<text x="1462.8" y="514.2" class="tt" text-anchor="middle">N<tspan class="sub" dy="4.5">obs</tspan><tspan dy="-4.5">=11</tspan></text>
<clipPath id="c10"><rect x="1698.6" y="527.7" width="334.6" height="271.5"/></clipPath>
<g clip-path="url(#c10)">
<rect x="1698.6" y="527.7" width="331.8" height="268.8" fill="#faf9fc"/>
<path fill="#f5f4f9" d="M1698.6 796.5l331.8 0 0-268.8-331.8 0 0 266.1zM1885.4 742.2l-5.6-0.8-4.1-1.9-4.2-3.8-2.8-4.4-2-5.4-1.2-5.4-0.7-13.6 1-13.6 2.1-13.6 3.4-16.3 3-11.3 3.3-10.4 4.8-10.8 3-4.5 2.8-2.2 2.8-0.2 2.8 1.8 2.8 4.1 2.8 6.6 2.7 9.7 2.8 13.6 2.4 17.2 1 13.6 0.2 10.9-0.4 8.1-1.2 8.1-2 7.7-2.7 5.9-2.8 4.1-4.9 4.1-3.5 1.7-5.2 1z"/>
<path fill="#f1eff6" d="M1698.6 796.5l84.4 0 4.8-1.3 2.8-1.5 3.2-2.6 5.2-7.2 8.3-16 14-30 9.5-22.9 12-32.5 23.1-71.4 8.4-22.4 5.5-11.2 2.8-4.1 2.8-3.1 2.8-1.8 2.8-0.6 2.8 0.9 2.8 2.2 2.8 3.9 3.4 7.1 4.9 14 5.6 21.5 15.7 73.1 8.5 35.3 5.5 19 5.4 16.3 5.2 13.6 5.2 10.8 4.7 6.4 5.6 3.4 4.2 1.1 57.1 0 0-268.8-331.8 0 0 266.1z"/>
<path fill="#ebe9f3" d="M1698.6 761.2l0 1.5 5.6 0.1 11.1-0.6 8.4-1.1 13.9-3.1 14-4.9 13.9-7.1 11.2-7.5 11.1-9.5 11.2-11.9 8.3-10.8 8.4-12.8 8.4-15 7.2-15.1 12.3-30.3 22.3-62.6 8.4-19.6 5.5-9.6 2.8-3.6 2.8-2.6 2.8-1.7 2.8-0.5 2.8 0.6 2.8 1.8 2.8 3.1 4.5 8.3 3.8 9.4 5.6 18.5 16 67.1 8.1 29.9 4.4 13.6 5.2 13.5 5.3 11.9 5.6 10.1 5.6 8.3 8.4 9.7 8.3 7.3 8.4 5.4 8.4 4 11.1 3.7 11.2 2.3 11.1 1.2 0-234.9-331.8 0 0 230.8z"/>
<path fill="#e3e2ef" d="M1698.6 734l0 1.6 2.8-0.1 8.4-0.9 11.1-2.2 16.7-5.4 14-6.3 13.9-8 11.2-8 11.1-9.8 11.2-12.1 8.3-11.1 7.1-11 6.9-12.1 7.4-15 12.1-28.7 22.3-59.4 7.8-17.8-172.3 0 0 203.6zM2012.6 734l9.4 1.4 8.4 0.3 0-208-122.1 0 7.8 25.2 14.8 61.7 6.6 24.4 7.9 24.4 9.4 21.8 5.9 10.6 5.6 8.2 5.6 6.8 8.3 8 5.6 4.2 8.4 4.8 8.3 3.5 8.4 2.4z"/>
<path fill="#dcdcec" d="M1698.6 712.3l0 0.8 8.4-1.4 13.9-3.9 13.9-5.5 16.8-8.2 11.1-6.5 11.2-7.9 11.1-9.7 8.4-8.8 8.4-10.5 6.1-9 7.8-13 7.4-14.1 12.1-27.3 23.6-59.6-160.2 0 0 181.9zM2008.8 712.3l10.5 1.4 11.1-0.3 0-185.7-113.9 0 15.8 65.2 7.2 27.1 8 24.4 9.3 21.8 6.1 10.8 5.6 8.2 6.1 7.3 5.6 5.4 5.6 4.4 8.4 5 5.5 2.4 8.4 2.5z"/>
<path fill="#d2d2e7" d="M1698.6 693.3l8.4-2 13.9-5.1 16.7-7.7 14-7.4 11.1-6.9 8.4-6.1 8.4-7.1 8.3-8.5 7.4-8.9 6.6-9.2 7.7-12.5 6.2-11.4 13.7-29.4 18-43.4-148.8 0 0 162.9zM2003.4 693.3l7.5 1.5 5.6 0.5 5.5-0.1 8.4-1.1 0-166.4-107.9 0 11.5 48.9 8 29.8 7.6 22.9 8.3 19.7 8.4 14.7 5.6 7.7 5.5 6.3 5.6 5 5.6 4 5.6 3.2 8.3 3.2z"/>
<path fill="#c8c8e2" d="M2000.6 677l7.5 1.7 5.6 0.4 8.3-0.5 8.4-1.7 0-149.2-102.8 0 8.9 38 7.2 27.2 7.1 21.7 7.9 19 9.1 16.3 9.6 12.2 5.6 5.2 5.6 4.1 5.6 3.1 5.5 2.3zM1698.6 674.3l0 1.8 13.9-5.3 16.8-8.1 19.5-10.6 11.1-7 8.3-6.1 8.5-7.4 5.6-5.8 7.1-8.5 5.8-8.1 11.4-19.1 11.9-24.3 16.4-38.1-136.3 0 0 143.9z"/>
<path fill="#bebedd" d="M2002.1 663.4l6 1 8.4 0 5.5-0.9 8.4-2.3 0-133.5-98.3 0 7.7 32.6 6.7 24.4 7.4 21.7 7 16.3 8.2 14.5 8.3 10.8 5.6 5.4 5.6 4.2 5.6 3.1 5.5 2.1zM1698.6 658l0 2.2 8.4-3.6 13.9-7.3 25.1-14.1 16.7-11.4 13-11.9 6.6-7.7 5.5-7.5 10.5-17.4 10.3-21.7 12-29.9-122 0 0 127.6z"/>
<path fill="#b3b3d6" d="M1999.3 649.9l6 1.2 8.4 0.1 8.3-1.5 8.4-2.9 0-119.1-94.2 0 6.5 27.1 6.9 23.9 6.9 19.6 7 15.6 8.4 14 8.3 10.1 8.4 6.9 8.4 4.2zM1698.6 644.4l0 1.1 8.4-4.2 39-23.2 13.9-10 11.2-10.6 10.1-12.8 9.6-16.3 8.6-19 7.7-21.7-108.5 0 0 114z"/>
<path fill="#a9a7cf" d="M2005 639l5.9 0.1 5.6-0.8 5.5-1.5 8.4-3.5 0-105.6-90.4 0 6.2 24.4 6.5 21.8 7.1 19 6.5 13.5 8.3 13.1 8.4 9.2 8.4 6 5.6 2.5 5.5 1.5zM1698.6 630.9l0 1 8.4-4.8 39-25 11.2-8.4 8.3-8 9.5-11.8 8.1-13.6 7.4-16.3 5.6-16.3-97.5 0 0 100.5z"/>
<path fill="#9e9ac8" d="M1995.2 625.4l7.3 2.1 8.4 0.1 8.4-1.9 11.1-5 0-93-86.7 0 5 19 5.8 19 6.2 16.6 5.6 12 5.6 9.6 8.3 10.8 5.6 5.2 8.4 5.1zM1698.6 617.3l0 1.8 2.8-1.7 39-26.2 11.2-8.3 8.3-7.7 8.4-9.9 6.7-10.5 6.7-13.5 5.1-13.6-88.2 0 0 86.9z"/>
<path fill="#9390c3" d="M1994.3 614.6l8.2 2.2 8.4-0.1 8.4-2.3 11.1-5.6 0-81.1-83.1 0 5 18.3 5.6 17 5.6 13.9 5.6 11.2 5.5 9 5.6 7 5.6 5.2 8.4 5.2zM1698.6 606.4l0 0.6 2.8-1.8 39-27.8 14-11.5 7.5-8.3 6.4-9.2 5.4-9.8 4.8-10.9-79.9 0 0 76z"/>
<path fill="#8986be" d="M2000.5 606.4l7.6 0.4 5.6-1.1 8.3-3.2 8.4-5 0-69.8-79.6 0 4.7 16.3 5.2 14.8 5.6 13 5.6 10.5 5.5 8.2 8.4 8.8 5.6 3.8 8.3 3.2zM1698.6 595.6l41.8-31.2 8.4-7 5.6-5.5 6.4-7.9 4.7-7.1 4.9-9.2-71.8 0 0 65.2z"/>
<path fill="#7f7bb9" d="M1995.7 595.6l6.8 1.5 8.4-0.6 8.4-2.9 11.1-6.8 0-59.1-76.2 0 8.2 24.4 3.9 9.1 5.6 10.9 5.5 8.5 5.6 6.5 5.6 4.7 5.6 3.2zM1698.6 584.7l47.4-37.5 8.4-8.7 7.6-10.8-63.4 0 0 54.3z"/>
<path fill="#776cb1" d="M1999.3 587.4l6 0.5 8.4-1.7 8.3-3.9 8.4-5.8 0-48.8-72.7 0 8.6 23.3 8.3 16 5.6 7.7 5.6 5.8 5.6 3.9 5.6 2.5zM1698.6 573.9l0 0.4 19.5-16.4 22.3-17.7 5.6-5.1 6.7-7.4-54.1 0 0 43.4z"/>
<path fill="#705ca9" d="M1993.3 576.6l3.7 1.4 5.5 1 8.4-1 8.4-3.6 11.1-7.7 0-39-69.2 0 6.4 16.3 7 13.7 8.4 11.1 8.4 6.8zM1698.6 563l0 1.4 19.5-17.1 23.7-19.6-43.2 0 0 32.6z"/>
<path fill="#684da1" d="M1994 568.4l3 1.1 5.5 0.9 8.4-1.1 8.4-3.9 11.1-8.2 0-29.5-65.6 0 7.1 15.9 5.5 9.4 5.6 7.1 2.9 2.9 5.5 4.1zM1698.6 552.1l0 2.7 16.7-15.2 14.2-11.9-30.9 0 0 21.7z"/>
<path fill="#613f9a" d="M1994.2 560.3l2.8 1 5.5 0.9 8.4-1.4 8.4-4.1 11.1-8.6 0-20.4-61.7 0 5.9 12.1 5.6 8.5 5.6 6.3 2.8 2.3 5.6 3.4zM1698.6 544l0 1.6 19.2-17.9-19.2 0 0 13.6z"/>
<path fill="#582f93" d="M1993.9 552.1l5.8 1.8 5.6 0.1 5.6-1.4 8.4-4.3 11.1-9 0-11.6-57.6 0 4.6 8.2 5.6 7.6 3.1 3.2 5.3 4.1zM1698.6 535.8l0 0.9 9.2-9-9.2 0 0 5.4z"/>
<path fill="#51218c" d="M1993.2 544l3.8 1.6 5.5 0.8 2.8-0.2 5.6-1.5 5.6-2.7 8.3-6.2 5.6-5 0-3.1-53 0 5.6 7.8 2.8 3.1 5.6 4.4zM1698.6 527.7l0 0.4 0.4-0.4z"/>
<path fill="#4a1486" d="M1999.6 538.6l5.7 0 5.6-1.6 5.6-2.9 8.4-6.4-41.9 0 5.6 5.7 2.8 2 5.6 2.6z"/>
<path fill="#420680" d="M1996.4 530.4l3.3 0.8 5.6 0 5.6-1.7 3.6-1.8-23.5 0 3.2 1.9z"/>
<path fill="none" stroke="#000" stroke-width="1.6" d="M1783 796.5l4.8-1.3 2.8-1.5 2.8-2.2 2.8-3.3 2.8-4.3 5.6-10.4 13.9-29.3 11.2-26.2 9.3-24.7 8.4-24.4 18.5-57.8 5.6-15.6 5.6-12.8 2.7-5.2 2.8-4.1 2.8-3.1 2.8-1.8 2.8-0.6 2.8 0.9 2.8 2.2 2 2.9 3.5 6.4 2.9 7.1 5.5 18.7 9.5 42.5M1926.3 678.3l7.1 31.3 5.6 21.7 6.6 21.7 6.7 18.8 5.6 12.3 2.8 4.6 1.9 2.4 3.7 3 2.8 1.3 4.2 1.1M1698.6 735.6l11.2-1 11.1-2.2 11.2-3.3 13.9-5.7 11.2-5.7 11.1-6.9 11.2-8.4 8.3-7.5 8.4-8.9 8.4-10.4 6.4-9.4 6.6-10.9 6.5-12.1 5.8-12.3 7-16.3 7-17.8M1854.4 568.4l8.7-22.9 7.8-17.8M1908.3 527.7l5 15.1 9 35.3M1929.2 607.6l5.2 20.6 4.7 16.2 4.4 13.6 4 10.9 4.8 11.3 5.6 10.9 5.6 9 5 6.8 6.1 6.8 8.4 7.3 5.6 3.8 8.4 4.3 8.3 3.1 8.4 2.1 8.3 1.1 8.4 0.3M1698.6 693.6l13.9-4.1 16.8-7 19.5-9.8 13.9-8.5 11.2-8.3 9.5-8.7 10-11.3 8.2-11.2M1816.7 598.6l13-28 17.7-42.9M1922.5 527.7l1.7 7M1931 564.2l9.4 36.8 5 16.3 4.2 12 5 12.4 5.2 10.9 4.6 8.1 5.5 8.2 6.9 8.1 6.2 5.7 5.6 4 8.4 4.4 8.3 2.7 8.4 1.3 8.3 0.1 8.4-1.1M1698.6 660.2l13.9-6.4 25.1-13.8 14-8.3 11.1-7.9 8.4-7.2 9.4-10.2 7.3-9.7 7.6-12.2M1808.7 557.4l11.9-29.7M1932.1 527.7l7.7 32.6 5.9 21.7 6.2 19 6.5 16.4M1973.6 643.4l6.6 7.5 5.6 4.7 5.6 3.7 8.3 3.5 5.6 1.3 8.4 0.5 8.3-1.1 8.4-2.3M1698.6 631.9l3.9-2.2M1728 613.7l15.6-10 10.8-7.7 8.3-7.4 8.4-9.5 7.4-10.7 6.5-12 6.5-15.1 4.6-13.6M1940 527.7l6.9 27.1 6.5 21.2M1965 603.8l6.9 11.8 5.5 7.3 2.8 3.1 5.6 5 2.8 2 5.6 3.1 2.8 1.1 5.5 1.5 8.4 0.4 8.4-1.5 5.5-1.8 5.6-2.5M1698.6 607l3.8-2.5M1727 586.8l13.4-9.4 8.1-6.3 5.9-5.2 5.5-6 5.6-7.2 5.4-8.7 4.1-8.2 3.5-8.1M1947.3 527.7l1.9 7.2M1958.2 563.8l6.4 15.5 7.3 13.5 3.7 5.5 4.6 5.8 2.8 2.8 5.6 4.5 2.8 1.7 5.6 2.5 5.5 1.2 5.6 0.2 5.6-0.8 5.6-1.8 5.5-2.5 5.6-3.1M1698.6 584.7l19.5-15.7 13.5-10.2M1754.2 538.7l4.2-5.6 3.6-5.4M1954.2 527.7l6.2 19 5.5 13.6 6 11.8 5.5 8.5 5.6 6.5 2.8 2.6 5.6 3.9 5.6 2.4 2.7 0.7 5 0.5M1698.6 564.4l2.6-2.3M1724.1 542.4l17.7-14.7M1961.2 527.7l5.1 13.3 5.6 11.8 5.5 9.1 4.8 6M2009 578.4l4.7-1.3 5.6-2.7 5.5-3.5 5.6-4.2M1698.6 545.6l19.2-17.9M1968.7 527.7l1.5 3.4M1987.2 555.8l4.2 3 5.6 2.5 5.5 0.9 5.6-0.6 5.6-1.9 5.6-3 5.5-3.9 5.6-4.7M1698.6 528.1l0.4-0.4M1977.4 527.7l3.7 5.4 4.7 5.5 5.6 4.4 5.6 2.6 5.5 0.8 5.6-0.8 5.6-2.1 5.1-3M1991 527.7l3.2 1.9 2.8 1 5.5 0.8 5.6-0.9 6.4-2.8"/>
<text x="1923.1" y="663.4" transform="rotate(-281.8 1923.1 663.4)" fill="#000" font-size="16" class="cl">15</text>
<text x="1849.2" y="582.6" transform="rotate(-69.8 1849.2 582.6)" fill="#000" font-size="16" class="cl">20</text>
<text x="1925.7" y="592.9" transform="rotate(-283.3 1925.7 592.9)" fill="#000" font-size="16" class="cl">20</text>
<text x="1809.5" y="611.9" transform="rotate(-60.0 1809.5 611.9)" fill="#000" font-size="16" class="cl">25</text>
<text x="1927.6" y="549.4" transform="rotate(-283.1 1927.6 549.4)" fill="#000" font-size="16" class="cl">25</text>
<text x="1802.4" y="571.1" transform="rotate(-64.0 1802.4 571.1)" fill="#000" font-size="16" class="cl">30</text>
<text x="1965.2" y="630.9" transform="rotate(-300.0 1965.2 630.9)" fill="#000" font-size="16" class="cl">30</text>
<text x="1715.3" y="621.8" transform="rotate(-32.5 1715.3 621.8)" fill="#000" font-size="16" class="cl">35</text>
<text x="1958.7" y="590.1" transform="rotate(-292.4 1958.7 590.1)" fill="#000" font-size="16" class="cl">35</text>
<text x="1714.7" y="595.6" transform="rotate(-36.1 1714.7 595.6)" fill="#000" font-size="16" class="cl">40</text>
<text x="1953.4" y="549.4" transform="rotate(-287.3 1953.4 549.4)" fill="#000" font-size="16" class="cl">40</text>
<text x="1743.5" y="549.4" transform="rotate(-41.2 1743.5 549.4)" fill="#000" font-size="16" class="cl">45</text>
<text x="2019.3" y="593.6" transform="rotate(-24.2 2019.3 593.6)" fill="#000" font-size="16" class="cl">45</text>
<text x="1712.5" y="552.1" transform="rotate(-41.0 1712.5 552.1)" fill="#000" font-size="16" class="cl">50</text>
<text x="1994.2" y="577.0" transform="rotate(-337.7 1994.2 577.0)" fill="#000" font-size="16" class="cl">50</text>
<text x="1977.4" y="544.4" transform="rotate(-303.8 1977.4 544.4)" fill="#000" font-size="16" class="cl">55</text>
<text x="2030.4" y="530.8" transform="rotate(-41.3 2030.4 530.8)" fill="#000" font-size="16" class="cl">60</text>
<path fill="none" stroke="#ffa500" stroke-width="2.7" d="M1874.3 756.2l-2.8-1.1-3.7-2.1-3.3-2.7-2.4-2.7-1.8-2.8-2.2-5.3-1.6-8.2-0.3-10.8 1.1-13.6 3-18.7 4.2-19M1877.4 625.6l2.4-5.6 2.8-5 2.8-3.6 2.8-2.1 2.8-0.4 2.8 1.4 2.8 3.4 2.8 5.4 2.7 7.6 2.8 10.1 2.8 12.7 2.8 15.9 3.4 27.9 0.7 10.9 0.1 10.8-0.7 10.9-1.5 8.1-3 8.2-1.8 3.1-2.8 3.6-2.8 2.6-2.7 1.9-5 2.4-3.4 1-8.4 0.8-5.5-0.7-2.8-0.7"/>
<text x="1870.2" y="647.2" transform="rotate(-73.6 1870.2 647.2)" fill="#ffa500" font-size="16" class="cl">13.0</text>
<path fill="none" stroke="#ff0000" stroke-width="2.7" d="M1885.4 715l-2.8-1.5-1-1.2-1.8-2.4-1.6-4.7M1882.1 660.2l3.3-7 2.8-2.6 2.8 0.2 2.8 3.6 2.8 8.2 1.5 9 0.8 8.1 0.1 8.2-0.3 5.4-0.8 5.4-1.3 5.9-2.8 5.9-2.8 3.1-2.8 1.4-2.8 0"/>
<text x="1877.2" y="682.5" transform="rotate(-84.4 1877.2 682.5)" fill="#ff0000" font-size="16" class="cl">11.9</text>
<path stroke="#ff0000" stroke-width="4.5" d="M1879.4 670.5L1892.4 683.5M1879.4 683.5L1892.4 670.5"/>
</g>
<rect x="1698.6" y="527.7" width="334.6" height="271.5" fill="none" stroke="#000" stroke-width="1.8"/>
<text x="1698.6" y="833.0" class="tl" text-anchor="middle">0</text>
<text x="1782.3" y="833.0" class="tl" text-anchor="middle">90</text>
<text x="1865.9" y="833.0" class="tl" text-anchor="middle">180</text>
<text x="1949.6" y="833.0" class="tl" text-anchor="middle">270</text>
<text x="2033.2" y="833.0" class="tl" text-anchor="middle">360</text>
<text x="1682.5" y="809.0" class="tl" text-anchor="end">0</text>
<text x="1682.5" y="754.7" class="tl" text-anchor="end">2</text>
<text x="1682.5" y="700.4" class="tl" text-anchor="end">4</text>
<text x="1682.5" y="646.1" class="tl" text-anchor="end">6</text>
<text x="1682.5" y="591.8" class="tl" text-anchor="end">8</text>
<text x="1682.5" y="537.5" class="tl" text-anchor="end">10</text>
<path stroke="#000" stroke-width="1.8" d="M1698.6 799.2v7.5M1782.3 799.2v7.5M1865.9 799.2v7.5M1949.6 799.2v7.5M2033.2 799.2v7.5M1698.6 799.2h-7.5M1698.6 744.9h-7.5M1698.6 690.6h-7.5M1698.6 636.3h-7.5M1698.6 582.0h-7.5M1698.6 527.7h-7.5"/>
<text x="1865.9" y="453.2" class="tt" text-anchor="middle">2013-2015</text>
<text x="1864.9" y="483.4" class="tt" text-anchor="middle">(L<tspan class="sub" dy="4.5">s</tspan><tspan dy="-4.5">=40.7-63.5</tspan><tspan class="sup" dx="6" dy="-10">∘</tspan><tspan dx="3.5" dy="10">)</tspan></text>
<text x="1865.9" y="514.2" class="tt" text-anchor="middle">N<tspan class="sub" dy="4.5">obs</tspan><tspan dy="-4.5">=10</tspan></text>
<clipPath id="c11"><rect x="86.2" y="961.1" width="334.6" height="271.5"/></clipPath>
<g clip-path="url(#c11)">
<rect x="86.2" y="961.1" width="331.8" height="268.8" fill="#faf8fb"/>
<path fill="#f4f3f8" d="M86.2 1229.9l331.8 0 0-268.8-331.8 0 0 266.1zM155.9 1098.8l-2.8-2.6-2.4-4.8-2.9-10.8-1.3-13.6 0-19 2-24.5 4.6-30.4 2.8-12 2.8-8.2 2.8-4 2.8 1.5 2.8 8.5 2.7 17.5 2.2 29.9 0.3 24.4-1.5 21.7-2.6 13.6-1.1 3.6-2.8 5.7-2.8 3.1-2.8 1.1z"/>
<path fill="#efedf5" d="M86.2 1229.9l331.8 0 0-268.8-241 0 6.3 62.4 3 40.8 1 29.8-1.1 24.5-1.6 10.8-2 8.2-3 8.1-3.1 5.4-3.9 4.8-5.5 4.2-5.6 2.1-5.6 0.4-5.6-1.2-5.5-3-4.8-4.5-3.6-5.3-2.8-6.1-2.8-9.7-1.4-8.8-0.9-10.9-0.3-13.5 0.5-13.6 3.2-35.3 7.3-48.5 7.7-41.1-60.7 0 0 266.1z"/>
<path fill="#e7e6f1" d="M86.2 1229.9l331.8 0 0-268.8-234.3 0 18 152 2 29.9 0 10.9-0.7 10.8-2 10.9-3 8.1-3.3 5.5-5.2 5.4-5.7 3.8-8.4 3.4-8.3 1.8-11.2 0.7-11.1-0.9-8.4-2-8.4-3.7-5.6-4.1-5.5-6.7-3-5.9-2.4-8.1-1.6-10.9-0.4-13.6 0.8-16.3 4.8-40.7 10-59.7 14.1-70.6-53 0 0 266.1z"/>
<path fill="#dedeed" d="M278.7 1224.5l22.2 2 27.9 0.4 25.1-0.9 19.5-2.6 11.2-3.2 8.3-4.6 7.5-7.4 5.2-8.2 6.2-13.6 6.2-18 0-207.3-229.2 0 9.6 67.9 9.6 54.3 11.4 51.6 6.2 23.8 5.6 18.2 4.5 12.3 3.9 8.6 4.4 7.6 4.2 5.5 5.3 4.8 8.4 4.5 8.3 2.6 8.4 1.6zM86.2 1156.6l0 2.6 2.8-9.8 10.6-41.7 33.2-146.6-46.6 0 0 192.8z"/>
<path fill="#d4d4e8" d="M316.7 1197.3l14.9-0.2 8.3-1.1 8.4-1.7 13.9-4.9 11.2-6.3 11.2-9.3 10-11.8 9.5-14.9 8.6-17.7 5.3-13 0-155.3-224.8 0 9.3 57 5.5 27.2 5.6 24.4 5.9 21.7 6.1 19.3 7.1 18.7 6.9 14.8 7 12.4 6.9 9.7 8.4 9.2 8.3 6.9 8.4 5.2 11.1 4.7 11.2 3.1 13.9 1.8zM86.2 1107.7l0 1.2 5.6-16.4 10-33.7 25.2-97.7-40.8 0 0 143.9z"/>
<path fill="#c8c8e2" d="M310 1170.2l7.6 0.6 8.4-0.1 13.9-2.1 14-4.6 11.1-5.9 11.2-8.3 11.1-11.3 11.2-15.2 8.4-14.5 11.1-24.4 0-123.3-220.7 0 9.5 51.6 10 40.7 6 19.5 5.6 15.6 5.6 13.4 6.8 14 7.1 11.9 5.6 7.9 8.4 9.8 8.3 7.6 8.4 5.9 11.1 5.8 8.4 2.9 11.2 2.4zM86.2 1075.1l0 2.2 2.8-7.5 11.1-33.5 21.4-75.2-35.3 0 0 111.3z"/>
<path fill="#bcbddc" d="M308 1145.7l12.4 0.7 14-1.6 13.9-4.1 11.2-5.2 11.1-7.4 11.2-9.9 11.1-13.1 8.4-12.4 8.3-15.2 8.4-18.3 0-98.1-216.8 0 8.9 43.4 9.5 35.3 6 18 5.6 14.2 5.6 12.2 5.5 10.6 5.6 9.1 8.4 11.3 5.6 6.2 8.3 7.7 8.4 6 8.4 4.5 8.3 3.3 11.2 2.6zM86.2 1050.7l0 1.7 2.8-7.2 8.4-23.5 18.7-60.6-29.9 0 0 86.9z"/>
<path fill="#b0afd4" d="M295.5 1121.3l11 2.1 13.9 0.2 14-2.1 13.9-4.4 13.9-6.8 11.2-7.7 11.2-10.2 8.3-9.9 8.4-12.1 5.6-9.6 11.1-23 0-76.7-213.1 0 7.9 35.3 8.7 29.9 9.7 25.9 5.6 12.1 5.5 10.4 5.6 9 5.6 7.7 5.6 6.6 8.3 8.1 5.6 4.4 8.4 5.2 5.6 2.6 8.3 2.9zM86.2 1029l0 2.2 8.4-21.7 16.2-48.4-24.6 0 0 65.2z"/>
<path fill="#a4a1cc" d="M300.2 1102.3l11.9 0.5 11.1-1.1 14-3.1 13.9-4.9 11.1-5.2 11.2-7.1 8.4-6.9 8.3-8.7 8.4-10.9 5.6-8.7 6.5-11.8 7.4-15.4 0-57.9-209.4 0 8.1 32.6 8.9 27.3 8.4 20.2 5.6 11.1 5.5 9.5 5.6 8.2 5.6 6.9 5.6 5.9 8.3 7.2 5.6 3.7 8.4 4.3 5.5 2 8.4 2zM86.2 1010l0 2.6 5.6-13.8 13.6-37.7-19.2 0 0 46.2z"/>
<path fill="#9894c5" d="M296.4 1083.3l10.1 0.3 11.1-1.4 14-3.3 19.5-6.3 11.1-4.6 8.4-4.5 8.4-5.7 8.3-7.5 8.4-9.6 8.4-12.2 7.4-13.1 6.5-13.4 0-40.9-205.8 0 7.8 28.1 8.4 23.6 8.4 18.6 5.5 10.1 5.6 8.7 5.6 7.4 5.6 6.2 5.6 5.2 5.5 4.3 11.2 6.1 5.6 2 8.3 1.8zM86.2 993.7l0 2 2.8-6.5 11-28.1-13.8 0 0 29.9z"/>
<path fill="#8c88bf" d="M283.9 1064.3l8.6 1.6 8.4 0.2 8.4-1.1 8.3-2 44.6-14.5 11.2-5.2 8.4-5.5 5.5-4.8 5.6-5.7 8.4-10.8 8.3-13.6 8.4-16.5 0-25.3-202.1 0 6.7 21.7 5.8 15.9 8.4 18.5 8.3 14.5 8.4 11.3 8.4 8.6 8.3 6.4 5.6 3.1 5.6 2.4zM86.2 980.1l8.2-19-8.2 0 0 16.3z"/>
<path fill="#807cba" d="M279.4 1048l7.6 1.8 5.5 0.4 5.6-0.3 8.4-1.5 8.3-2.7 25.1-10 27.9-7.6 11.2-5.1 8.3-6.1 5.6-5.4 8.4-10.3 5.6-8.4 11.1-20.8 0-10.9-198.2 0 5.8 17.4 5.6 13.9 5.6 11.7 8.3 14.3 8.4 11.1 8.4 8.3 8.3 6 8.4 3.9zM86.2 963.8l0 2.3 2.3-5-2.3 0z"/>
<path fill="#776cb1" d="M280.1 1034.4l9.6 1.2 5.6-0.5 5.6-1.2 11.2-4.2 19.5-10.2 8.3-3.5 8.4-2.2 19.5-2.9 5.6-1.6 5.6-2.3 5.6-3.2 5.5-4.4 8.4-8.8 8.4-11.8 9.9-17.7-193.1 0 4.7 12.5 5.6 12.7 5.6 10.8 8.3 12.9 5.6 6.9 8.4 8.1 8.3 5.6 8.4 3.4z"/>
<path fill="#6e5aa8" d="M277.5 1020.8l6.7 1.1 5.5-0.1 5.6-0.9 5.6-1.8 11.2-5.7 19.5-12.9 5.6-2.9 5.5-2 8.4-1.2 19.5-0.4 5.6-1.2 5.6-2.2 8.3-5.4 5.6-5.1 5.6-6.6 8.4-12.4-181.7 0 6 13.8 5.6 10.7 5.5 8.9 5.6 7.4 5.6 6.1 5.6 4.9 5.5 3.7 8.4 3.8z"/>
<path fill="#65489f" d="M272.4 1007.3l6.2 1.6 5.6 0.5 5.5-0.5 8.4-2.6 5.6-2.8 6.7-4.4 21.2-17.2 5.6-3.4 5.5-2.1 8.4-0.7 19.5 2.6 5.6-0.4 5.6-1.5 8.3-4.6 5.6-4.8 5.3-5.9-168.4 0 4.2 8.6 5.5 9.7 8.4 11.5 8.4 8.4 5.6 4.1 5.5 3z"/>
<path fill="#5c3797" d="M273.7 996.4l7.7 1.1 5.6-0.4 5.5-1.4 8.4-4.1 11.2-8.8 16.7-16.8 5.7-4.9-96.8 0 7.4 12.1 8.4 10.2 8.4 7.3 5.5 3.3 5.6 2.2zM363.1 961.1l7.5 2 5.6 0.5 5.6-0.9 4.3-1.6-21.1 0z"/>
<path fill="#53268f" d="M273.3 985.5l5.3 0.8 5.6-0.2 5.5-1.4 5.6-2.4 5.6-3.6 5.6-4.6 11.8-13-74.7 0 7.1 9.3 8.4 8 5.6 3.7 8.3 3.4z"/>
<path fill="#4c1788" d="M270.9 974.7l4.9 1 5.6 0 8.3-2.2 8.4-4.9 8.3-7.5-55.5 0 8.2 7.5 5.6 3.6 5.5 2.3z"/>
<path fill="#430780" d="M267.2 963.8l5.8 1.6 8.4 0.1 5.6-1.5 5.7-2.9-30.9 0 2.9 1.6z"/>
<path fill="none" stroke="#000" stroke-width="1.6" d="M177 961.1l1.1 9.4M181.2 1000.6l4.4 52.8 1.6 35.3 0 13.6-0.6 11.9-1.1 9.8-2.1 10.9-1.6 5.4-2.2 5.4-4.2 7.1-2.8 3.1-2.7 2.4-5.6 3-5.6 1.3-5.6-0.4-2.8-0.8-5.5-3-4.8-4.5-3.6-5.3-2.6-5.6-1.8-5.4-1.8-8.2-1.7-16.3-0.1-21.7 2-27.1 3.3-27.2 5.5-34.9 7.7-41.1M86.2 1159.2l11.2-42.3 12.5-54.2M116.5 1033.2l16.3-72.1M188.8 961.1l7.7 55.6M201.3 1046.6l6.7 36.7 7.5 35.3 7.3 29.9 7.1 24.4 6.9 18.8 5.5 11.2 2.8 4.3 3.1 3.7 2.8 2.7 5.3 3.9 8.4 3.7 11.1 2.8 13.9 1.7 16.8 1 22.3 0.2 22.3-0.8 16.7-1.7 12.3-2.7 7.2-2.8 5.6-3.3 5.2-4.7 3.2-3.9 4.3-7 4-8.4 4.2-10.6 4.2-12.6M86.2 1077.3l8.4-23.5 7.5-23.9M110.5 1000.9l11-39.8M197.3 961.1l4.7 27.1 4.8 24.5 5.7 24.4 5.7 20.9M227.7 1086.7l9.1 21.2 8.3 15.5 5.6 8.5 5.6 7.3 5.6 6.3 5.5 5.3 5.6 4.5 5.6 3.7 5.6 3.2 8.3 3.7 5.6 1.8 8.4 1.9 5.6 0.8 8.3 0.5 8.4-0.4 8.4-1.3 8.3-2.1 5.6-1.9 8.4-3.9 5.5-3.2 5.6-3.8 5.6-4.5 5.6-5.2 5.5-6.1 5.6-7.1 5.6-8.1 5.6-9.3 4.7-9 9.2-20.6M86.2 1031.2l4.2-10.5M103.9 982.5l6.9-21.4M204.9 961.1l5.9 27.1 6.5 24.4 7 21.8 6.9 17.8 8.4 17.5 8.3 14 8.4 11.1 5.6 6.1 5.5 5.2 5.6 4.4 5.6 3.6 5.6 3 5.5 2.3 11.2 3.1 5.6 0.9 8.3 0.4 5.6-0.2 8.4-1 8.4-1.8 5.5-1.7 8.4-3.1 5.6-2.7 5.5-3 7.1-4.6M397.2 1076.6l9.7-15.8 5.5-10.8 5.6-12.2M86.2 995.7l5.6-13.3 8.2-21.3M212.2 961.1l3.5 13.2M228.4 1012.7l8.4 18.7 8.3 14.6 8.4 11.6 8.4 8.9 5.5 4.8 5.6 3.8 5.6 3.1 5.6 2.3 5.5 1.6 5.6 1.1 5.6 0.4 5.6 0 8.3-0.9 8.4-1.6 11.2-3 11.1-3.5 8.4-3.1 8.3-3.5 8.4-4.5 5.6-3.6 5.6-4.4 5.5-5.2 5.6-6.2 5.6-7.2 5.6-8.4 4.4-7.7 9.5-18.8M86.2 966.1l2.3-5M219.8 961.1l3.5 10.9 5.1 13.7 8.4 18.4 5.5 9.9 5.6 8.4 5.6 7.1 5.6 5.8 5.6 4.8 5.5 3.7 5.6 2.9 8.4 2.6 5.5 0.8 5.6 0.1 8.4-1.2 6.3-1.7M347.9 1033.3l14.3-3.5 8.4-2.7 8.4-4.1 8.3-6.1 8.4-8.5 8.4-11.2 5.5-9.1 8.4-16.1M228 961.1l3.2 7.8 5.6 11.6 5.5 9.7 5.6 8.2 5.6 6.7 5.6 5.5 5.6 4.3 8.3 4.5 5.6 1.7 5.6 0.8 5.5-0.1 8.4-1.7 5.6-2.2 5.6-2.8 17.9-11.8M365.7 994.3l7.7-0.8 5.6-1.7 5.6-2.7 5.5-3.9 5.6-5.1 5.6-6.6 8.4-12.4M237.7 961.1l7.4 12.1 5.6 7.2 5.6 5.8 8.4 6.3 5.5 2.7 2.8 1 2.8 0.7 5.6 0.6 2.8 0 5.5-1 5.9-2.1M326.3 968.5l8.2-7.4M363.1 961.1l7.5 2 5.6 0.5 5.6-0.9 4.3-1.6M250.9 961.1l6.7 6.3M295.1 970.7l5.8-4.3 5.5-5.3"/>
<text x="179.7" y="985.5" transform="rotate(-275.9 179.7 985.5)" fill="#000" font-size="16" class="cl">60</text>
<text x="113.2" y="1048.0" transform="rotate(-77.4 113.2 1048.0)" fill="#000" font-size="16" class="cl">75</text>
<text x="198.9" y="1031.7" transform="rotate(-279.2 198.9 1031.7)" fill="#000" font-size="16" class="cl">75</text>
<text x="106.4" y="1015.4" transform="rotate(-73.8 106.4 1015.4)" fill="#000" font-size="16" class="cl">90</text>
<text x="222.7" y="1072.4" transform="rotate(-288.4 222.7 1072.4)" fill="#000" font-size="16" class="cl">90</text>
<text x="97.4" y="1001.7" transform="rotate(-70.6 97.4 1001.7)" fill="#000" font-size="16" class="cl">105</text>
<text x="384.6" y="1092.4" transform="rotate(-46.4 384.6 1092.4)" fill="#000" font-size="16" class="cl">105</text>
<text x="221.5" y="993.7" transform="rotate(-288.3 221.5 993.7)" fill="#000" font-size="16" class="cl">120</text>
<text x="328.8" y="1039.9" transform="rotate(-21.3 328.8 1039.9)" fill="#000" font-size="16" class="cl">135</text>
<text x="345.5" y="995.0" transform="rotate(-12.0 345.5 995.0)" fill="#000" font-size="16" class="cl">150</text>
<text x="312.1" y="982.8" transform="rotate(-41.3 312.1 982.8)" fill="#000" font-size="16" class="cl">165</text>
<text x="275.8" y="975.7" transform="rotate(-354.7 275.8 975.7)" fill="#000" font-size="16" class="cl">180</text>
<path fill="none" stroke="#ffa500" stroke-width="2.7" d="M152.2 1019.9l0.9-7 2.8-14.6 2.8-8.8 2.8-3.4 2.8 3.4 2.8 13.4 0.7 7.1 1 16.3 0.2 16.3-0.7 13.5-1.2 9.9-2.8 10.4-2.8 4.7-2.8 1.4-2.8-1.6-2.8-5.4-2-10.2"/>
<text x="150.3" y="1042.5" transform="rotate(-88.2 150.3 1042.5)" fill="#ffa500" font-size="16" class="cl">51.3</text>
<path fill="none" stroke="#ff0000" stroke-width="2.7" d="M158.7 1048.5l-1.1-8.7 0.3-10.8 0.8-6 2.8-2.2 1 10.9-0.5 10.9-0.5 3.6-2.8 2.3"/>
<path stroke="#ff0000" stroke-width="4.5" d="M152.4 1024.1L165.4 1037.1M152.4 1037.1L165.4 1024.1"/>
</g>
<rect x="86.2" y="961.1" width="334.6" height="271.5" fill="none" stroke="#000" stroke-width="1.8"/>
<text x="86.2" y="1266.4" class="tl" text-anchor="middle">0</text>
<text x="169.9" y="1266.4" class="tl" text-anchor="middle">90</text>
<text x="253.5" y="1266.4" class="tl" text-anchor="middle">180</text>
<text x="337.2" y="1266.4" class="tl" text-anchor="middle">270</text>
<text x="420.8" y="1266.4" class="tl" text-anchor="middle">360</text>
<text x="70.1" y="1242.4" class="tl" text-anchor="end">0</text>
<text x="70.1" y="1188.1" class="tl" text-anchor="end">2</text>
<text x="70.1" y="1133.8" class="tl" text-anchor="end">4</text>
<text x="70.1" y="1079.5" class="tl" text-anchor="end">6</text>
<text x="70.1" y="1025.2" class="tl" text-anchor="end">8</text>
<text x="70.1" y="970.9" class="tl" text-anchor="end">10</text>
<path stroke="#000" stroke-width="1.8" d="M86.2 1232.6v7.5M169.9 1232.6v7.5M253.5 1232.6v7.5M337.2 1232.6v7.5M420.8 1232.6v7.5M86.2 1232.6h-7.5M86.2 1178.3h-7.5M86.2 1124.0h-7.5M86.2 1069.7h-7.5M86.2 1015.4h-7.5M86.2 961.1h-7.5"/>
<text x="253.5" y="886.6" class="tt" text-anchor="middle">2014-2016</text>
<text x="252.5" y="916.8" class="tt" text-anchor="middle">(L<tspan class="sub" dy="4.5">s</tspan><tspan dy="-4.5">=52.2-74.6</tspan><tspan class="sup" dx="6" dy="-10">∘</tspan><tspan dx="3.5" dy="10">)</tspan></text>
<text x="253.5" y="947.6" class="tt" text-anchor="middle">N<tspan class="sub" dy="4.5">obs</tspan><tspan dy="-4.5">=14</tspan></text>
<clipPath id="c12"><rect x="489.3" y="961.1" width="334.6" height="271.5"/></clipPath>
<g clip-path="url(#c12)">
<rect x="489.3" y="961.1" width="331.8" height="268.8" fill="#faf8fb"/>
<path fill="#f5f3f8" d="M489.3 1229.9l331.8 0 0-268.8-331.8 0 0 266.1zM536.7 1115.9l-3.3-5.5-1.7-8.1 0.3-10.9 1.9-13.2 5.6-24.5 13.9-55 5.6-17.3 2.8-3.7 2.8 3.9 0.2 1.2 1.8 13.6 0.9 13.6-0.1 29.8-2.8 32-2.8 14.9-2.8 9.9-2.8 7-2.8 5.2-2.8 3.9-2.7 2.7-2.8 1.7-2.8 0.7-2.8-0.3z"/>
<path fill="#f0eef5" d="M489.3 1229.9l331.8 0 0-25.2-5.6-3.6-5.5-5.4-4.4-6.5-2.4-5.5-2.4-8.1-1.5-8.2-1.1-10.8-0.3-10.9 0.5-16.3 1.3-13.5 2-13.6 2.7-12.3 3-9.4 3.6-8.2 4.5-7.2 5.6-6.5 0-97.6-237.1 0 4.7 95 1.2 59.8-0.4 21.7-1.4 19-2.1 13.6-3 10.8-2.2 5.4-3 5.5-4.2 5.4-2.9 2.7-8.9 5.6-11.2 3.9-8.3 1.6-8.4 0.9-16.7 0.1-14-1.8-8.3-2.1-5.6-2.1 0 21.1zM489.3 1053.4l0 2.5 13.9-13.7 8.4-10.5 6.7-10.9 6.6-13.5 5.4-13.6 5.3-16.3 4.5-16.3-50.8 0 0 89.6z"/>
<path fill="#e8e7f2" d="M664.8 1205.4l14.1 2.1 13.9 0.3 14-1.3 11.1-2.6 8.4-3.2 8.4-4.7 7.8-6.8 6.4-8.2 4.6-8.1 3.5-8 6.9-21.9 6.1-27.1 12.1-64.5 4.1-17 4.2-12.8 2.8-5.6 2.8-4 2.8-2.5 2.8-1.6 5.6-1.1 13.9 0 0-45.7-228.4 0 6.3 76 5.3 48.9 6.1 40.7 6.3 27.2 3.7 11 4.7 10.7 3.6 6.2 5.6 7.2 5.6 5.2 5.5 3.8 8.4 4.1 8.4 2.7zM489.3 1004.5l0 2 8.4-2.7 5.5-3.6 5.6-5.2 5.6-7.3 4.5-7.6 3.9-7.8 4.5-11.2-38 0 0 40.7z"/>
<path fill="#e0e0ee" d="M670.2 1172.9l8.7 1.9 11.2 0.3 11.1-1.9 8.4-3.1 8.3-4.9 8.4-7.2 5.8-6.9 6.8-10.8 4.1-8.2 4.4-10.8 7.7-24.5 7-29.8 15.5-78.8 4.5-15.9 2.8-6.7 2.9-4.5-188.7 0 5.8 54.3 5.7 40.7 6.1 32.6 7.2 27.2 3.9 10.8 4.8 10.9 4.5 8.1 5.6 8 5.5 6.1 5.6 4.8 5.6 3.6 8.4 3.9zM489.3 974.7l2.8 0.5 2.8-0.1 5.6-1.8 5.5-3.7 7.4-8.5-24.1 0 0 10.9zM815.7 972l5.4 2.3 0-13.2-20.7 0 15.1 10.8z"/>
<path fill="#d7d7e9" d="M678 1148.4l9.3 0.6 8.3-1.5 8.4-3.2 5.6-3.4 7.1-6 6.8-7.8 5.6-8.3 4.5-8.4 4.9-10.8 4-10.9 8.7-29.9 7.6-35.3 11.4-62.4-165.7 0 5.9 46.2 5.9 35.3 7.4 32.5 7.8 24.1 8.4 18 5.5 8.8 5.6 6.9 5.6 5.3 5.6 4.1 5.6 3 8.3 2.8z"/>
<path fill="#cccce4" d="M680.3 1126.7l7 0 5.5-1.1 8.4-3.6 5.6-3.7 5.6-5.1 5.5-6.5 5.6-8.3 5.2-9.7 4.8-10.9 4.1-10.8 8-27.2 7.4-32.5 8.4-46.2-152.1 0 6 40.7 6.3 32.6 7.1 27.3 7.8 21.6 3.7 8.1 5.2 9.4 5.6 7.9 5.6 6.2 5.6 4.7 5.6 3.4 5.5 2.3 5.6 1.3z"/>
<path fill="#c0c1de" d="M670.4 1105l5.7 2 8.4 0.6 8.3-1.8 5.6-2.6 5.6-3.9 5.6-5.3 5.6-6.9 5.5-8.7 4.5-8.7 4.7-10.9 4.8-13 4.3-14.1 8-32.6 7.4-38-140.9 0 4.9 29.9 5.6 27.1 5.6 21.7 6.4 19 6.7 15.3 8.3 14 8.4 9.5 8.4 6.1z"/>
<path fill="#b5b5d7" d="M672 1088.7l6.9 1.8 5.6 0 5.6-1.2 5.5-2.4 5.6-3.9 5.6-5.3 5.6-7 4.1-6.4 4.4-8.2 4.9-10.8 7.7-21.8 8-29.8 6.8-32.6-130.8 0 4.5 24.4 5.4 24.5 6.2 21.7 6.3 17 6.1 12.9 7.8 12.2 8.4 8.9 8.3 5.4z"/>
<path fill="#aaa8d0" d="M678.2 1075.1l3.5 0.2 5.6-0.8 5.5-2.1 5.6-3.6 8.4-8.4 8.4-12.6 7.7-16.1 6.9-19 6.9-24.5 6.2-27.1-121.6 0 5 24.4 5.5 21.8 6.1 19 6.9 16.3 6.2 11.2 8.4 10.8 8.4 6.8 8.3 3.4z"/>
<path fill="#9e9ac8" d="M670.1 1058.8l3.2 1.4 5.6 1.2 5.6-0.4 5.6-1.7 8.3-5.5 5.6-5.8 4.1-5.4 7.9-13.6 8-19 7-21.8 6.8-27.1-112.9 0 4.2 19 4.4 16.3 4.3 13.6 5.2 13.5 5.2 10.9 5.6 9.1 5.6 7 8.4 7.1z"/>
<path fill="#928fc3" d="M675.2 1048l6.5 0.5 5.6-1.2 2.8-1.2 8.3-6.1 8.4-10.2 6.7-11.7 7.2-16.5 6.4-18.8 5.9-21.7-104.6 0 4 16.3 4.8 16.3 5.5 14.9 5.5 12.2 5.6 9.5 5.6 7.3 5.6 5.3 2.8 1.9 5.5 2.7z"/>
<path fill="#8784bd" d="M670.2 1034.4l3.1 1.3 5.6 1 5.6-0.6 2.8-0.9 5.5-3.2 2.8-2.2 5.6-5.8 7.6-11.3 6.4-12.7 6.6-17.2 6.6-21.7-96.6 0 8.1 27.1 8.3 20.1 8.4 13.9 5.6 6.4 5.6 4.5z"/>
<path fill="#7d77b7" d="M670.3 1023.5l5.8 2 5.6 0 2.8-0.6 2.8-1.1 4.9-3 6.2-5.7 7.6-10.6 6.4-12 5.5-13.5 6-17.9-88.6 0 7.4 22.6 8.3 18.4 8.4 12.5 2.8 3 5.6 4.5z"/>
<path fill="#7566ae" d="M669.2 1012.7l6.9 2.5 5.6-0.1 2.8-0.7 5.6-2.8 5.5-4.7 5.6-6.7 7.2-12 6.1-13.5 5-13.6-80.7 0 6.6 18.5 6.9 14.1 7.1 10.5 2.8 3.1 5.6 4.6z"/>
<path fill="#6c55a5" d="M672.5 1004.5l6.4 1.1 5.6-1.1 5.6-3.1 5.5-5 5.6-7.1 4-6.5 4.4-8.6 5.4-13.1-72.7 0 5.9 14.6 8.4 15 5.6 6.8 2.8 2.6 5.5 3.7z"/>
<path fill="#63449d" d="M668.8 993.7l4.5 2 5.6 0.7 5.6-1.3 5.6-3.2 5.5-5.4 5.6-7.5 5.5-9.8 3.8-8.1-64.4 0 4.9 10.8 5.6 9.5 5.6 7 5.6 4.7z"/>
<path fill="#5b3495" d="M669.7 985.5l3.6 1.6 5.6 0.5 5.6-1.4 2.8-1.5 5.5-4.5 2.8-3.1 5.6-7.9 4.5-8.1-55.6 0 3.7 7 5.6 8.4 2.8 3.2 5.6 4.8z"/>
<path fill="#53258e" d="M669.8 977.4l6.3 1.9 5.6-0.5 2.8-1.1 4.7-3 3.6-3.3 7.7-10.3-45.8 0 7.5 10.3 5.6 4.8z"/>
<path fill="#4b1687" d="M669.3 969.2l4 1.8 2.8 0.4 5.6-0.6 5.6-2.8 7.1-6.9-34.3 0 4.9 5.2 2.8 2.1z"/>
<path fill="#430780" d="M675.7 963.8l6-0.7 4.1-2-17.7 0 5.2 2.4z"/>
<path fill="none" stroke="#000" stroke-width="1.6" d="M821.1 1204.7l-6.9-4.7-5.1-5.4-1.9-2.8-2.8-5.2-2.8-7.8-2.3-11.4-1.1-10.8-0.3-13.6 0.6-15.2M805 1087.9l2.4-7.3 3.6-8.2 4.5-7.2 5.6-6.5M489.3 1055.9l6.8-6.4M520.2 1017.2l5.3-11.4 4.8-12.1 5.3-16.3 4.5-16.3M584 961.1l1 17.8M587.1 1019.3l2.6 69.4 0.2 27.2-0.4 21.7-1.1 16.3-1.9 13.5-2.6 10.9-1.9 5.4-2.5 5.5-3.6 5.4-2.3 2.7-6.6 5.4-5.2 2.9-5.6 2.3-11.1 2.8-14 1.5-8.3 0.1-8.4-0.4-8.3-1-5.6-1.2-5.6-1.5-5.6-2.1M489.3 975l5.6 0.1 5.6-1.8 5.5-3.7 2.8-2.7 4.6-5.8M599.1 961.1l5.5 51.6 5.6 40.7 5.9 32.6 6.1 24.4 3.7 11.4 4.1 10.3 4.3 8.8 4.5 7.5 3.9 5.3 5.5 6.1 5.8 4.9 8.2 5 8.3 3.3 8.4 1.8 5.6 0.4 5.6-0.1 8.3-1.2 8.4-2.6 8.4-4.2 6.8-5.1 7.1-7.1 5.6-7.5 5.5-9.6 5.1-11.1 4.1-10.8 4.2-13.6 4.2-16.3 3.7-16.3 5.2-26.2M774.3 1003.6l5-22.1 2.8-9.2 2.8-6.7 2.9-4.5M800.4 961.1l12.3 9.1 5.6 3.1 2.8 1M609.3 961.1l4.2 29.9 4.7 27.1 5.3 24.5 5.2 19.1 5.6 16.2 3.4 8.1 3.9 8.1 6.6 10.9 4.3 5.4 4.1 4.5 4.3 3.7 4.1 2.8 5.5 2.9 5.6 1.8 5.6 0.8 5.6-0.2 5.5-1.1 5.6-2.1 5.6-3.2 5.6-4.4 5.3-5.5 3-3.7 4.9-7.1 3.5-6.1 3.7-7.5 4.6-10.8M746.4 1036.7l7.1-32.2 7.9-43.4M617.5 961.1l2.2 12.8M628.3 1013.3l6 20.5 6.4 16.9 3.8 8.1 3.7 6.8 4.6 6.8 3.8 4.8 3.2 3.4 5.2 4.3 2.8 1.8 5.5 2.5 5.6 1.3 5.6 0 5.6-1.2 2.7-1 4.2-2.3 4.2-3 5.5-5.2 2.9-3.4 3.5-4.7 4.8-7.9 6.8-13.8 6.2-16.3 5.8-19 5.5-21.7 6.1-29.9M624.9 961.1l5.6 24.4 5.5 19 5.9 16.3 6.1 13.2M676.2 1061l5.5 0.4 2.8-0.4 2.8-0.6 5.5-2.6 5.6-4 2.8-2.7 5-5.8 3.7-5.5 4.7-8.1 3.3-6.8 7.1-17.6 6.7-21.8 6.1-24.4M631.8 961.1l3.7 13.6 4.4 13.5 4.1 10.9 4.2 9.2 3.9 7.1 4.5 6.8 5.6 6.4 5.6 4.5 5.5 2.6 5.6 1 5.6-0.6 5.6-2.3 5.5-4 5.6-5.8 5.6-7.9 3.8-6.7M725.3 971.9l3.1-10.8M638.8 961.1l3.8 11.3M662.4 1007.5l5.4 4.4 2.7 1.5 5.6 1.8 5.6-0.1 2.8-0.7 5.6-2.8 2.7-2.1 2.8-2.6 4.4-5.1 6.8-10.5 6.6-13.9 6.1-16.3M646.1 961.1l4.7 10.4M679.8 996.3l4.7-1.2 2.8-1.4 3.8-2.7 4.5-4.5 4.9-6.4 3.5-5.7 6.5-13.3M654.7 961.1l3.5 5.4 3.3 4.2M695.3 968.5l5.2-7.4M668.1 961.1l5.2 2.4 2.8 0.4 2.8-0.1 2.8-0.7 4.1-2"/>
<text x="800.8" y="1107.7" transform="rotate(-81.0 800.8 1107.7)" fill="#000" font-size="16" class="cl">120</text>
<text x="509.6" y="1034.4" transform="rotate(-53.3 509.6 1034.4)" fill="#000" font-size="16" class="cl">120</text>
<text x="586.1" y="999.1" transform="rotate(-273.0 586.1 999.1)" fill="#000" font-size="16" class="cl">120</text>
<text x="770.4" y="1023.5" transform="rotate(-79.3 770.4 1023.5)" fill="#000" font-size="16" class="cl">180</text>
<text x="741.1" y="1056.1" transform="rotate(-73.1 741.1 1056.1)" fill="#000" font-size="16" class="cl">240</text>
<text x="623.7" y="993.7" transform="rotate(-282.2 623.7 993.7)" fill="#000" font-size="16" class="cl">300</text>
<text x="659.4" y="1050.5" transform="rotate(-314.8 659.4 1050.5)" fill="#000" font-size="16" class="cl">360</text>
<text x="718.9" y="991.0" transform="rotate(-68.8 718.9 991.0)" fill="#000" font-size="16" class="cl">420</text>
<text x="650.8" y="991.0" transform="rotate(-298.8 650.8 991.0)" fill="#000" font-size="16" class="cl">480</text>
<text x="662.1" y="988.2" transform="rotate(-317.1 662.1 988.2)" fill="#000" font-size="16" class="cl">540</text>
<text x="678.9" y="979.3" transform="rotate(-4.2 678.9 979.3)" fill="#000" font-size="16" class="cl">600</text>
<path fill="none" stroke="#ffa500" stroke-width="2.7" d="M545.1 1095.5l-1.4-1.4-1.5-2.7-0.9-5.4 0-7.3M549.5 1033.9l3.9-15.4 2.8-8.3 2.8-4.8 1.9 1.9 0.9 1.3 0.2 1.4 1.1 13.5 0.1 10.9-0.7 13.6-0.7 8.7-2.1 13-3.5 13.2-2.8 6.4-2.8 4.1-2.7 2.1-2.8 0"/>
<text x="544.5" y="1056.1" transform="rotate(-79.4 544.5 1056.1)" fill="#ffa500" font-size="16" class="cl">87.6</text>
<path fill="none" stroke="#ff0000" stroke-width="2.7" d="M550.6 1072.5l-1.1-2.8-0.4-2.7 0.1-5.4 0.9-8.2 0.5-3.7 2.8-11.6 2.8-6.3 1.3 2.6 0.8 5.4-0.3 8.2-1 8.1-0.8 5.4-2.8 8.3-2.8 2.7"/>
<path stroke="#ff0000" stroke-width="4.5" d="M549.3 1048.0L562.3 1061.0M549.3 1061.0L562.3 1048.0"/>
</g>
<rect x="489.3" y="961.1" width="334.6" height="271.5" fill="none" stroke="#000" stroke-width="1.8"/>
<text x="489.3" y="1266.4" class="tl" text-anchor="middle">0</text>
<text x="573.0" y="1266.4" class="tl" text-anchor="middle">90</text>
<text x="656.6" y="1266.4" class="tl" text-anchor="middle">180</text>
<text x="740.2" y="1266.4" class="tl" text-anchor="middle">270</text>
<text x="823.9" y="1266.4" class="tl" text-anchor="middle">360</text>
<text x="473.2" y="1242.4" class="tl" text-anchor="end">0</text>
<text x="473.2" y="1188.1" class="tl" text-anchor="end">2</text>
<text x="473.2" y="1133.8" class="tl" text-anchor="end">4</text>
<text x="473.2" y="1079.5" class="tl" text-anchor="end">6</text>
<text x="473.2" y="1025.2" class="tl" text-anchor="end">8</text>
<text x="473.2" y="970.9" class="tl" text-anchor="end">10</text>
<path stroke="#000" stroke-width="1.8" d="M489.3 1232.6v7.5M573.0 1232.6v7.5M656.6 1232.6v7.5M740.2 1232.6v7.5M823.9 1232.6v7.5M489.3 1232.6h-7.5M489.3 1178.3h-7.5M489.3 1124.0h-7.5M489.3 1069.7h-7.5M489.3 1015.4h-7.5M489.3 961.1h-7.5"/>
<text x="656.6" y="886.6" class="tt" text-anchor="middle">2015-2017</text>
<text x="655.6" y="916.8" class="tt" text-anchor="middle">(L<tspan class="sub" dy="4.5">s</tspan><tspan dy="-4.5">=63.5-85.7</tspan><tspan class="sup" dx="6" dy="-10">∘</tspan><tspan dx="3.5" dy="10">)</tspan></text>
<text x="656.6" y="947.6" class="tt" text-anchor="middle">N<tspan class="sub" dy="4.5">obs</tspan><tspan dy="-4.5">=20</tspan></text>
<clipPath id="c13"><rect x="892.4" y="961.1" width="334.6" height="271.5"/></clipPath>
<g clip-path="url(#c13)">
<rect x="892.4" y="961.1" width="331.8" height="268.8" fill="#faf8fb"/>
<path fill="#f4f2f8" d="M944.9 1229.9l274.9 0-15.1-0.8-11.2-1.2-5.5-1.1-6.5-2.3-3.8-2.8-2.2-2.7-2.5-5.4-1.7-8.2-1.1-16.2-0.2-27.2 1-43.4 1.7-43.5 4.1-66.6 2.8-27.2 3-20.2-290.2 0 0 16.5 5.6 14.9 5.3 12 5.8 10.6 5.6 7.6 5.6 5.3 5.6 3.3 5.5 1.3 5.6-0.6 5.6-2.5 5.6-4.4 8.3-10.1 14-23.7 2.8-4.2 2.7-2.7 2.8-0.4 2.8 3.4 2.8 9 2.8 17.4 2.2 23.3 3.4 57.4 1.4 43.1 0.5 35.3-0.5 21.7-1.3 13.6-1.3 5.4-2.4 5.4-2.2 2.7-5.4 3.5-5.6 1.8-8.3 1.4-22.3 1.5zM1224.1 969.2l0.1-8.1-2.8 0 1.8 5.4z"/>
<path fill="#eeecf5" d="M1069.5 1189.2l12.5 1.6 11.2-0.5 11.1-2.5 8.4-3.4 8.3-5.4 8.4-8.3 6-8.7 5.2-10.5 4-11.2 3.8-13.6 3.4-16.3 3.1-19 5.8-48.8 7.6-81.5-166.2 0 5.8 73.3 3.8 38 4.9 35.3 6 27.2 3.6 11.4 4.3 10.3 4.6 8.1 5.1 7 5.6 5.7 5.5 4.2 8.4 4.5 8.4 2.7zM929.7 966.5l4.5-0.1 2.8-1.2 5.1-4.1-21.4 0 5.2 4.2 2.7 1.1z"/>
<path fill="#e5e4f0" d="M1076.6 1159.3l8.2 0.9 8.4-0.7 8.3-2.6 8.4-4.8 5.6-4.7 6.2-7.1 5.4-8.2 5.4-10.8 4.1-10.9 4.1-13.6 3.9-16.2 3.2-16.3 5.9-40.8 6.7-62.4-149 0 5.1 54.3 4.9 38 5.3 29.9 6.4 24.4 4.3 11.8 4.6 9.9 3.8 6.5 5.5 7.5 5.6 5.7 5.6 4.3 5.6 3 8.3 2.9z"/>
<path fill="#dcdcec" d="M1078 1134.9l6.8 1 5.6-0.3 8.3-2.5 5.6-3.1 5.6-4.4 6.4-7 5.4-8.2 5.5-10.8 4.3-10.9 3.5-10.9 7.2-29.8 5.9-35.3 6.3-51.6-136.2 0 4.4 40.7 5.2 35.3 5.4 27.2 6.1 21.7 3.7 9.9 4.1 9.1 4.2 7.6 4.2 6 4.2 5 5.6 5 5.6 3.5 5.5 2.3z"/>
<path fill="#d0d1e6" d="M1075.8 1113.1l6.2 1.9 5.6 0.3 8.3-1.8 5.6-2.9 5.6-4.4 5.6-6.1 4.1-6 4.6-8.1 4.8-10.9 3.9-10.8 7.3-27.2 6.5-35.3 5.6-40.7-125.8 0 4.1 32.6 4.8 29.8 4.8 22.3 5.6 19.8 6.9 17.7 7 12.7 8.4 10.1 8.3 6z"/>
<path fill="#c4c5e0" d="M1081.8 1096.8l5.8 0.6 5.6-1 5.5-2.5 3.7-2.5 4.7-4.2 5.6-7 4.7-7.8 3.6-7.3 7.4-19.8 5.9-21.8 5.5-27.1 5.4-35.3-116.7 0 4.3 29.9 5.1 27.1 5.1 20.7 5.5 17.3 5.9 13.6 8.1 13.2 8.4 8.6 2.7 2 5.6 2.6z"/>
<path fill="#b7b7d9" d="M1081.5 1080.6l3.3 0.6 5.6-0.2 5.5-1.8 5.6-3.6 3.5-3.2 4.9-5.7 7.8-13.3 6.6-16.3 6.4-21.7 5.4-24.4 5.1-29.9-108.3 0 4 24.4 4.3 21.8 4.9 19 5.4 16.3 6 13.5 7.8 12.4 5.6 6 2.7 2.2 5.6 3.1z"/>
<path fill="#aba9d0" d="M1077.9 1064.3l4.1 1.7 5.6 0.7 5.6-1 2.7-1.2 4.5-2.9 3.9-3.6 3.8-4.6 4.6-6.9 7-14.8 6.9-20.4 5.7-23.1 5.2-27.1-100.5 0 4 21.7 4.2 19 4.5 16.3 4.4 12.6 5.6 12.4 5.6 9.3 5.6 6.6 5.5 4.5z"/>
<path fill="#9e9ac8" d="M1078.2 1050.7l6.6 2.4 5.6 0 2.8-0.8 5.5-3 2.8-2.3 4.1-4.4 4.3-6 6.8-13.1 6.1-16.2 6-21.8 5.2-24.4-93.1 0 3.8 19 3.8 15.6 4.3 14.3 4.1 11 3.6 8 4.8 8.4 5.6 7.3 5.5 5z"/>
<path fill="#918ec2" d="M1081.8 1039.8l5.8 1.1 2.8-0.3 5.5-2.1 5.5-4.1 2.9-3.1 5.6-8 5.6-11 5.5-14.7 5.1-17.5 4.4-19-85.8 0 6.6 27.7 4.2 13 4.2 10.8 4.1 8.2 4.3 7.1 5.5 6.5 5.6 4.2z"/>
<path fill="#8582bc" d="M1084.7 1029l5.7 0 5.5-2.1 5.6-4.5 5.6-7 5.6-9.9 5.6-13.4 4.6-14.7 4.3-16.3-78.9 0 7.5 27.1 3.9 10.6 3.9 8.5 4.5 7.9 5.5 7.1 2.8 2.5 5.6 3.4z"/>
<path fill="#7a71b4" d="M1085.5 1018.1l4.9 0 5.5-2.2 5.6-4.6 5.6-7.4 4.2-7.5 4.2-9.4 4.3-12.3 4-13.6-71.8 0 3.9 13.6 3.8 11 3.4 8 4.2 8.1 3.6 5.5 5.5 6.2 2.8 2.1 5.6 2.4z"/>
<path fill="#715faa" d="M1083.6 1007.3l4 0.7 5.6-1 5.5-3.5 5.6-6.2 4-6.3 4.4-8.7 7.6-21.2-64.6 0 6.6 19 5.8 11.8 5.5 8 2.8 2.9 5.6 3.9z"/>
<path fill="#674ca1" d="M1081.4 996.4l3.4 1.4 5.6 0.2 5.5-2.3 2.8-2.1 4.8-5.4 3.6-5.4 5.6-11.1 4-10.6-57.2 0 4.2 10.9 4.4 9.1 5.5 8.5 5.6 5.5z"/>
<path fill="#5e3b98" d="M1084.3 988.2l3.3 0.7 2.8-0.2 5.5-2.3 2.8-2.2 3.7-4.1 4.7-7 5.7-12-49.2 0 4.5 9.7 5.5 8.9 2.8 3.3 5.6 4.3z"/>
<path fill="#552890" d="M1080.7 977.4l4.1 2.1 2.8 0.5 5.6-1 2.7-1.5 5.6-5.3 2.8-3.8 4.2-7.3-40.4 0 5.5 9.2 5.6 6.1z"/>
<path fill="#4c1888" d="M1081.5 969.2l3.3 1.7 2.8 0.6 5.6-1 5.5-3.9 4.6-5.5-29.8 0 5.7 6.5z"/>
<path fill="#430780" d="M1081.7 961.1l3.1 1.6 2.8 0.6 2.8-0.1 4.9-2.1-13.3 0z"/>
<path fill="none" stroke="#000" stroke-width="1.6" d="M1219.8 1229.9l-20.7-1.3-8.3-1.2-5.6-1.4-3.7-1.5-3.8-2.8-2.2-2.7-1.5-2.7-1.7-5.4-1-5.5-1.2-19 0-32.5 1.3-47.4M1172.6 1076.3l1.4-28.3 2.8-39.5 2.8-27.2 3-20.2M892.4 977.6l4.9 13.4 4.7 10.8 4.3 8.6 5.6 8.8 3.6 4.3 4.8 4.5 5.6 3.3 5.5 1.3 5.6-0.6 5.6-2.5 4.3-3.2 4.1-4.1 7.1-9.5 12.4-21.4 2.8-4.2 2.7-2.7 2.8-0.4 2.8 3.4 2.8 9 1 5.4 1.8 12 1.8 17.9 2.7 40.7 2 47.3M994.5 1150l0.1 31-0.7 19-1.6 10.9-1.7 5.4-1.4 2.7-2.2 2.7-2.6 2-2.8 1.5-5.6 1.8-11.1 1.7-20 1.2M1221.4 961.1l2.8 8.4M1011.4 961.1l1.6 17.8M1017 1019.3l5.2 39.5 2.9 16.3 3.5 16.3 3.7 13.6 3.7 10.9 4.2 9.9 4.9 9.1 6.2 8.5 5.6 5.7 5.6 4.3 8.4 4.2 8.3 2.2 8.4 0.4 8.3-1.4 5.6-1.9 5.6-2.9 5.6-4.1 5.6-5.4 5.5-7.1 4.8-8 3.6-7.5 3.5-8.8 3.5-10.8 3-10.9 3-13.6 5.2-29.8 4.9-38 5.1-48.9M1023.7 961.1l4.1 32.6 4.8 29.8 4.7 21.8 5.2 19 6 16.1 2.8 5.9 4.4 7.8 6.8 9.1 4.7 4.5 3.7 2.8 2.7 1.6 5.6 2.3 5.6 0.9 5.6-0.3 5.5-1.5 5.6-2.9 3.8-2.9 4.6-4.3 5.1-6.6 3.3-5 3.1-5.8 3.7-8.2 3.2-8.1 3.5-10.9 6-23.5M1144.9 995.4l4.6-34.3M1032.9 961.1l4 24.4 4.3 21.8 4.6 17.8 4.9 15.3M1071.2 1074.8l5.2 3.7 5.6 2.2 5.6 0.6 5.6-1 5.5-2.7 5.6-4.4 5.3-6.2 3.1-4.5 5-9.1 3.3-7.6 4.2-11.4 3.4-10.9 3.6-14.1 3.4-15.7 5.6-32.6M1047.4 991.5l4.6 15.8 4.9 13.7 5.6 11.8 5.6 8.6 5.5 6.1 5.6 3.8 5.6 1.8 5.6 0 2.8-0.8 5.5-3 5.6-5.2 5.6-7.5 5.6-10.4 5.5-13.8 4.2-13.3 4.9-19 3.9-19M1048.3 961.1l3 12.1 3.6 12.3 3.9 10.9 3.7 8.7 4.1 7.6 4.3 6.3 2.7 3.3 4.4 3.7M1109.8 1011.1l4.5-9.3 4.3-10.8 4.3-13.6 4.3-16.3M1055.7 961.1l4 12.3 5.6 13.2 5.6 9.7 5.5 6.5 2.8 2.3 2.8 1.6 2.8 1 2.8 0.3 2.8-0.2 2.8-0.8 4.7-2.9M1117.6 969.6l2.7-8.5M1063.6 961.1l3.8 8.3M1097.7 985l3.8-3.7 3-3.9 4.6-8.2 3.7-8.1M1073.5 961.1l2.9 3.8 2.8 2.7 2.8 2 2.8 1.3 2.8 0.6 2.8-0.2 2.8-0.8 2.7-1.6 2.8-2.3 4.6-5.5"/>
<text x="1172.0" y="1091.4" transform="rotate(-87.6 1172.0 1091.4)" fill="#000" font-size="16" class="cl">50</text>
<text x="994.1" y="1134.9" transform="rotate(-271.5 994.1 1134.9)" fill="#000" font-size="16" class="cl">50</text>
<text x="1014.9" y="999.1" transform="rotate(-275.7 1014.9 999.1)" fill="#000" font-size="16" class="cl">100</text>
<text x="1141.7" y="1015.4" transform="rotate(-79.9 1141.7 1015.4)" fill="#000" font-size="16" class="cl">150</text>
<text x="1058.9" y="1058.8" transform="rotate(-300.0 1058.9 1058.8)" fill="#000" font-size="16" class="cl">200</text>
<text x="1043.0" y="971.8" transform="rotate(-281.8 1043.0 971.8)" fill="#000" font-size="16" class="cl">250</text>
<text x="1096.8" y="1026.3" transform="rotate(-27.7 1096.8 1026.3)" fill="#000" font-size="16" class="cl">300</text>
<text x="1109.9" y="988.2" transform="rotate(-61.5 1109.9 988.2)" fill="#000" font-size="16" class="cl">350</text>
<text x="1079.3" y="985.5" transform="rotate(-329.6 1079.3 985.5)" fill="#000" font-size="16" class="cl">400</text>
<path fill="none" stroke="#ffa500" stroke-width="2.7" d="M1224.2 1139.6l-2.8-1.9-2.8-2.6-3-3.9M1203.9 1088l0-7.4 0.8-7.8 1.2-3.1 1.6-2.5 2.8 0.3 2.8 2.8 5.5 9 5.6 10.9M892.4 1095.8l1.9 4M900.2 1140.8l-2.2 0.7-2.8 0-2.8-0.6"/>
<text x="1206.9" y="1110.4" transform="rotate(-284.6 1206.9 1110.4)" fill="#ffa500" font-size="16" class="cl">30.4</text>
<text x="903.6" y="1120.5" transform="rotate(-282.6 903.6 1120.5)" fill="#ffa500" font-size="16" class="cl">30.4</text>
<path fill="none" stroke="#ff0000" stroke-width="2.7" d="M1224.2 1122.8l-2.8-0.4-2.8-2.3-2.8-4.1-2.7-6.6-1.6-7.1-0.7-5.5 0-2.7 0.6-2.7 1.7-2.6 2.7 2.1 2.8 4.4 2.8 5.6 2.8 7"/>
<path stroke="#ff0000" stroke-width="4.5" d="M1213.6 1102.0L1226.6 1115.0M1213.6 1115.0L1226.6 1102.0"/>
</g>
<rect x="892.4" y="961.1" width="334.6" height="271.5" fill="none" stroke="#000" stroke-width="1.8"/>
<text x="892.4" y="1266.4" class="tl" text-anchor="middle">0</text>
<text x="976.1" y="1266.4" class="tl" text-anchor="middle">90</text>
<text x="1059.7" y="1266.4" class="tl" text-anchor="middle">180</text>
<text x="1143.4" y="1266.4" class="tl" text-anchor="middle">270</text>
<text x="1227.0" y="1266.4" class="tl" text-anchor="middle">360</text>
<text x="876.3" y="1242.4" class="tl" text-anchor="end">0</text>
<text x="876.3" y="1188.1" class="tl" text-anchor="end">2</text>
<text x="876.3" y="1133.8" class="tl" text-anchor="end">4</text>
<text x="876.3" y="1079.5" class="tl" text-anchor="end">6</text>
<text x="876.3" y="1025.2" class="tl" text-anchor="end">8</text>
<text x="876.3" y="970.9" class="tl" text-anchor="end">10</text>
<path stroke="#000" stroke-width="1.8" d="M892.4 1232.6v7.5M976.1 1232.6v7.5M1059.7 1232.6v7.5M1143.4 1232.6v7.5M1227.0 1232.6v7.5M892.4 1232.6h-7.5M892.4 1178.3h-7.5M892.4 1124.0h-7.5M892.4 1069.7h-7.5M892.4 1015.4h-7.5M892.4 961.1h-7.5"/>
<text x="1059.7" y="886.6" class="tt" text-anchor="middle">2016-2018</text>
<text x="1058.7" y="916.8" class="tt" text-anchor="middle">(L<tspan class="sub" dy="4.5">s</tspan><tspan dy="-4.5">=74.6-96.6</tspan><tspan class="sup" dx="6" dy="-10">∘</tspan><tspan dx="3.5" dy="10">)</tspan></text>
<text x="1059.7" y="947.6" class="tt" text-anchor="middle">N<tspan class="sub" dy="4.5">obs</tspan><tspan dy="-4.5">=13</tspan></text>
<text x="1057.6" y="1302" class="tl" text-anchor="middle" textLength="285.4" lengthAdjust="spacing">Tilt Direction, <tspan font-style="italic">ψ</tspan> (°W)</text>
<text transform="translate(21.7 661) rotate(-90)" class="tl" text-anchor="middle" textLength="268.3" lengthAdjust="spacing">Tilt Magnitude, <tspan font-style="italic">β</tspan> (°)</text>
</svg></body></html>
